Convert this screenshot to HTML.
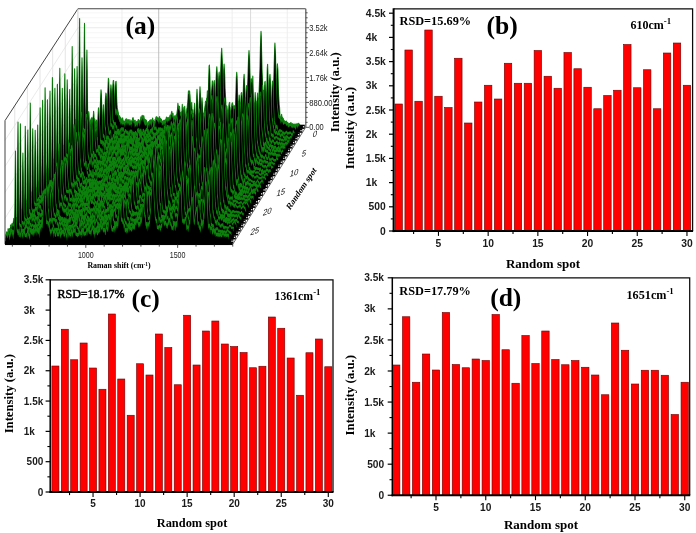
<!DOCTYPE html>
<html><head><meta charset="utf-8"><title>figure</title>
<style>html,body{margin:0;padding:0;background:#fff;}svg{display:block;filter:blur(0.5px);}</style>
</head><body>
<svg width="696" height="533" viewBox="0 0 696 533">
<rect width="696" height="533" fill="#fff"/>
<g id="panel-a">
<rect x="77.90" y="8.75" width="227.75" height="118.60" fill="#fff"/>
<path d="M77.90,122.37 H305.65" fill="none" stroke="#f4f4f4" stroke-width="0.8"/>
<path d="M77.90,117.39 H305.65" fill="none" stroke="#f4f4f4" stroke-width="0.8"/>
<path d="M77.90,112.41 H305.65" fill="none" stroke="#f4f4f4" stroke-width="0.8"/>
<path d="M77.90,107.43 H305.65" fill="none" stroke="#f4f4f4" stroke-width="0.8"/>
<path d="M5.00,218.29 L77.90,102.45 H305.65" fill="none" stroke="#e4e4e4" stroke-width="0.8"/>
<path d="M77.90,97.47 H305.65" fill="none" stroke="#f4f4f4" stroke-width="0.8"/>
<path d="M77.90,92.49 H305.65" fill="none" stroke="#f4f4f4" stroke-width="0.8"/>
<path d="M77.90,87.51 H305.65" fill="none" stroke="#f4f4f4" stroke-width="0.8"/>
<path d="M77.90,82.53 H305.65" fill="none" stroke="#f4f4f4" stroke-width="0.8"/>
<path d="M5.00,192.33 L77.90,77.55 H305.65" fill="none" stroke="#e4e4e4" stroke-width="0.8"/>
<path d="M77.90,72.57 H305.65" fill="none" stroke="#f4f4f4" stroke-width="0.8"/>
<path d="M77.90,67.59 H305.65" fill="none" stroke="#f4f4f4" stroke-width="0.8"/>
<path d="M77.90,62.61 H305.65" fill="none" stroke="#f4f4f4" stroke-width="0.8"/>
<path d="M77.90,57.63 H305.65" fill="none" stroke="#f4f4f4" stroke-width="0.8"/>
<path d="M5.00,166.38 L77.90,52.65 H305.65" fill="none" stroke="#e4e4e4" stroke-width="0.8"/>
<path d="M77.90,47.67 H305.65" fill="none" stroke="#f4f4f4" stroke-width="0.8"/>
<path d="M77.90,42.69 H305.65" fill="none" stroke="#f4f4f4" stroke-width="0.8"/>
<path d="M77.90,37.71 H305.65" fill="none" stroke="#f4f4f4" stroke-width="0.8"/>
<path d="M77.90,32.73 H305.65" fill="none" stroke="#f4f4f4" stroke-width="0.8"/>
<path d="M5.00,140.42 L77.90,27.75 H305.65" fill="none" stroke="#e4e4e4" stroke-width="0.8"/>
<path d="M77.90,22.77 H305.65" fill="none" stroke="#f4f4f4" stroke-width="0.8"/>
<path d="M77.90,17.79 H305.65" fill="none" stroke="#f4f4f4" stroke-width="0.8"/>
<path d="M77.90,12.81 H305.65" fill="none" stroke="#f4f4f4" stroke-width="0.8"/>
<line x1="121.98" y1="8.75" x2="121.98" y2="127.35" stroke="#ececec" stroke-width="0.9"/>
<line x1="158.71" y1="8.75" x2="158.71" y2="127.35" stroke="#b8b8b8" stroke-width="0.9"/>
<line x1="232.18" y1="8.75" x2="232.18" y2="127.35" stroke="#ececec" stroke-width="0.9"/>
<line x1="250.55" y1="8.75" x2="250.55" y2="127.35" stroke="#d8d8d8" stroke-width="0.9"/>
<line x1="287.28" y1="8.75" x2="287.28" y2="127.35" stroke="#ececec" stroke-width="0.9"/>
<line x1="65.27" y1="147.60" x2="65.27" y2="28.12" stroke="#dedede" stroke-width="0.8"/>
<line x1="52.65" y1="167.84" x2="52.65" y2="47.50" stroke="#dedede" stroke-width="0.8"/>
<line x1="40.02" y1="188.09" x2="40.02" y2="66.87" stroke="#dedede" stroke-width="0.8"/>
<line x1="27.39" y1="208.34" x2="27.39" y2="86.25" stroke="#dedede" stroke-width="0.8"/>
<line x1="14.77" y1="228.59" x2="14.77" y2="105.62" stroke="#dedede" stroke-width="0.8"/>
<path d="M5.0,244.25 V120.61 L77.90,8.75 H305.65" fill="none" stroke="#444" stroke-width="1"/>
<line x1="77.90" y1="8.75" x2="77.90" y2="127.35" stroke="#c8c8c8" stroke-width="0.8"/>
<clipPath id="tailclip"><path d="M287.7,107.3 L211.8,252.25 H315.6 V107.3Z"/></clipPath>
<g stroke-linejoin="round">
<defs><path id="s0" d="M77.0 128.8L77.0 123.7L77.4 124.1L77.8 123.2L78.2 125.0L78.7 123.9L79.1 123.4L79.5 125.1L79.9 121.4L80.3 122.2L80.7 121.3L81.1 124.3L81.5 125.5L81.9 125.2L82.3 124.6L82.7 123.1L83.1 123.2L83.5 124.4L83.9 125.7L84.3 125.3L84.8 121.8L85.2 123.9L85.6 122.1L86.0 118.8L86.4 105.9L86.6 76.0L86.9 50.0L87.2 72.8L87.2 76.8L87.6 110.5L88.0 122.3L88.4 122.1L88.8 123.0L89.2 126.0L89.6 123.0L90.0 122.3L90.4 121.5L90.9 120.4L91.3 121.9L91.7 122.9L92.1 125.8L92.5 123.2L92.9 124.5L93.3 124.5L93.7 125.7L94.1 125.3L94.5 123.8L94.9 119.3L95.3 123.5L95.7 124.5L96.1 122.5L96.5 120.0L97.0 121.0L97.4 126.0L97.8 127.6L98.2 124.9L98.6 125.5L99.0 126.4L99.4 123.0L99.8 121.6L100.2 122.8L100.6 123.1L101.0 122.8L101.4 120.6L101.8 121.6L102.2 122.2L102.6 122.3L103.1 126.1L103.5 122.3L103.9 121.6L104.3 122.1L104.7 126.7L105.1 125.9L105.5 122.9L105.9 126.7L106.3 125.0L106.7 122.2L107.1 125.4L107.5 121.2L107.9 121.6L108.3 122.9L108.7 122.4L109.2 121.6L109.6 122.1L110.0 120.3L110.4 122.8L110.8 123.0L111.2 120.2L111.6 120.7L112.0 122.1L112.4 118.7L112.8 115.7L113.2 117.0L113.6 117.5L114.0 112.8L114.4 107.1L114.8 99.5L115.3 86.3L115.8 81.6L116.1 81.3L116.5 94.3L116.9 103.9L117.3 107.9L117.7 110.2L118.1 112.6L118.5 114.9L118.9 116.4L119.3 116.8L119.7 116.1L120.1 117.4L120.5 117.6L120.9 117.9L121.4 119.6L121.8 119.3L122.2 119.9L122.6 117.8L123.0 120.3L123.4 122.6L123.8 123.5L124.2 123.2L124.6 121.5L125.0 123.3L125.4 122.6L125.8 119.8L126.2 126.9L126.6 126.7L127.0 124.2L127.5 123.1L127.9 123.0L128.3 124.2L128.7 122.7L129.1 122.9L129.5 124.4L129.9 119.6L130.3 121.7L130.7 124.1L131.1 124.1L131.5 124.3L131.9 124.1L132.3 127.6L132.7 126.5L133.1 122.9L133.6 125.6L134.0 124.6L134.4 122.4L134.8 121.8L135.2 120.4L135.6 125.7L136.0 125.1L136.4 124.9L136.8 123.0L137.2 121.5L137.6 127.6L138.0 123.2L138.4 126.1L138.8 123.3L139.2 126.2L139.7 124.2L140.1 121.6L140.5 123.1L140.9 123.0L141.3 121.8L141.7 122.4L142.1 123.0L142.5 120.1L142.9 119.8L143.3 121.8L143.7 116.6L144.1 121.4L144.5 119.0L144.9 120.2L145.4 120.2L145.8 119.6L146.2 120.7L146.6 120.6L147.0 124.7L147.4 126.3L147.8 123.1L148.2 124.9L148.6 125.7L149.0 126.8L149.4 122.3L149.8 121.6L150.2 120.1L150.6 123.9L151.0 123.6L151.5 125.5L151.9 122.7L152.3 120.3L152.7 123.9L153.1 120.7L153.5 120.6L153.9 122.7L154.3 126.6L154.7 121.8L155.1 122.9L155.5 124.1L155.9 122.6L156.3 122.0L156.7 119.8L157.1 123.4L157.6 120.6L158.0 118.7L158.4 117.9L158.8 120.2L159.2 121.8L159.6 119.0L160.0 119.9L160.4 120.5L160.8 118.6L161.2 121.3L161.6 126.1L162.0 124.4L162.4 126.6L162.8 122.5L163.2 122.1L163.7 123.6L164.1 123.1L164.5 121.4L164.9 122.2L165.3 120.2L165.7 122.0L166.1 120.6L166.5 119.3L166.9 118.6L167.3 122.5L167.7 121.0L168.1 125.5L168.5 125.6L168.9 127.2L169.3 122.2L169.8 124.6L170.2 123.1L170.6 122.8L171.0 122.3L171.4 123.0L171.8 121.6L172.2 118.0L172.6 119.5L173.0 118.6L173.4 116.8L173.8 117.9L174.2 120.5L174.6 120.7L175.0 118.4L175.4 122.8L175.9 122.6L176.3 119.7L176.7 119.1L177.1 120.2L177.5 119.1L177.9 119.7L178.3 122.0L178.7 123.1L179.1 121.2L179.5 116.8L179.9 116.6L180.3 115.3L180.7 112.7L181.1 112.6L181.5 111.7L182.0 115.6L182.4 115.7L182.8 121.6L183.2 119.4L183.6 120.7L184.0 123.8L184.4 120.2L184.8 120.8L185.2 124.6L185.6 123.5L186.0 121.0L186.4 121.4L186.8 119.2L187.2 118.4L187.6 118.0L188.1 118.3L188.5 116.1L188.9 116.1L189.3 115.7L189.7 119.1L190.1 113.2L190.5 108.3L190.9 107.1L191.3 105.8L191.7 102.2L192.1 110.4L192.5 111.5L192.9 109.9L193.3 116.3L193.7 116.3L194.2 114.5L194.6 117.8L195.0 118.0L195.4 117.6L195.8 120.8L196.2 120.6L196.6 119.9L197.0 118.7L197.4 119.9L197.8 120.6L198.2 122.4L198.6 121.8L199.0 119.4L199.4 119.9L199.8 121.8L200.3 122.5L200.7 116.3L201.1 116.9L201.5 118.0L201.9 124.2L202.3 120.4L202.7 119.3L203.1 116.7L203.5 118.0L203.9 119.2L204.3 118.4L204.7 122.4L205.1 118.2L205.5 117.7L205.9 119.0L206.4 115.3L206.8 112.4L207.2 116.3L207.6 115.2L208.0 112.2L208.4 111.3L208.8 112.7L209.2 115.2L209.6 111.3L210.0 112.3L210.4 116.8L210.8 118.7L211.2 113.6L211.6 112.8L212.0 110.3L212.5 110.4L212.9 112.0L213.3 108.3L213.7 108.4L214.1 102.2L214.5 95.9L214.8 93.0L215.3 98.4L215.7 103.0L216.1 106.2L216.5 109.1L216.9 110.7L217.3 112.7L217.7 114.8L218.1 113.8L218.6 114.8L219.0 116.8L219.4 117.0L219.8 115.6L220.2 114.9L220.6 113.6L221.0 112.5L221.4 110.4L221.8 108.4L222.2 106.8L222.6 98.9L223.0 88.6L223.4 77.8L223.8 68.1L224.1 64.1L224.7 75.0L225.1 89.4L225.5 96.6L225.9 104.4L226.3 106.3L226.7 111.8L227.1 117.6L227.5 117.6L227.9 113.4L228.3 115.9L228.7 118.9L229.1 119.2L229.5 117.1L229.9 116.6L230.3 117.1L230.8 114.9L231.2 115.6L231.6 117.1L232.0 116.5L232.4 114.1L232.8 114.3L233.2 113.9L233.6 116.9L234.0 115.4L234.4 112.3L234.8 112.5L235.2 110.6L235.6 111.9L236.0 112.7L236.5 115.5L236.9 111.8L237.3 112.9L237.7 115.9L238.1 116.1L238.5 111.2L238.9 114.0L239.3 111.8L239.7 109.5L240.1 109.7L240.5 112.5L240.9 112.5L241.3 113.4L241.7 113.2L242.1 114.3L242.6 116.4L243.0 115.9L243.4 116.4L243.8 117.3L244.2 117.9L244.6 118.6L245.0 117.1L245.4 119.7L245.8 119.7L246.2 118.4L246.6 120.3L247.0 118.8L247.4 120.8L247.8 118.5L248.2 114.6L248.7 112.2L249.1 111.0L249.5 108.8L249.9 107.0L250.3 96.0L250.7 88.8L251.1 79.6L251.5 78.8L251.9 82.3L252.3 93.3L252.7 97.6L253.1 102.0L253.5 110.7L253.9 111.7L254.3 111.6L254.8 116.4L255.2 118.3L255.6 117.4L256.0 115.7L256.4 115.9L256.8 113.7L257.2 113.7L257.6 114.0L258.0 114.5L258.4 113.5L258.8 113.8L259.2 118.4L259.6 118.4L260.0 119.1L260.4 119.0L260.9 116.4L261.3 114.2L261.7 110.9L262.1 110.8L262.5 106.1L262.9 97.1L263.4 90.2L263.7 91.7L264.1 97.5L264.5 104.9L264.9 107.0L265.3 109.2L265.7 111.0L266.1 112.1L266.5 110.2L267.0 111.6L267.4 105.8L267.8 100.5L268.2 104.1L268.6 106.4L269.0 110.0L269.4 115.6L269.8 116.4L270.2 117.4L270.6 116.7L271.0 116.4L271.4 117.6L271.8 119.5L272.2 118.8L272.6 118.2L273.1 116.3L273.5 116.0L273.9 117.2L274.3 117.8L274.7 115.0L275.1 112.9L275.5 109.9L275.9 102.6L276.3 93.9L276.7 80.3L277.1 66.3L277.4 63.9L277.9 70.3L278.3 87.2L278.7 96.4L279.2 104.7L279.6 107.9L280.0 116.8L280.4 118.1L280.8 117.5L281.2 117.2L281.6 114.4L282.0 117.5L282.4 117.1L282.8 118.2L283.2 118.5L283.6 119.6L284.0 121.3L284.4 120.9L284.8 122.8L285.3 121.6L285.7 123.3L286.1 122.9L286.5 121.1L286.9 122.8L287.3 123.2L287.7 122.5L288.1 123.3L288.5 124.5L288.9 124.0L289.3 123.6L289.7 123.4L290.1 124.7L290.5 123.0L290.9 122.5L291.4 123.9L291.8 124.2L292.2 124.9L292.6 123.6L293.0 125.0L293.4 124.3L293.8 125.2L294.2 125.7L294.6 124.6L295.0 123.7L295.4 124.6L295.8 125.5L296.2 124.5L296.6 125.0L297.0 124.8L297.5 123.7L297.9 123.7L298.3 125.2L298.7 123.2L299.1 124.6L299.5 124.4L299.9 125.6L299.9 128.8"/></defs>
<use href="#s0" fill="#0c820c" stroke="#0c820c" stroke-width="1.1"/>
<use href="#s0" y="2.84" fill="#000"/>
<use href="#s0" y="2.09" fill="#000" clip-path="url(#tailclip)"/>
<rect x="299.2" y="124.7" width="5.6" height="4.2" fill="#000"/>
<defs><path id="s1" d="M74.6 132.7L74.6 125.2L75.0 123.2L75.4 119.3L75.8 119.8L76.2 122.1L76.6 122.0L77.0 121.8L77.4 121.3L77.8 121.6L78.2 121.4L78.6 121.8L79.0 122.7L79.4 120.5L79.8 119.8L80.3 123.8L80.7 124.7L81.1 122.4L81.5 124.2L81.9 123.2L82.3 122.7L82.7 121.1L83.1 121.1L83.5 112.3L83.9 91.0L84.2 51.7L84.5 23.4L84.7 50.0L84.8 55.1L85.1 101.7L85.5 117.7L85.9 118.6L86.4 125.1L86.8 121.7L87.2 120.0L87.6 124.6L88.0 122.8L88.4 122.6L88.8 123.6L89.2 126.6L89.6 126.3L90.0 123.3L90.4 120.7L90.8 121.4L91.2 118.3L91.6 121.3L92.0 117.2L92.5 121.7L92.9 119.1L93.3 118.0L93.7 118.2L94.1 118.4L94.5 122.4L94.9 126.1L95.3 124.1L95.7 125.6L96.1 123.5L96.5 124.9L96.9 124.0L97.3 123.3L97.7 122.7L98.1 124.0L98.6 120.9L99.0 123.4L99.4 123.3L99.8 122.1L100.2 122.6L100.6 120.1L101.0 122.1L101.4 123.4L101.8 120.9L102.2 121.1L102.6 123.7L103.0 123.9L103.4 122.6L103.8 120.1L104.3 120.1L104.7 121.5L105.1 126.5L105.5 122.6L105.9 124.6L106.3 125.8L106.7 124.5L107.1 122.4L107.5 121.7L107.9 116.7L108.3 119.8L108.7 121.7L109.1 118.4L109.5 118.6L109.9 119.3L110.4 119.5L110.8 116.8L111.2 111.3L111.6 108.3L112.0 104.9L112.4 95.4L112.8 85.8L113.3 80.6L113.6 80.6L114.0 89.5L114.4 96.5L114.8 105.4L115.2 112.2L115.6 112.1L116.0 109.1L116.5 113.9L116.9 110.9L117.3 112.4L117.7 111.9L118.1 113.7L118.5 117.0L118.9 115.6L119.3 118.5L119.7 118.9L120.1 118.7L120.5 122.4L120.9 120.3L121.3 120.1L121.7 121.4L122.1 122.6L122.6 121.4L123.0 120.8L123.4 121.8L123.8 121.5L124.2 121.8L124.6 125.2L125.0 120.9L125.4 119.7L125.8 123.4L126.2 118.6L126.6 121.2L127.0 122.6L127.4 121.5L127.8 119.4L128.2 122.6L128.7 119.9L129.1 121.1L129.5 123.3L129.9 121.6L130.3 122.8L130.7 121.7L131.1 120.8L131.5 121.9L131.9 125.0L132.3 119.8L132.7 118.2L133.1 117.7L133.5 120.4L133.9 120.1L134.3 120.2L134.8 124.7L135.2 123.7L135.6 122.6L136.0 124.2L136.4 122.7L136.8 121.4L137.2 122.5L137.6 124.8L138.0 120.1L138.4 119.5L138.8 120.7L139.2 120.2L139.6 123.9L140.0 121.7L140.4 121.1L140.9 116.9L141.3 117.2L141.7 118.5L142.1 115.3L142.5 115.8L142.9 118.6L143.3 119.8L143.7 115.5L144.1 119.9L144.5 121.6L144.9 121.7L145.3 123.1L145.7 122.1L146.1 121.6L146.5 121.5L147.0 125.7L147.4 126.0L147.8 126.5L148.2 122.1L148.6 121.6L149.0 126.2L149.4 122.6L149.8 120.3L150.2 121.7L150.6 121.6L151.0 119.6L151.4 125.0L151.8 122.5L152.2 120.4L152.6 118.0L153.1 120.3L153.5 124.1L153.9 121.6L154.3 123.4L154.7 122.2L155.1 119.4L155.5 121.5L155.9 117.4L156.3 116.9L156.7 116.8L157.1 117.2L157.5 119.0L157.9 118.2L158.3 118.6L158.7 120.7L159.2 120.7L159.6 116.6L160.0 119.5L160.4 118.7L160.8 120.0L161.2 119.6L161.6 119.8L162.0 123.2L162.4 121.4L162.8 122.1L163.2 120.7L163.6 122.7L164.0 120.0L164.4 121.7L164.8 123.5L165.3 119.9L165.7 122.3L166.1 118.4L166.5 117.1L166.9 119.6L167.3 117.5L167.7 121.0L168.1 117.9L168.5 118.3L168.9 117.4L169.3 118.0L169.7 116.8L170.1 115.1L170.5 117.1L170.9 116.1L171.4 112.8L171.8 111.4L172.2 114.0L172.6 115.2L173.0 113.2L173.4 119.2L173.8 122.8L174.2 117.8L174.6 116.4L175.0 115.6L175.4 119.7L175.8 117.2L176.2 116.5L176.6 115.5L177.0 112.9L177.5 109.4L177.9 103.2L178.3 106.8L178.7 105.9L179.1 108.0L179.5 106.4L179.9 111.6L180.3 112.8L180.7 113.5L181.1 119.3L181.5 115.3L181.9 114.5L182.3 116.8L182.7 117.5L183.1 117.6L183.6 116.1L184.0 115.8L184.4 114.6L184.8 117.4L185.2 117.4L185.6 115.4L186.0 113.8L186.4 114.0L186.8 109.1L187.2 107.4L187.6 103.4L188.0 99.1L188.4 91.5L188.8 90.7L189.2 92.0L189.7 95.1L190.1 100.3L190.5 108.1L190.9 110.6L191.3 110.8L191.7 111.9L192.1 114.0L192.5 116.2L192.9 115.8L193.3 114.0L193.7 113.5L194.1 115.4L194.5 117.3L194.9 117.1L195.4 119.5L195.8 115.4L196.2 114.1L196.6 115.4L197.0 114.8L197.4 112.8L197.8 114.8L198.2 115.3L198.6 114.1L199.0 116.2L199.4 115.0L199.8 117.0L200.2 114.4L200.6 116.2L201.0 115.2L201.5 114.6L201.9 116.9L202.3 115.8L202.7 113.6L203.1 113.5L203.5 113.7L203.9 112.9L204.3 111.4L204.7 108.4L205.1 106.2L205.5 101.5L205.9 101.1L206.3 103.2L206.7 108.4L207.1 107.9L207.6 107.4L208.0 109.0L208.4 106.3L208.8 105.1L209.2 105.3L209.6 107.0L210.0 102.1L210.4 101.1L210.8 102.5L211.2 93.5L211.6 90.8L212.0 86.0L212.3 80.8L212.8 83.2L213.2 91.3L213.7 96.0L214.1 99.6L214.5 106.9L214.9 107.0L215.3 106.9L215.7 110.1L216.1 108.3L216.5 109.6L216.9 108.6L217.3 108.5L217.7 105.1L218.1 105.6L218.5 105.4L218.9 106.2L219.3 102.4L219.8 93.0L220.2 87.0L220.6 76.0L221.0 62.0L221.4 52.5L221.7 48.3L222.2 58.6L222.6 70.8L223.0 85.6L223.4 94.3L223.8 100.2L224.2 104.8L224.6 106.4L225.0 107.4L225.4 110.2L225.9 111.6L226.3 110.8L226.7 108.0L227.1 110.0L227.5 113.2L227.9 111.6L228.3 110.1L228.7 110.8L229.1 111.1L229.5 112.4L229.9 111.6L230.3 113.4L230.7 110.7L231.1 107.2L231.5 106.8L232.0 103.5L232.4 102.8L232.8 104.2L233.2 108.6L233.6 107.1L234.0 108.5L234.4 113.3L234.8 108.8L235.2 107.9L235.6 106.9L236.0 105.8L236.4 107.5L236.8 106.3L237.2 105.9L237.6 101.7L238.1 103.2L238.5 101.3L238.9 107.2L239.3 107.6L239.7 107.2L240.1 109.6L240.5 111.6L240.9 114.0L241.3 110.6L241.7 109.8L242.1 108.3L242.5 111.5L242.9 108.6L243.3 109.4L243.7 109.0L244.2 109.1L244.6 110.3L245.0 109.7L245.4 106.3L245.8 106.3L246.2 104.0L246.6 100.9L247.0 96.0L247.4 87.9L247.8 81.8L248.2 68.8L248.6 57.3L249.0 50.5L249.4 57.0L249.8 71.4L250.3 82.3L250.7 92.8L251.1 94.4L251.5 102.1L251.9 104.6L252.3 104.8L252.7 106.4L253.1 103.5L253.5 104.5L253.9 106.6L254.3 103.2L254.7 105.9L255.1 102.0L255.5 108.2L255.9 109.8L256.4 109.2L256.8 110.8L257.2 107.5L257.6 104.1L258.0 100.9L258.4 99.9L258.8 97.5L259.2 89.2L259.6 78.9L260.0 66.6L260.4 48.3L261.0 31.4L261.2 34.0L261.6 52.1L262.0 69.1L262.5 81.2L262.9 93.0L263.3 96.1L263.7 98.0L264.1 99.3L264.5 96.9L264.9 91.0L265.3 90.3L265.7 93.3L266.1 99.3L266.5 103.3L266.9 107.9L267.3 108.7L267.7 112.8L268.1 113.8L268.6 112.5L269.0 110.5L269.4 113.3L269.8 113.0L270.2 111.6L270.6 112.6L271.0 111.4L271.4 110.0L271.8 111.4L272.2 110.7L272.6 104.7L273.0 101.0L273.4 92.1L273.8 79.5L274.2 64.2L274.7 47.9L274.9 43.0L275.5 54.0L275.9 77.1L276.3 87.5L276.7 97.2L277.1 104.7L277.5 107.5L277.9 110.7L278.3 114.4L278.7 115.0L279.1 115.5L279.5 115.6L279.9 116.7L280.3 117.8L280.8 122.3L281.2 121.5L281.6 119.3L282.0 118.7L282.4 120.5L282.8 121.2L283.2 122.1L283.6 122.8L284.0 121.7L284.4 121.1L284.8 121.9L285.2 122.0L285.6 121.3L286.0 123.4L286.5 123.3L286.9 123.5L287.3 122.8L287.7 124.7L288.1 125.7L288.5 124.4L288.9 124.9L289.3 124.4L289.7 123.9L290.1 124.0L290.5 123.6L290.9 124.2L291.3 124.6L291.7 126.2L292.1 124.6L292.6 126.1L293.0 125.6L293.4 124.2L293.8 126.3L294.2 125.0L294.6 125.9L295.0 125.7L295.4 127.0L295.8 127.8L296.2 125.9L296.6 123.8L297.0 124.3L297.4 125.1L297.4 132.7"/></defs>
<use href="#s1" fill="#0c820c" stroke="#0c820c" stroke-width="1.1"/>
<use href="#s1" y="3.04" fill="#000"/>
<use href="#s1" y="2.29" fill="#000" clip-path="url(#tailclip)"/>
<rect x="296.7" y="128.6" width="5.6" height="4.2" fill="#000"/>
<defs><path id="s2" d="M72.1 136.7L72.1 133.4L72.5 135.2L72.9 134.4L73.3 135.5L73.7 131.5L74.1 131.1L74.5 134.2L74.9 130.5L75.4 130.1L75.8 135.1L76.2 130.0L76.6 130.1L77.0 127.8L77.4 133.0L77.8 131.5L78.2 131.2L78.6 131.4L79.0 131.5L79.4 129.8L79.8 133.6L80.2 134.2L80.6 134.0L81.0 130.0L81.5 113.1L81.7 82.1L82.0 57.9L82.3 76.4L82.3 83.2L82.7 118.7L83.1 127.4L83.5 128.7L83.9 130.4L84.3 131.9L84.7 129.0L85.1 132.0L85.5 130.8L85.9 129.5L86.3 131.6L86.7 130.3L87.1 133.3L87.6 130.4L88.0 130.7L88.4 133.9L88.8 130.6L89.2 131.9L89.6 127.7L90.0 128.9L90.4 128.1L90.8 127.7L91.2 129.6L91.6 129.8L92.0 131.7L92.4 130.3L92.8 131.2L93.2 131.2L93.7 135.5L94.1 131.5L94.5 131.8L94.9 135.2L95.3 133.0L95.7 131.6L96.1 130.0L96.5 133.3L96.9 129.7L97.3 131.6L97.7 127.5L98.1 130.8L98.5 130.4L98.9 132.1L99.3 134.1L99.8 130.7L100.2 129.9L100.6 128.4L101.0 129.1L101.4 131.9L101.8 134.8L102.2 134.0L102.6 133.6L103.0 133.7L103.4 131.1L103.8 130.6L104.2 131.4L104.6 130.8L105.0 131.0L105.4 130.2L105.9 128.8L106.3 127.6L106.7 129.8L107.1 131.6L107.5 126.3L107.9 125.9L108.3 122.7L108.7 124.8L109.1 120.3L109.5 113.8L109.9 107.8L110.3 96.0L110.9 84.8L111.1 86.2L111.5 94.8L112.0 108.6L112.4 117.8L112.8 119.5L113.2 120.4L113.6 122.6L114.0 126.3L114.4 123.6L114.8 122.4L115.2 122.6L115.6 125.3L116.0 125.7L116.4 125.8L116.8 128.9L117.2 132.7L117.6 130.4L118.1 129.6L118.5 130.3L118.9 129.1L119.3 131.5L119.7 131.5L120.1 132.0L120.5 130.6L120.9 128.4L121.3 131.0L121.7 127.7L122.1 127.6L122.5 128.9L122.9 129.8L123.3 127.9L123.7 130.9L124.2 131.8L124.6 133.8L125.0 131.8L125.4 129.5L125.8 130.2L126.2 130.6L126.6 131.9L127.0 131.7L127.4 134.5L127.8 131.0L128.2 132.5L128.6 134.2L129.0 134.2L129.4 134.3L129.8 131.3L130.3 129.9L130.7 133.8L131.1 131.0L131.5 130.1L131.9 132.4L132.3 134.9L132.7 134.4L133.1 134.0L133.5 132.1L133.9 132.6L134.3 135.5L134.7 132.9L135.1 135.0L135.5 131.3L135.9 133.7L136.4 133.6L136.8 133.8L137.2 133.2L137.6 129.4L138.0 128.8L138.4 128.7L138.8 128.8L139.2 131.8L139.6 130.5L140.0 130.1L140.4 131.0L140.8 129.1L141.2 131.2L141.6 132.1L142.0 133.3L142.5 135.5L142.9 131.8L143.3 129.2L143.7 130.4L144.1 132.9L144.5 135.5L144.9 133.2L145.3 130.0L145.7 130.6L146.1 129.6L146.5 128.3L146.9 128.5L147.3 131.4L147.7 129.6L148.1 129.5L148.6 133.7L149.0 133.1L149.4 134.7L149.8 132.8L150.2 130.8L150.6 133.1L151.0 135.5L151.4 130.3L151.8 130.0L152.2 127.8L152.6 131.9L153.0 128.7L153.4 125.4L153.8 124.0L154.2 127.3L154.7 127.4L155.1 128.4L155.5 127.1L155.9 126.9L156.3 128.8L156.7 132.3L157.1 129.9L157.5 131.4L157.9 129.9L158.3 130.2L158.7 127.8L159.1 127.9L159.5 130.8L159.9 130.4L160.4 127.7L160.8 130.9L161.2 130.3L161.6 128.7L162.0 128.0L162.4 129.1L162.8 132.7L163.2 133.9L163.6 131.5L164.0 130.4L164.4 126.0L164.8 130.6L165.2 128.5L165.6 128.4L166.0 132.6L166.5 132.4L166.9 130.3L167.3 130.4L167.7 129.3L168.1 127.1L168.5 128.0L168.9 125.5L169.3 126.9L169.7 128.0L170.1 127.1L170.5 129.2L170.9 128.6L171.3 126.1L171.7 128.1L172.1 129.1L172.6 127.7L173.0 129.1L173.4 126.7L173.8 129.7L174.2 126.8L174.6 126.9L175.0 126.1L175.4 119.3L175.8 119.8L176.2 114.7L176.6 116.6L177.0 118.0L177.4 124.5L177.8 123.8L178.2 123.6L178.7 126.7L179.1 128.1L179.5 124.0L179.9 126.8L180.3 129.0L180.7 130.1L181.1 128.5L181.5 128.1L181.9 128.1L182.3 125.1L182.7 127.6L183.1 126.7L183.5 124.2L183.9 127.2L184.3 123.7L184.8 119.8L185.2 122.5L185.6 120.5L186.0 117.1L186.4 116.0L186.8 112.9L187.2 119.0L187.6 119.5L188.0 119.5L188.4 126.2L188.8 126.9L189.2 130.5L189.6 127.2L190.0 129.1L190.4 129.1L190.9 128.6L191.3 127.7L191.7 129.0L192.1 128.9L192.5 129.9L192.9 129.1L193.3 131.2L193.7 129.7L194.1 132.8L194.5 131.3L194.9 126.3L195.3 127.9L195.7 130.9L196.1 129.2L196.5 130.7L197.0 132.5L197.4 131.4L197.8 128.2L198.2 127.7L198.6 128.3L199.0 129.9L199.4 130.6L199.8 126.2L200.2 126.5L200.6 128.4L201.0 130.7L201.4 129.6L201.8 121.5L202.2 124.2L202.6 122.0L203.1 119.7L203.5 119.5L203.9 120.4L204.3 123.8L204.7 125.3L205.1 121.3L205.5 124.6L205.9 122.8L206.3 126.6L206.7 124.9L207.1 122.7L207.5 119.5L207.9 120.7L208.3 115.7L208.7 111.1L209.2 107.6L209.6 101.0L209.8 101.6L210.4 106.1L210.8 110.4L211.2 119.7L211.6 119.9L212.0 122.8L212.4 125.3L212.8 124.8L213.2 122.7L213.6 124.2L214.0 121.7L214.4 125.1L214.8 126.3L215.3 121.0L215.7 120.6L216.1 118.5L216.5 119.6L216.9 115.0L217.3 111.3L217.7 104.7L218.1 96.7L218.5 83.0L218.9 74.0L219.2 72.1L219.7 82.6L220.1 91.0L220.5 103.5L220.9 112.1L221.4 117.3L221.8 119.9L222.2 123.4L222.6 123.7L223.0 125.0L223.4 125.8L223.8 127.2L224.2 126.2L224.6 126.9L225.0 126.3L225.4 126.0L225.8 125.7L226.2 130.3L226.6 128.9L227.0 128.8L227.5 125.7L227.9 128.7L228.3 127.8L228.7 126.1L229.1 124.8L229.5 120.9L229.9 121.7L230.3 119.9L230.7 124.7L231.1 127.9L231.5 124.0L231.9 124.4L232.3 124.5L232.7 125.2L233.1 124.6L233.6 127.1L234.0 123.5L234.4 124.0L234.8 120.4L235.2 120.2L235.6 124.3L236.0 125.6L236.4 122.8L236.8 124.8L237.2 126.4L237.6 126.1L238.0 127.4L238.4 128.1L238.8 127.3L239.2 126.9L239.7 124.2L240.1 125.9L240.5 123.1L240.9 122.1L241.3 121.7L241.7 122.5L242.1 124.1L242.5 124.2L242.9 124.2L243.3 124.4L243.7 122.2L244.1 120.8L244.5 113.9L244.9 110.2L245.3 105.9L245.8 100.9L246.2 89.9L246.6 85.5L247.0 90.4L247.4 99.5L247.8 110.1L248.2 112.1L248.6 116.0L249.0 114.0L249.4 118.8L249.8 121.2L250.2 119.1L250.6 120.4L251.0 119.9L251.5 120.0L251.9 120.9L252.3 118.8L252.7 120.2L253.1 120.1L253.5 124.2L253.9 125.1L254.3 127.1L254.7 124.3L255.1 127.4L255.5 124.5L255.9 121.8L256.3 119.3L256.7 121.0L257.1 115.3L257.6 112.7L258.0 106.9L258.5 102.0L258.8 99.3L259.2 103.1L259.6 112.6L260.0 118.3L260.4 120.6L260.8 116.4L261.2 117.3L261.6 119.4L262.0 120.4L262.4 116.1L262.8 110.1L263.2 109.0L263.7 115.9L264.1 121.4L264.5 124.2L264.9 128.5L265.3 125.4L265.7 128.2L266.1 125.5L266.5 129.7L266.9 130.3L267.3 127.7L267.7 128.5L268.1 125.8L268.5 125.9L268.9 127.5L269.3 124.1L269.8 121.4L270.2 123.8L270.6 115.4L271.0 111.0L271.4 103.0L271.8 96.8L272.2 85.2L272.5 81.1L273.0 87.7L273.4 103.2L273.8 112.6L274.2 120.9L274.6 122.4L275.0 123.1L275.4 128.0L275.9 128.4L276.3 127.0L276.7 125.0L277.1 126.3L277.5 128.8L277.9 131.5L278.3 132.2L278.7 132.1L279.1 130.7L279.5 130.8L279.9 129.3L280.3 130.2L280.7 131.8L281.1 130.2L281.5 130.2L282.0 131.1L282.4 132.3L282.8 133.8L283.2 133.6L283.6 131.9L284.0 132.9L284.4 133.8L284.8 132.8L285.2 132.5L285.6 132.1L286.0 131.9L286.4 131.2L286.8 133.1L287.2 132.1L287.6 133.6L288.1 132.6L288.5 132.7L288.9 132.8L289.3 132.1L289.7 132.8L290.1 132.1L290.5 132.0L290.9 132.7L291.3 133.6L291.7 134.1L292.1 134.1L292.5 133.8L292.9 133.5L293.3 130.7L293.7 131.9L294.2 132.2L294.6 133.8L295.0 134.2L295.0 136.7"/></defs>
<use href="#s2" fill="#0c820c" stroke="#0c820c" stroke-width="1.1"/>
<use href="#s2" y="2.66" fill="#000"/>
<use href="#s2" y="1.91" fill="#000" clip-path="url(#tailclip)"/>
<rect x="294.2" y="132.6" width="5.6" height="4.2" fill="#000"/>
<defs><path id="s3" d="M69.6 140.6L69.6 135.6L70.0 134.4L70.4 135.0L70.9 137.9L71.3 133.4L71.7 132.1L72.1 136.4L72.5 132.9L72.9 133.8L73.3 135.7L73.7 138.2L74.1 135.9L74.5 135.8L74.9 133.8L75.3 132.5L75.7 131.8L76.1 135.1L76.5 135.8L77.0 132.8L77.4 133.7L77.8 134.5L78.2 133.4L78.6 127.5L79.0 100.8L79.3 55.1L79.6 18.6L79.8 47.0L79.8 54.9L80.2 109.6L80.6 126.1L81.0 131.3L81.4 133.2L81.8 133.8L82.2 133.4L82.6 135.1L83.1 131.8L83.5 135.5L83.9 134.5L84.3 135.6L84.7 136.0L85.1 135.1L85.5 131.7L85.9 135.0L86.3 135.8L86.7 135.6L87.1 135.2L87.5 129.6L87.9 132.7L88.3 131.6L88.7 131.7L89.2 132.1L89.6 130.9L90.0 132.4L90.4 135.0L90.8 135.4L91.2 134.3L91.6 136.0L92.0 136.5L92.4 135.2L92.8 135.8L93.2 132.1L93.6 134.8L94.0 134.2L94.4 136.6L94.8 135.7L95.3 134.8L95.7 135.7L96.1 134.8L96.5 135.2L96.9 133.1L97.3 136.2L97.7 135.0L98.1 133.1L98.5 134.7L98.9 133.5L99.3 133.9L99.7 132.9L100.1 127.7L100.5 132.6L100.9 133.1L101.4 134.3L101.8 135.2L102.2 130.6L102.6 129.9L103.0 131.1L103.4 133.7L103.8 128.0L104.2 127.1L104.6 129.2L105.0 130.1L105.4 127.9L105.8 123.1L106.2 122.5L106.6 120.2L107.0 113.2L107.5 106.4L107.9 89.2L108.4 78.4L108.7 79.9L109.1 93.1L109.5 105.2L109.9 114.1L110.3 122.8L110.7 124.1L111.1 124.8L111.5 123.8L111.9 124.1L112.3 126.8L112.7 126.4L113.1 126.4L113.6 125.8L114.0 129.8L114.4 134.3L114.8 134.2L115.2 134.0L115.6 131.0L116.0 131.6L116.4 135.6L116.8 133.2L117.2 130.9L117.6 132.2L118.0 135.6L118.4 132.1L118.8 132.5L119.3 135.7L119.7 131.3L120.1 133.4L120.5 138.2L120.9 135.7L121.3 135.5L121.7 134.2L122.1 134.0L122.5 136.4L122.9 134.8L123.3 133.6L123.7 134.9L124.1 135.3L124.5 137.3L124.9 136.3L125.4 136.6L125.8 135.9L126.2 136.3L126.6 139.0L127.0 135.6L127.4 136.7L127.8 136.3L128.2 137.4L128.6 136.1L129.0 136.3L129.4 132.5L129.8 137.6L130.2 138.3L130.6 136.3L131.0 137.9L131.5 136.6L131.9 131.0L132.3 133.1L132.7 134.3L133.1 133.7L133.5 133.4L133.9 133.6L134.3 134.2L134.7 134.9L135.1 132.2L135.5 131.8L135.9 132.9L136.3 132.7L136.7 134.4L137.1 134.1L137.6 135.3L138.0 133.6L138.4 130.2L138.8 130.1L139.2 132.7L139.6 134.3L140.0 132.9L140.4 132.6L140.8 135.5L141.2 135.1L141.6 133.6L142.0 133.2L142.4 132.8L142.8 132.4L143.2 133.4L143.7 135.2L144.1 137.8L144.5 137.3L144.9 134.0L145.3 131.7L145.7 132.1L146.1 134.6L146.5 137.8L146.9 134.2L147.3 136.4L147.7 135.5L148.1 132.0L148.5 134.7L148.9 135.2L149.3 133.3L149.8 134.7L150.2 132.3L150.6 129.5L151.0 131.9L151.4 129.1L151.8 132.3L152.2 131.3L152.6 131.9L153.0 136.6L153.4 134.6L153.8 132.5L154.2 133.7L154.6 136.1L155.0 133.5L155.4 135.4L155.9 132.9L156.3 132.1L156.7 132.7L157.1 134.2L157.5 134.3L157.9 131.3L158.3 129.6L158.7 132.0L159.1 137.7L159.5 137.7L159.9 138.0L160.3 132.7L160.7 136.2L161.1 132.3L161.5 132.9L162.0 133.9L162.4 131.2L162.8 133.2L163.2 131.2L163.6 130.4L164.0 133.3L164.4 132.9L164.8 130.2L165.2 135.0L165.6 130.1L166.0 129.7L166.4 127.2L166.8 128.7L167.2 130.2L167.6 134.5L168.1 135.2L168.5 134.6L168.9 133.2L169.3 134.8L169.7 132.7L170.1 131.7L170.5 131.0L170.9 130.2L171.3 129.4L171.7 130.9L172.1 128.4L172.5 126.8L172.9 123.6L173.3 124.6L173.7 122.0L174.2 123.7L174.6 126.3L175.0 128.1L175.4 130.0L175.8 130.7L176.2 132.8L176.6 134.2L177.0 133.2L177.4 133.7L177.8 132.1L178.2 131.7L178.6 130.3L179.0 132.8L179.4 131.8L179.8 131.4L180.3 130.8L180.7 132.2L181.1 127.1L181.5 127.1L181.9 123.8L182.3 124.8L182.7 121.0L183.1 114.9L183.5 110.7L183.9 107.0L184.3 109.0L184.7 109.5L185.1 115.2L185.5 121.6L185.9 124.5L186.4 128.2L186.8 127.4L187.2 129.0L187.6 130.7L188.0 130.0L188.4 126.1L188.8 129.5L189.2 131.8L189.6 132.5L190.0 130.5L190.4 132.5L190.8 134.3L191.2 130.7L191.6 134.2L192.0 135.7L192.5 133.5L192.9 132.6L193.3 135.2L193.7 136.1L194.1 132.8L194.5 133.1L194.9 136.0L195.3 130.5L195.7 128.4L196.1 127.1L196.5 129.5L196.9 132.1L197.3 132.1L197.7 128.5L198.1 129.7L198.6 131.9L199.0 127.7L199.4 125.3L199.8 126.9L200.2 125.9L200.6 121.7L201.0 124.3L201.4 122.4L201.8 124.1L202.2 123.2L202.6 126.8L203.0 127.1L203.4 127.9L203.8 123.5L204.2 123.0L204.7 124.9L205.1 123.5L205.5 119.4L205.9 115.6L206.3 108.6L206.7 103.9L207.1 97.1L207.4 90.7L207.9 95.7L208.3 106.7L208.7 109.8L209.1 113.9L209.5 123.2L209.9 123.0L210.4 122.3L210.8 124.1L211.2 125.3L211.6 123.3L212.0 124.1L212.4 128.8L212.8 125.8L213.2 123.8L213.6 124.6L214.0 118.9L214.4 116.8L214.8 115.4L215.2 107.2L215.6 97.7L216.0 82.0L216.5 70.6L216.8 66.8L217.3 73.6L217.7 90.2L218.1 102.8L218.5 110.7L218.9 117.3L219.3 118.8L219.7 124.1L220.1 125.6L220.5 122.5L220.9 128.6L221.3 129.9L221.7 128.5L222.1 132.8L222.6 134.4L223.0 132.0L223.4 128.2L223.8 128.2L224.2 129.7L224.6 131.1L225.0 124.7L225.4 125.7L225.8 128.4L226.2 123.5L226.6 121.1L227.0 122.7L227.4 124.4L227.8 118.7L228.2 122.2L228.7 125.4L229.1 125.9L229.5 127.5L229.9 125.5L230.3 128.1L230.7 127.6L231.1 125.8L231.5 123.1L231.9 124.6L232.3 123.4L232.7 118.5L233.1 120.1L233.5 120.5L233.9 123.4L234.3 125.5L234.8 128.7L235.2 128.7L235.6 129.1L236.0 130.4L236.4 126.4L236.8 130.7L237.2 131.2L237.6 129.3L238.0 127.1L238.4 129.6L238.8 129.3L239.2 129.8L239.6 130.0L240.0 125.3L240.4 125.3L240.9 125.1L241.3 122.3L241.7 118.2L242.1 113.1L242.5 109.0L242.9 101.8L243.3 91.1L243.7 79.1L244.1 74.2L244.5 82.5L244.9 92.0L245.3 102.8L245.7 107.1L246.1 114.2L246.5 119.9L247.0 119.1L247.4 122.8L247.8 122.7L248.2 123.3L248.6 121.9L249.0 119.6L249.4 122.6L249.8 124.9L250.2 124.2L250.6 126.7L251.0 127.1L251.4 126.0L251.8 129.0L252.2 126.5L252.6 127.8L253.1 128.3L253.5 127.7L253.9 121.3L254.3 120.3L254.7 117.3L255.1 114.4L255.5 104.1L256.1 101.0L256.3 102.5L256.7 105.7L257.1 111.4L257.5 118.0L257.9 119.4L258.3 121.6L258.7 123.4L259.2 118.2L259.6 115.0L260.0 108.8L260.4 104.9L260.8 109.7L261.2 114.4L261.6 121.0L262.0 123.0L262.4 124.1L262.8 124.8L263.2 122.9L263.6 127.5L264.0 126.5L264.4 126.7L264.8 127.0L265.3 129.8L265.7 127.9L266.1 127.2L266.5 126.8L266.9 125.4L267.3 126.0L267.7 122.7L268.1 117.5L268.5 112.7L268.9 102.5L269.3 88.0L269.7 76.4L270.0 74.3L270.5 84.5L270.9 99.1L271.4 110.7L271.8 117.8L272.2 118.6L272.6 122.4L273.0 124.7L273.4 126.1L273.8 131.6L274.2 130.3L274.6 129.7L275.0 131.6L275.4 133.9L275.8 132.0L276.2 133.1L276.6 131.3L277.0 133.5L277.5 133.7L277.9 133.0L278.3 132.9L278.7 133.0L279.1 134.3L279.5 132.8L279.9 135.0L280.3 135.6L280.7 135.5L281.1 134.3L281.5 134.8L281.9 133.6L282.3 134.3L282.7 134.6L283.1 136.3L283.6 136.4L284.0 136.2L284.4 137.1L284.8 137.3L285.2 137.7L285.6 137.2L286.0 135.9L286.4 135.8L286.8 136.0L287.2 135.9L287.6 137.0L288.0 137.0L288.4 137.2L288.8 137.7L289.2 137.4L289.7 137.8L290.1 137.2L290.5 136.2L290.9 136.3L291.3 136.6L291.7 136.3L292.1 136.9L292.5 137.6L292.5 140.6"/></defs>
<use href="#s3" fill="#0c820c" stroke="#0c820c" stroke-width="1.1"/>
<use href="#s3" y="2.76" fill="#000"/>
<use href="#s3" y="2.01" fill="#000" clip-path="url(#tailclip)"/>
<rect x="291.8" y="136.5" width="5.6" height="4.2" fill="#000"/>
<defs><path id="s4" d="M67.2 144.6L67.2 138.5L67.6 141.3L68.0 140.6L68.4 141.4L68.8 142.8L69.2 139.7L69.6 139.7L70.0 139.6L70.4 138.1L70.8 141.8L71.2 140.5L71.6 139.4L72.0 138.0L72.5 141.0L72.9 138.7L73.3 138.8L73.7 136.7L74.1 136.2L74.5 137.0L74.9 134.2L75.3 136.8L75.7 137.8L76.1 135.5L76.5 119.6L76.8 88.2L77.1 66.5L77.3 83.2L77.4 87.2L77.7 122.3L78.1 135.8L78.6 135.2L79.0 138.8L79.4 139.2L79.8 142.6L80.2 141.8L80.6 141.6L81.0 137.4L81.4 137.7L81.8 140.6L82.2 138.7L82.6 138.1L83.0 139.0L83.4 138.8L83.8 139.0L84.3 139.2L84.7 140.9L85.1 137.8L85.5 134.1L85.9 133.0L86.3 136.4L86.7 138.9L87.1 139.1L87.5 137.4L87.9 137.8L88.3 139.7L88.7 138.8L89.1 139.5L89.5 138.5L89.9 139.8L90.4 142.1L90.8 140.2L91.2 138.3L91.6 141.0L92.0 140.1L92.4 138.1L92.8 139.6L93.2 140.6L93.6 136.2L94.0 136.7L94.4 136.6L94.8 140.0L95.2 136.6L95.6 141.2L96.0 140.8L96.5 138.4L96.9 136.4L97.3 139.7L97.7 140.3L98.1 139.0L98.5 142.2L98.9 138.7L99.3 137.5L99.7 138.8L100.1 137.3L100.5 136.2L100.9 136.4L101.3 135.9L101.7 133.6L102.1 135.8L102.6 134.9L103.0 134.9L103.4 130.9L103.8 130.3L104.2 125.8L104.6 120.7L105.0 112.8L105.4 99.4L105.9 93.1L106.2 94.1L106.6 104.3L107.0 113.2L107.4 122.3L107.8 125.4L108.2 127.9L108.7 131.8L109.1 131.9L109.5 132.5L109.9 132.5L110.3 130.3L110.7 133.7L111.1 137.4L111.5 139.5L111.9 138.4L112.3 138.7L112.7 138.0L113.1 136.9L113.5 134.6L113.9 136.5L114.3 137.0L114.8 139.3L115.2 137.9L115.6 136.1L116.0 135.6L116.4 141.2L116.8 138.2L117.2 136.0L117.6 136.6L118.0 140.9L118.4 140.3L118.8 138.6L119.2 138.3L119.6 140.3L120.0 141.2L120.4 138.3L120.9 141.3L121.3 137.5L121.7 138.6L122.1 138.5L122.5 141.4L122.9 141.1L123.3 138.7L123.7 141.7L124.1 136.5L124.5 140.8L124.9 142.0L125.3 140.2L125.7 138.8L126.1 137.8L126.5 139.4L127.0 139.7L127.4 139.8L127.8 140.5L128.2 143.4L128.6 139.3L129.0 138.8L129.4 138.7L129.8 140.1L130.2 139.0L130.6 139.0L131.0 139.1L131.4 137.0L131.8 141.1L132.2 139.0L132.6 140.4L133.1 139.4L133.5 135.6L133.9 138.4L134.3 137.2L134.7 137.2L135.1 134.5L135.5 137.2L135.9 139.8L136.3 137.4L136.7 138.3L137.1 138.8L137.5 136.7L137.9 139.5L138.3 139.6L138.7 138.8L139.2 138.1L139.6 139.5L140.0 137.3L140.4 134.4L140.8 138.1L141.2 135.3L141.6 141.4L142.0 137.3L142.4 139.0L142.8 138.7L143.2 139.4L143.6 140.2L144.0 141.5L144.4 140.4L144.8 137.1L145.3 136.1L145.7 138.3L146.1 139.4L146.5 140.0L146.9 141.0L147.3 135.9L147.7 136.0L148.1 136.8L148.5 137.9L148.9 138.9L149.3 134.9L149.7 134.3L150.1 137.3L150.5 135.2L150.9 138.5L151.4 136.8L151.8 139.1L152.2 139.1L152.6 137.6L153.0 137.3L153.4 136.2L153.8 139.0L154.2 135.8L154.6 135.1L155.0 137.2L155.4 137.2L155.8 139.3L156.2 138.9L156.6 140.9L157.0 139.0L157.5 138.2L157.9 135.9L158.3 135.7L158.7 135.9L159.1 137.9L159.5 138.4L159.9 138.7L160.3 137.7L160.7 141.1L161.1 137.4L161.5 140.1L161.9 138.9L162.3 137.3L162.7 137.3L163.1 132.9L163.6 133.8L164.0 130.9L164.4 130.7L164.8 134.2L165.2 134.4L165.6 133.2L166.0 135.8L166.4 136.0L166.8 137.2L167.2 136.5L167.6 136.9L168.0 136.0L168.4 133.8L168.8 131.9L169.2 132.7L169.7 131.9L170.1 129.0L170.5 127.9L170.9 126.7L171.3 121.9L171.7 125.6L172.1 126.2L172.5 131.5L172.9 129.5L173.3 134.4L173.7 133.2L174.1 132.0L174.5 136.0L174.9 133.2L175.4 136.3L175.8 139.1L176.2 135.6L176.6 134.4L177.0 135.4L177.4 139.7L177.8 136.6L178.2 135.7L178.6 135.0L179.0 134.0L179.4 135.3L179.8 132.3L180.2 125.1L180.6 120.4L181.0 119.2L181.5 117.9L181.9 117.0L182.3 118.9L182.7 123.0L183.1 129.6L183.5 130.7L183.9 131.9L184.3 130.6L184.7 131.0L185.1 132.6L185.5 132.1L185.9 134.9L186.3 132.7L186.7 135.4L187.1 135.0L187.6 134.0L188.0 136.8L188.4 137.5L188.8 139.6L189.2 137.0L189.6 136.5L190.0 136.7L190.4 135.4L190.8 139.5L191.2 137.2L191.6 136.2L192.0 136.4L192.4 134.6L192.8 132.2L193.2 135.1L193.7 136.9L194.1 136.8L194.5 135.4L194.9 133.9L195.3 135.7L195.7 132.7L196.1 134.8L196.5 131.8L196.9 130.6L197.3 129.2L197.7 124.5L198.1 126.2L198.5 126.5L198.9 126.3L199.3 126.6L199.8 131.4L200.2 130.7L200.6 132.5L201.0 130.8L201.4 128.7L201.8 129.9L202.2 130.0L202.6 128.6L203.0 132.2L203.4 124.9L203.8 119.8L204.2 115.1L204.6 111.6L204.9 111.4L205.4 114.3L205.9 116.6L206.3 122.3L206.7 123.4L207.1 131.6L207.5 131.5L207.9 130.5L208.3 130.9L208.7 134.1L209.1 133.4L209.5 129.7L209.9 132.5L210.3 132.6L210.7 132.2L211.1 130.2L211.5 126.1L212.0 122.8L212.4 123.4L212.8 113.3L213.2 107.0L213.6 96.6L214.0 82.1L214.3 80.6L214.8 91.7L215.2 103.3L215.6 113.2L216.0 120.6L216.4 124.2L216.8 124.8L217.2 127.0L217.6 131.6L218.1 126.5L218.5 131.8L218.9 132.0L219.3 132.5L219.7 131.6L220.1 133.3L220.5 132.7L220.9 129.6L221.3 132.1L221.7 135.0L222.1 133.5L222.5 134.8L222.9 134.2L223.3 132.7L223.7 131.3L224.2 131.2L224.6 128.2L225.0 128.6L225.4 131.1L225.8 129.1L226.2 131.4L226.6 130.0L227.0 133.0L227.4 132.0L227.8 132.0L228.2 137.1L228.6 136.4L229.0 134.9L229.4 129.1L229.8 131.8L230.3 127.2L230.7 125.8L231.1 127.5L231.5 128.9L231.9 132.1L232.3 132.8L232.7 132.9L233.1 132.7L233.5 132.3L233.9 133.8L234.3 135.2L234.7 135.4L235.1 133.7L235.5 136.7L235.9 136.8L236.4 135.2L236.8 134.6L237.2 133.6L237.6 137.0L238.0 133.5L238.4 131.4L238.8 127.7L239.2 129.7L239.6 125.2L240.0 118.9L240.4 112.0L240.8 102.2L241.2 93.2L241.7 92.5L242.0 94.6L242.5 104.2L242.9 113.8L243.3 116.4L243.7 123.2L244.1 127.4L244.5 128.9L244.9 130.8L245.3 128.3L245.7 128.3L246.1 125.9L246.5 126.2L246.9 128.5L247.3 127.6L247.7 131.3L248.1 132.9L248.6 133.2L249.0 133.1L249.4 131.1L249.8 133.4L250.2 132.4L250.6 132.3L251.0 133.9L251.4 133.3L251.8 130.2L252.2 125.9L252.6 121.3L253.0 115.3L253.6 110.8L253.8 113.0L254.2 116.8L254.7 123.9L255.1 128.7L255.5 129.3L255.9 131.6L256.3 130.3L256.7 129.0L257.1 126.2L257.5 121.7L257.9 120.3L258.3 121.3L258.7 127.3L259.1 128.3L259.5 131.7L259.9 131.4L260.3 137.3L260.8 136.1L261.2 134.0L261.6 138.0L262.0 135.7L262.4 133.9L262.8 133.0L263.2 135.1L263.6 132.3L264.0 130.7L264.4 131.0L264.8 126.5L265.2 124.0L265.6 119.5L266.0 113.3L266.5 100.9L266.9 85.7L267.3 68.2L267.6 64.2L268.1 79.7L268.5 96.5L268.9 107.4L269.3 117.6L269.7 122.5L270.1 125.7L270.5 129.4L270.9 135.4L271.3 133.9L271.7 133.8L272.1 134.3L272.6 136.4L273.0 134.0L273.4 135.8L273.8 137.5L274.2 138.5L274.6 137.1L275.0 138.4L275.4 139.0L275.8 136.6L276.2 136.6L276.6 136.9L277.0 136.9L277.4 137.7L277.8 140.1L278.2 138.5L278.7 137.9L279.1 138.5L279.5 140.9L279.9 139.0L280.3 138.3L280.7 139.8L281.1 139.8L281.5 139.3L281.9 139.9L282.3 139.1L282.7 139.8L283.1 139.5L283.5 140.0L283.9 141.5L284.3 141.7L284.8 138.1L285.2 139.4L285.6 139.0L286.0 139.0L286.4 138.5L286.8 139.4L287.2 140.7L287.6 140.7L288.0 142.4L288.4 141.5L288.8 140.2L289.2 142.5L289.6 141.2L290.0 140.2L290.0 144.6"/></defs>
<use href="#s4" fill="#0c820c" stroke="#0c820c" stroke-width="1.1"/>
<use href="#s4" y="2.43" fill="#000"/>
<use href="#s4" y="1.68" fill="#000" clip-path="url(#tailclip)"/>
<rect x="289.3" y="140.5" width="5.6" height="4.2" fill="#000"/>
<defs><path id="s5" d="M64.7 148.5L64.7 146.9L65.1 141.9L65.5 141.8L65.9 142.0L66.3 140.4L66.7 141.4L67.1 141.8L67.6 140.6L68.0 141.9L68.4 141.5L68.8 142.7L69.2 143.5L69.6 142.6L70.0 143.4L70.4 142.2L70.8 142.6L71.2 143.2L71.6 142.6L72.0 144.2L72.4 141.2L72.8 140.0L73.2 144.1L73.7 139.2L74.1 123.6L74.3 94.4L74.6 68.7L74.9 89.3L74.9 95.0L75.3 129.8L75.7 138.8L76.1 139.3L76.5 140.3L76.9 141.1L77.3 143.5L77.7 142.6L78.1 143.9L78.5 143.3L78.9 139.7L79.3 141.0L79.8 143.0L80.2 144.1L80.6 145.3L81.0 143.7L81.4 138.5L81.8 140.5L82.2 140.7L82.6 141.7L83.0 140.8L83.4 138.4L83.8 138.1L84.2 140.5L84.6 142.6L85.0 140.8L85.4 137.5L85.9 135.3L86.3 137.2L86.7 140.3L87.1 140.2L87.5 142.1L87.9 143.5L88.3 143.8L88.7 142.7L89.1 141.1L89.5 139.2L89.9 138.8L90.3 140.1L90.7 145.3L91.1 140.6L91.5 140.7L92.0 142.8L92.4 139.9L92.8 142.8L93.2 142.8L93.6 142.1L94.0 142.0L94.4 142.0L94.8 145.4L95.2 145.5L95.6 143.1L96.0 140.8L96.4 141.3L96.8 143.4L97.2 144.1L97.6 144.2L98.1 140.0L98.5 142.1L98.9 139.4L99.3 141.7L99.7 141.8L100.1 140.7L100.5 136.1L100.9 137.1L101.3 135.0L101.7 132.8L102.1 128.3L102.5 118.9L102.9 112.0L103.5 104.9L103.7 109.0L104.2 117.0L104.6 123.5L105.0 126.2L105.4 128.1L105.8 135.1L106.2 136.3L106.6 139.9L107.0 138.4L107.4 137.2L107.8 135.9L108.2 136.2L108.6 139.6L109.0 141.6L109.4 143.2L109.8 138.5L110.3 142.2L110.7 139.7L111.1 140.2L111.5 139.2L111.9 143.6L112.3 141.5L112.7 140.8L113.1 141.4L113.5 140.8L113.9 143.5L114.3 139.8L114.7 143.1L115.1 142.6L115.5 140.6L115.9 140.5L116.4 138.6L116.8 140.9L117.2 143.6L117.6 141.9L118.0 141.1L118.4 144.6L118.8 141.3L119.2 139.6L119.6 142.6L120.0 140.6L120.4 141.4L120.8 140.1L121.2 142.3L121.6 140.6L122.0 140.3L122.5 141.3L122.9 142.3L123.3 142.4L123.7 140.9L124.1 139.0L124.5 141.2L124.9 140.1L125.3 141.1L125.7 138.2L126.1 138.4L126.5 139.3L126.9 140.2L127.3 142.2L127.7 144.8L128.1 141.3L128.6 142.8L129.0 143.2L129.4 140.1L129.8 140.3L130.2 142.7L130.6 139.3L131.0 140.5L131.4 138.3L131.8 140.9L132.2 142.1L132.6 140.9L133.0 138.2L133.4 142.8L133.8 143.1L134.3 139.8L134.7 136.0L135.1 139.7L135.5 142.4L135.9 142.6L136.3 143.2L136.7 139.3L137.1 139.4L137.5 142.4L137.9 140.3L138.3 145.0L138.7 142.7L139.1 141.9L139.5 142.1L139.9 143.4L140.4 143.3L140.8 145.5L141.2 142.1L141.6 143.4L142.0 141.1L142.4 139.7L142.8 142.0L143.2 143.7L143.6 141.9L144.0 140.2L144.4 143.1L144.8 141.7L145.2 142.8L145.6 138.5L146.0 138.8L146.5 142.3L146.9 141.4L147.3 139.8L147.7 140.4L148.1 139.8L148.5 139.3L148.9 139.6L149.3 141.0L149.7 138.2L150.1 138.2L150.5 140.5L150.9 141.0L151.3 142.1L151.7 143.9L152.1 142.6L152.6 141.4L153.0 141.8L153.4 143.0L153.8 147.2L154.2 146.3L154.6 141.2L155.0 144.3L155.4 141.0L155.8 139.5L156.2 140.4L156.6 140.5L157.0 139.1L157.4 140.0L157.8 140.3L158.2 138.7L158.7 139.6L159.1 136.1L159.5 140.3L159.9 140.2L160.3 139.6L160.7 138.0L161.1 138.3L161.5 133.4L161.9 134.1L162.3 139.6L162.7 138.7L163.1 137.5L163.5 136.3L163.9 137.4L164.3 139.9L164.8 137.9L165.2 141.0L165.6 139.4L166.0 141.0L166.4 136.6L166.8 135.8L167.2 132.3L167.6 134.5L168.0 133.6L168.4 132.5L168.8 128.8L169.2 132.8L169.6 132.5L170.0 135.5L170.4 135.2L170.9 136.4L171.3 139.0L171.7 139.4L172.1 142.0L172.5 141.5L172.9 140.7L173.3 137.5L173.7 139.0L174.1 138.2L174.5 138.7L174.9 140.7L175.3 137.8L175.7 134.1L176.1 134.9L176.5 133.6L177.0 133.6L177.4 132.0L177.8 128.0L178.2 131.6L178.6 129.0L179.0 128.5L179.4 126.7L179.8 129.1L180.2 132.6L180.6 132.8L181.0 131.2L181.4 132.1L181.8 132.0L182.2 135.2L182.6 136.0L183.1 134.5L183.5 135.0L183.9 135.2L184.3 137.7L184.7 138.8L185.1 139.6L185.5 136.5L185.9 139.2L186.3 138.3L186.7 137.8L187.1 138.3L187.5 138.8L187.9 137.6L188.3 139.3L188.7 138.3L189.2 135.8L189.6 138.2L190.0 135.9L190.4 134.9L190.8 133.4L191.2 137.7L191.6 134.4L192.0 134.4L192.4 133.4L192.8 133.8L193.2 135.7L193.6 134.0L194.0 134.3L194.4 135.0L194.8 134.6L195.3 133.3L195.7 131.5L196.1 133.4L196.5 131.2L196.9 134.5L197.3 132.6L197.7 131.0L198.1 130.9L198.5 130.2L198.9 130.0L199.3 128.1L199.7 131.5L200.1 133.3L200.5 131.6L200.9 130.9L201.4 124.1L201.8 125.7L202.2 119.7L202.5 116.3L203.0 118.7L203.4 122.1L203.8 128.7L204.2 131.2L204.6 132.2L205.0 132.0L205.4 132.0L205.8 130.6L206.2 135.1L206.6 133.9L207.0 129.8L207.5 129.8L207.9 131.4L208.3 130.3L208.7 131.2L209.1 127.6L209.5 128.3L209.9 123.8L210.3 119.8L210.7 115.3L211.1 105.4L211.5 96.9L211.8 95.4L212.3 101.0L212.7 111.9L213.1 116.6L213.6 122.0L214.0 124.8L214.4 127.5L214.8 130.1L215.2 134.6L215.6 134.7L216.0 134.5L216.4 135.6L216.8 135.4L217.2 136.0L217.6 136.5L218.0 137.5L218.4 137.2L218.8 138.2L219.2 134.7L219.7 134.7L220.1 134.2L220.5 133.1L220.9 134.5L221.3 131.8L221.7 135.1L222.1 133.3L222.5 131.0L222.9 127.6L223.3 128.5L223.7 130.2L224.1 131.5L224.5 134.5L224.9 135.0L225.4 136.0L225.8 134.9L226.2 136.5L226.6 134.8L227.0 133.7L227.4 130.6L227.8 130.8L228.2 129.6L228.6 130.1L229.0 131.3L229.4 131.9L229.8 135.6L230.2 135.3L230.6 135.8L231.0 134.0L231.5 136.1L231.9 135.5L232.3 138.1L232.7 137.2L233.1 137.5L233.5 136.3L233.9 136.7L234.3 135.6L234.7 134.4L235.1 135.8L235.5 132.6L235.9 133.1L236.3 127.5L236.7 125.6L237.1 123.7L237.6 120.8L238.0 113.1L238.4 106.4L238.8 101.9L239.2 95.0L239.6 98.4L240.0 111.3L240.4 119.8L240.8 120.5L241.2 124.6L241.6 129.2L242.0 133.6L242.4 134.3L242.8 130.0L243.2 135.1L243.7 131.3L244.1 126.1L244.5 128.7L244.9 132.7L245.3 132.6L245.7 132.9L246.1 133.8L246.5 135.3L246.9 138.4L247.3 135.7L247.7 134.3L248.1 134.1L248.5 133.5L248.9 133.3L249.3 130.9L249.8 123.8L250.2 126.1L250.6 122.2L251.1 121.0L251.4 124.0L251.8 125.3L252.2 125.8L252.6 131.4L253.0 133.1L253.4 133.8L253.8 135.3L254.2 134.8L254.6 130.3L255.0 127.6L255.4 125.2L255.9 127.5L256.3 126.8L256.7 126.9L257.1 133.3L257.5 137.4L257.9 134.3L258.3 133.1L258.7 131.7L259.1 136.5L259.5 136.7L259.9 140.0L260.3 136.7L260.7 138.3L261.1 139.3L261.5 134.6L262.0 132.6L262.4 135.1L262.8 131.9L263.2 122.2L263.6 123.2L264.0 113.4L264.4 96.3L264.8 82.5L265.1 81.3L265.6 94.4L266.0 106.6L266.4 118.3L266.8 123.9L267.2 126.6L267.6 130.7L268.1 131.3L268.5 132.0L268.9 136.7L269.3 137.7L269.7 139.8L270.1 138.4L270.5 142.0L270.9 142.1L271.3 144.5L271.7 140.7L272.1 142.1L272.5 140.0L272.9 139.8L273.3 140.2L273.7 141.6L274.2 142.9L274.6 143.1L275.0 142.2L275.4 142.2L275.8 142.3L276.2 142.3L276.6 141.1L277.0 141.0L277.4 143.2L277.8 142.3L278.2 143.5L278.6 142.9L279.0 142.8L279.4 142.2L279.8 142.1L280.3 143.9L280.7 143.6L281.1 143.1L281.5 143.5L281.9 142.1L282.3 144.2L282.7 143.3L283.1 143.3L283.5 143.9L283.9 143.9L284.3 144.0L284.7 143.5L285.1 144.2L285.5 144.2L285.9 141.7L286.4 143.5L286.8 143.2L287.2 142.7L287.6 144.3L287.6 148.5"/></defs>
<use href="#s5" fill="#0c820c" stroke="#0c820c" stroke-width="1.1"/>
<use href="#s5" y="3.01" fill="#000"/>
<use href="#s5" y="2.26" fill="#000" clip-path="url(#tailclip)"/>
<rect x="286.9" y="144.4" width="5.6" height="4.2" fill="#000"/>
<defs><path id="s6" d="M62.2 152.5L62.2 149.5L62.6 148.1L63.1 145.5L63.5 147.5L63.9 150.3L64.3 144.2L64.7 142.6L65.1 144.1L65.5 146.7L65.9 148.8L66.3 150.3L66.7 146.9L67.1 144.4L67.5 147.7L67.9 146.9L68.3 147.1L68.7 147.0L69.2 145.5L69.6 142.1L70.0 145.4L70.4 143.5L70.8 141.5L71.2 140.1L71.6 118.4L71.9 81.8L72.2 46.5L72.4 72.6L72.5 80.7L72.8 127.2L73.2 143.4L73.6 146.6L74.0 146.5L74.4 143.4L74.8 145.5L75.3 144.9L75.7 148.3L76.1 150.3L76.5 144.4L76.9 146.1L77.3 148.7L77.7 147.0L78.1 144.9L78.5 148.1L78.9 147.3L79.3 144.4L79.7 144.5L80.1 140.5L80.5 138.3L80.9 139.3L81.4 142.5L81.8 143.8L82.2 145.7L82.6 145.8L83.0 145.2L83.4 146.2L83.8 144.4L84.2 140.9L84.6 145.3L85.0 145.3L85.4 144.5L85.8 144.5L86.2 146.1L86.6 147.1L87.0 144.8L87.5 144.7L87.9 144.9L88.3 147.2L88.7 145.5L89.1 144.6L89.5 146.0L89.9 145.0L90.3 141.9L90.7 148.0L91.1 145.6L91.5 147.9L91.9 149.0L92.3 147.4L92.7 145.3L93.2 145.4L93.6 147.5L94.0 148.7L94.4 147.4L94.8 145.8L95.2 146.5L95.6 147.8L96.0 142.2L96.4 144.5L96.8 143.7L97.2 143.5L97.6 142.8L98.0 140.4L98.4 138.7L98.8 134.3L99.3 132.7L99.7 127.6L100.1 112.2L100.5 101.1L101.0 89.9L101.3 92.3L101.7 105.0L102.1 117.7L102.5 129.0L102.9 135.3L103.3 134.2L103.7 135.0L104.1 135.7L104.5 139.6L104.9 141.6L105.4 140.6L105.8 141.3L106.2 140.2L106.6 142.9L107.0 139.9L107.4 143.3L107.8 144.7L108.2 143.0L108.6 143.6L109.0 146.1L109.4 144.1L109.8 141.5L110.2 146.3L110.6 146.3L111.0 147.9L111.5 150.0L111.9 146.2L112.3 144.8L112.7 143.9L113.1 144.5L113.5 149.1L113.9 147.2L114.3 147.7L114.7 148.8L115.1 149.1L115.5 145.9L115.9 146.7L116.3 142.9L116.7 144.3L117.1 149.0L117.6 145.6L118.0 143.9L118.4 145.4L118.8 148.1L119.2 143.8L119.6 147.8L120.0 147.0L120.4 149.9L120.8 149.8L121.2 150.5L121.6 145.8L122.0 144.0L122.4 146.2L122.8 148.6L123.2 147.2L123.7 145.8L124.1 148.8L124.5 149.1L124.9 147.3L125.3 145.2L125.7 145.5L126.1 144.9L126.5 147.7L126.9 150.7L127.3 146.7L127.7 147.3L128.1 145.8L128.5 145.4L128.9 143.3L129.3 144.2L129.8 140.1L130.2 141.1L130.6 140.9L131.0 141.3L131.4 141.2L131.8 142.6L132.2 147.3L132.6 147.0L133.0 142.6L133.4 143.7L133.8 143.9L134.2 144.2L134.6 146.4L135.0 147.2L135.4 147.4L135.9 144.3L136.3 144.6L136.7 142.2L137.1 143.6L137.5 141.6L137.9 143.5L138.3 147.1L138.7 143.1L139.1 144.1L139.5 142.9L139.9 144.2L140.3 145.6L140.7 145.1L141.1 147.2L141.5 147.9L142.0 147.5L142.4 146.5L142.8 147.3L143.2 145.1L143.6 143.1L144.0 138.9L144.4 137.3L144.8 140.0L145.2 139.5L145.6 141.8L146.0 142.0L146.4 143.2L146.8 144.8L147.2 144.4L147.6 147.2L148.1 144.8L148.5 145.4L148.9 147.1L149.3 146.4L149.7 144.5L150.1 146.1L150.5 144.6L150.9 143.9L151.3 141.8L151.7 145.9L152.1 145.5L152.5 144.2L152.9 142.0L153.3 143.4L153.7 142.9L154.2 146.7L154.6 146.3L155.0 142.1L155.4 144.0L155.8 140.1L156.2 143.8L156.6 144.0L157.0 146.1L157.4 142.3L157.8 140.9L158.2 136.3L158.6 136.9L159.0 137.2L159.4 139.8L159.8 139.5L160.3 138.5L160.7 139.1L161.1 138.8L161.5 139.5L161.9 141.4L162.3 140.9L162.7 141.4L163.1 144.0L163.5 139.0L163.9 139.2L164.3 140.9L164.7 137.6L165.1 134.8L165.5 129.8L165.9 124.5L166.4 130.0L166.8 127.8L167.2 128.6L167.6 135.6L168.0 141.0L168.4 139.8L168.8 139.8L169.2 140.1L169.6 143.1L170.0 143.1L170.4 142.0L170.8 140.6L171.2 137.5L171.6 139.7L172.0 142.0L172.5 145.7L172.9 140.5L173.3 140.4L173.7 139.8L174.1 140.3L174.5 136.2L174.9 137.6L175.3 132.1L175.7 126.7L176.1 120.7L176.5 114.8L176.9 117.4L177.3 122.3L177.7 126.3L178.1 134.4L178.6 136.5L179.0 137.5L179.4 137.0L179.8 140.5L180.2 139.2L180.6 139.7L181.0 143.5L181.4 145.0L181.8 145.6L182.2 143.0L182.6 142.0L183.0 140.8L183.4 140.2L183.8 142.5L184.3 140.4L184.7 140.1L185.1 140.6L185.5 140.7L185.9 143.9L186.3 142.0L186.7 143.8L187.1 144.7L187.5 143.4L187.9 141.9L188.3 141.7L188.7 141.9L189.1 143.0L189.5 141.1L189.9 141.8L190.4 142.9L190.8 140.0L191.2 135.9L191.6 137.0L192.0 137.4L192.4 131.5L192.8 127.1L193.2 127.8L193.6 127.7L194.0 128.0L194.4 124.7L194.8 129.9L195.2 130.8L195.6 132.4L196.0 137.0L196.5 136.8L196.9 136.3L197.3 131.8L197.7 129.0L198.1 122.1L198.5 119.4L198.9 111.5L199.3 102.1L199.7 93.2L200.0 86.9L200.5 96.2L200.9 104.8L201.3 113.3L201.7 122.9L202.1 126.0L202.6 130.4L203.0 131.9L203.4 132.9L203.8 133.8L204.2 135.1L204.6 131.7L205.0 133.6L205.4 131.9L205.8 128.7L206.2 128.2L206.6 125.4L207.0 121.1L207.4 116.0L207.8 106.8L208.2 100.2L208.7 79.7L209.1 65.9L209.4 65.1L209.9 76.9L210.3 95.2L210.7 107.4L211.1 119.4L211.5 125.9L211.9 128.0L212.3 130.5L212.7 134.3L213.1 135.5L213.5 136.3L213.9 136.7L214.3 137.4L214.8 138.3L215.2 136.9L215.6 141.0L216.0 140.6L216.4 139.3L216.8 139.8L217.2 140.2L217.6 139.9L218.0 138.3L218.4 135.3L218.8 136.1L219.2 135.4L219.6 132.8L220.0 132.3L220.4 135.8L220.9 134.4L221.3 136.2L221.7 137.9L222.1 136.6L222.5 137.3L222.9 138.5L223.3 141.6L223.7 141.2L224.1 136.9L224.5 134.1L224.9 130.5L225.3 128.6L225.7 129.9L226.1 133.7L226.5 136.5L227.0 136.9L227.4 139.6L227.8 137.5L228.2 140.8L228.6 143.0L229.0 140.9L229.4 143.1L229.8 137.6L230.2 140.4L230.6 139.5L231.0 139.3L231.4 140.0L231.8 141.6L232.2 141.8L232.6 136.2L233.1 133.0L233.5 128.6L233.9 132.0L234.3 127.0L234.7 122.9L235.1 114.8L235.5 107.2L235.9 92.9L236.3 78.7L236.7 72.3L237.1 76.6L237.5 92.2L237.9 102.7L238.3 115.6L238.7 119.0L239.2 130.4L239.6 130.6L240.0 132.9L240.4 132.4L240.8 129.8L241.2 128.4L241.6 128.1L242.0 125.6L242.4 132.6L242.8 135.6L243.2 133.3L243.6 135.2L244.0 140.5L244.4 138.0L244.8 139.7L245.3 135.1L245.7 133.6L246.1 135.2L246.5 130.9L246.9 131.1L247.3 124.4L247.7 117.3L248.1 109.3L248.7 103.6L248.9 104.3L249.3 115.9L249.7 122.3L250.1 129.7L250.5 127.9L250.9 131.5L251.4 134.7L251.8 128.5L252.2 123.4L252.6 119.2L253.0 111.0L253.4 114.1L253.8 121.9L254.2 129.6L254.6 138.5L255.0 136.6L255.4 135.8L255.8 138.9L256.2 141.8L256.6 140.5L257.0 143.1L257.5 141.0L257.9 138.7L258.3 136.3L258.7 137.4L259.1 137.3L259.5 135.4L259.9 132.3L260.3 132.5L260.7 131.4L261.1 125.7L261.5 117.8L261.9 104.8L262.3 90.4L262.6 85.3L263.1 96.1L263.6 110.0L264.0 121.4L264.4 127.3L264.8 130.7L265.2 133.6L265.6 134.3L266.0 138.6L266.4 140.7L266.8 138.3L267.2 140.6L267.6 141.3L268.0 143.2L268.4 141.7L268.8 143.9L269.2 146.0L269.7 145.2L270.1 145.3L270.5 144.4L270.9 145.3L271.3 145.3L271.7 145.7L272.1 145.5L272.5 146.4L272.9 145.3L273.3 147.3L273.7 147.1L274.1 147.5L274.5 146.4L274.9 146.7L275.4 146.4L275.8 147.2L276.2 147.8L276.6 148.5L277.0 148.0L277.4 148.1L277.8 147.4L278.2 147.1L278.6 146.5L279.0 147.3L279.4 148.2L279.8 148.8L280.2 148.0L280.6 147.5L281.0 145.9L281.5 147.0L281.9 145.9L282.3 145.5L282.7 148.0L283.1 146.9L283.5 146.5L283.9 146.2L284.3 147.4L284.7 146.9L285.1 148.1L285.1 152.5"/></defs>
<use href="#s6" fill="#0c820c" stroke="#0c820c" stroke-width="1.1"/>
<use href="#s6" y="2.94" fill="#000"/>
<use href="#s6" y="2.19" fill="#000" clip-path="url(#tailclip)"/>
<rect x="284.4" y="148.4" width="5.6" height="4.2" fill="#000"/>
<defs><path id="s7" d="M59.8 156.4L59.8 151.1L60.2 150.7L60.6 150.1L61.0 149.2L61.4 146.4L61.8 151.8L62.2 151.7L62.6 146.7L63.0 149.3L63.4 146.0L63.8 145.4L64.3 149.3L64.7 149.5L65.1 147.6L65.5 145.5L65.9 147.7L66.3 147.9L66.7 149.0L67.1 144.8L67.5 150.2L67.9 148.2L68.3 145.9L68.7 144.0L69.1 132.1L69.4 107.3L69.7 89.5L69.9 105.6L70.0 105.1L70.4 132.5L70.8 145.9L71.2 147.6L71.6 145.7L72.0 147.6L72.4 148.9L72.8 149.0L73.2 152.0L73.6 149.5L74.0 150.5L74.4 149.8L74.8 151.7L75.2 149.8L75.6 149.6L76.0 149.7L76.5 147.1L76.9 151.5L77.3 148.5L77.7 150.2L78.1 149.6L78.5 144.3L78.9 145.6L79.3 145.9L79.7 150.7L80.1 151.6L80.5 148.6L80.9 148.2L81.3 146.8L81.7 147.8L82.1 147.9L82.6 147.7L83.0 148.6L83.4 151.4L83.8 148.2L84.2 149.5L84.6 149.4L85.0 149.5L85.4 148.0L85.8 149.1L86.2 151.3L86.6 149.5L87.0 147.2L87.4 149.0L87.8 146.5L88.2 148.2L88.7 147.9L89.1 145.1L89.5 145.4L89.9 140.7L90.3 147.1L90.7 147.7L91.1 146.7L91.5 148.2L91.9 149.6L92.3 147.7L92.7 148.0L93.1 148.1L93.5 148.4L93.9 146.7L94.3 146.6L94.8 146.2L95.2 146.5L95.6 145.7L96.0 145.7L96.4 141.2L96.8 138.2L97.2 134.1L97.6 126.2L98.0 115.7L98.5 107.8L98.8 111.4L99.2 118.8L99.6 126.6L100.0 137.3L100.4 141.2L100.9 140.5L101.3 141.5L101.7 141.4L102.1 140.4L102.5 143.8L102.9 142.8L103.3 141.5L103.7 145.6L104.1 142.9L104.5 148.9L104.9 148.3L105.3 143.4L105.7 146.8L106.1 147.2L106.5 147.1L107.0 148.3L107.4 146.9L107.8 147.8L108.2 149.5L108.6 144.3L109.0 145.9L109.4 149.1L109.8 152.4L110.2 150.7L110.6 148.6L111.0 151.3L111.4 150.6L111.8 149.6L112.2 149.1L112.6 146.3L113.1 150.9L113.5 151.3L113.9 146.0L114.3 150.7L114.7 149.3L115.1 148.4L115.5 146.9L115.9 149.7L116.3 148.1L116.7 146.1L117.1 148.0L117.5 147.3L117.9 149.9L118.3 147.6L118.7 148.8L119.2 149.5L119.6 149.3L120.0 151.6L120.4 152.6L120.8 149.7L121.2 149.1L121.6 149.2L122.0 151.7L122.4 149.4L122.8 149.6L123.2 151.6L123.6 147.7L124.0 144.1L124.4 146.6L124.8 149.0L125.3 152.6L125.7 147.6L126.1 147.1L126.5 145.3L126.9 142.3L127.3 145.7L127.7 145.6L128.1 143.1L128.5 147.3L128.9 145.3L129.3 146.8L129.7 148.5L130.1 148.1L130.5 146.9L130.9 147.9L131.4 147.7L131.8 147.0L132.2 146.5L132.6 148.4L133.0 148.1L133.4 152.1L133.8 151.9L134.2 151.2L134.6 150.2L135.0 149.6L135.4 150.7L135.8 148.3L136.2 146.4L136.6 144.9L137.0 146.8L137.5 146.8L137.9 146.2L138.3 144.4L138.7 147.5L139.1 146.4L139.5 149.5L139.9 150.1L140.3 150.4L140.7 147.0L141.1 147.0L141.5 146.2L141.9 147.4L142.3 146.3L142.7 142.6L143.1 147.8L143.6 149.2L144.0 146.0L144.4 148.5L144.8 147.7L145.2 147.3L145.6 150.4L146.0 149.2L146.4 148.3L146.8 147.2L147.2 146.4L147.6 147.2L148.0 147.6L148.4 147.8L148.8 147.5L149.3 146.2L149.7 148.4L150.1 153.1L150.5 148.6L150.9 147.8L151.3 143.1L151.7 147.8L152.1 146.5L152.5 145.6L152.9 148.2L153.3 147.6L153.7 148.9L154.1 146.4L154.5 146.4L154.9 145.4L155.4 144.4L155.8 143.9L156.2 141.6L156.6 141.2L157.0 143.1L157.4 145.2L157.8 144.3L158.2 147.9L158.6 147.6L159.0 144.6L159.4 143.8L159.8 141.1L160.2 144.5L160.6 145.2L161.0 143.4L161.5 141.6L161.9 145.0L162.3 141.2L162.7 140.2L163.1 135.3L163.5 134.9L163.9 135.3L164.3 137.1L164.7 139.4L165.1 141.9L165.5 145.9L165.9 144.2L166.3 145.6L166.7 142.7L167.1 142.6L167.6 145.0L168.0 145.4L168.4 144.3L168.8 142.4L169.2 141.9L169.6 142.0L170.0 143.4L170.4 142.4L170.8 145.1L171.2 142.6L171.6 142.2L172.0 141.6L172.4 139.9L172.8 138.6L173.2 135.1L173.7 128.1L174.1 127.7L174.5 130.4L174.9 131.0L175.3 135.5L175.7 139.1L176.1 137.8L176.5 140.7L176.9 141.0L177.3 142.1L177.7 140.1L178.1 141.3L178.5 145.8L178.9 141.7L179.3 144.4L179.8 145.1L180.2 143.3L180.6 144.3L181.0 145.2L181.4 145.5L181.8 145.5L182.2 142.9L182.6 143.4L183.0 141.8L183.4 140.2L183.8 141.6L184.2 145.0L184.6 144.4L185.0 143.5L185.4 146.3L185.9 145.1L186.3 146.3L186.7 142.6L187.1 146.5L187.5 145.2L187.9 143.4L188.3 142.6L188.7 144.1L189.1 141.2L189.5 141.0L189.9 137.4L190.3 137.7L190.7 135.8L191.1 139.5L191.5 138.1L192.0 138.5L192.4 141.3L192.8 144.8L193.2 140.8L193.6 138.5L194.0 140.8L194.4 138.7L194.8 137.8L195.2 138.8L195.6 138.2L196.0 130.0L196.4 128.4L196.8 125.1L197.2 122.9L197.5 124.4L198.1 125.3L198.5 129.6L198.9 132.5L199.3 135.5L199.7 140.5L200.1 140.4L200.5 139.7L200.9 140.6L201.3 139.9L201.7 139.5L202.1 139.9L202.5 140.5L202.9 136.5L203.3 137.0L203.7 136.3L204.2 134.6L204.6 132.9L205.0 133.6L205.4 127.5L205.8 118.5L206.2 107.8L206.6 98.8L206.9 98.2L207.4 104.9L207.8 113.7L208.2 122.3L208.6 123.7L209.0 129.9L209.4 133.5L209.8 136.8L210.3 142.3L210.7 139.2L211.1 141.3L211.5 138.8L211.9 141.2L212.3 142.1L212.7 140.0L213.1 142.0L213.5 145.0L213.9 142.4L214.3 141.4L214.7 141.0L215.1 141.8L215.5 141.0L215.9 142.5L216.4 141.0L216.8 138.4L217.2 143.5L217.6 138.3L218.0 135.8L218.4 135.1L218.8 139.0L219.2 139.3L219.6 140.8L220.0 143.0L220.4 141.3L220.8 139.5L221.2 138.7L221.6 142.7L222.0 140.3L222.5 138.4L222.9 136.8L223.3 139.4L223.7 135.3L224.1 141.1L224.5 142.8L224.9 139.0L225.3 140.4L225.7 143.0L226.1 143.9L226.5 141.8L226.9 143.4L227.3 141.5L227.7 141.2L228.1 141.1L228.6 140.3L229.0 142.4L229.4 144.4L229.8 145.2L230.2 142.1L230.6 141.9L231.0 136.9L231.4 138.6L231.8 133.2L232.2 132.4L232.6 128.8L233.0 126.7L233.4 117.1L233.8 105.7L234.3 105.8L234.7 105.8L235.1 113.2L235.5 120.6L235.9 129.6L236.3 130.1L236.7 136.5L237.1 134.6L237.5 135.2L237.9 140.8L238.3 136.8L238.7 134.3L239.1 136.5L239.5 140.2L239.9 140.1L240.4 141.1L240.8 139.9L241.2 143.0L241.6 144.2L242.0 142.6L242.4 141.7L242.8 145.1L243.2 142.0L243.6 142.2L244.0 141.4L244.4 138.0L244.8 134.9L245.2 131.5L245.6 124.5L246.2 122.1L246.5 124.1L246.9 128.1L247.3 130.2L247.7 133.9L248.1 136.3L248.5 136.0L248.9 140.0L249.3 135.7L249.7 132.6L250.1 131.1L250.5 131.6L250.9 134.1L251.3 139.1L251.7 138.3L252.1 140.1L252.6 142.8L253.0 140.9L253.4 143.9L253.8 141.5L254.2 141.1L254.6 141.4L255.0 144.4L255.4 145.2L255.8 143.2L256.2 140.2L256.6 142.4L257.0 140.1L257.4 136.8L257.8 138.5L258.2 129.9L258.7 126.4L259.1 119.2L259.5 106.2L259.9 94.2L260.2 92.1L260.7 102.6L261.1 115.1L261.5 126.5L261.9 130.0L262.3 133.9L262.7 136.6L263.1 142.8L263.5 143.6L263.9 142.7L264.3 143.9L264.8 147.9L265.2 145.6L265.6 142.1L266.0 142.9L266.4 145.4L266.8 148.5L267.2 145.7L267.6 146.3L268.0 147.5L268.4 148.1L268.8 147.4L269.2 148.1L269.6 149.0L270.0 149.9L270.4 149.7L270.9 149.6L271.3 149.9L271.7 145.7L272.1 149.4L272.5 151.1L272.9 150.9L273.3 149.5L273.7 148.1L274.1 150.9L274.5 151.0L274.9 150.0L275.3 150.9L275.7 150.1L276.1 150.6L276.5 149.5L277.0 150.1L277.4 148.9L277.8 151.2L278.2 149.9L278.6 150.8L279.0 149.7L279.4 150.9L279.8 150.1L280.2 149.6L280.6 150.2L281.0 151.6L281.4 151.8L281.8 151.7L282.2 151.4L282.6 150.3L282.6 156.4"/></defs>
<use href="#s7" fill="#0c820c" stroke="#0c820c" stroke-width="1.1"/>
<use href="#s7" y="2.97" fill="#000"/>
<use href="#s7" y="2.22" fill="#000" clip-path="url(#tailclip)"/>
<rect x="281.9" y="152.3" width="5.6" height="4.2" fill="#000"/>
<defs><path id="s8" d="M57.3 160.4L57.3 154.7L57.7 151.0L58.1 152.3L58.5 151.6L58.9 151.6L59.3 151.0L59.8 153.5L60.2 154.3L60.6 152.8L61.0 151.9L61.4 151.6L61.8 151.9L62.2 153.5L62.6 151.1L63.0 151.4L63.4 150.4L63.8 156.5L64.2 152.2L64.6 156.7L65.0 153.4L65.4 153.5L65.9 151.4L66.3 149.5L66.7 133.1L66.9 103.6L67.2 79.7L67.5 99.6L67.5 108.7L67.9 141.6L68.3 149.6L68.7 152.8L69.1 151.7L69.5 152.9L69.9 154.4L70.3 151.2L70.7 149.2L71.1 151.7L71.5 152.5L72.0 150.9L72.4 154.5L72.8 154.8L73.2 151.3L73.6 150.4L74.0 152.4L74.4 153.4L74.8 151.3L75.2 153.3L75.6 152.2L76.0 151.7L76.4 156.1L76.8 152.4L77.2 151.0L77.6 150.1L78.1 154.3L78.5 155.6L78.9 155.2L79.3 156.0L79.7 150.2L80.1 153.7L80.5 153.7L80.9 152.8L81.3 152.0L81.7 150.0L82.1 153.8L82.5 151.6L82.9 152.2L83.3 154.8L83.7 153.2L84.2 155.5L84.6 150.8L85.0 153.4L85.4 151.2L85.8 149.9L86.2 152.9L86.6 154.4L87.0 153.0L87.4 154.7L87.8 151.7L88.2 151.9L88.6 153.7L89.0 154.1L89.4 151.6L89.8 154.7L90.3 149.9L90.7 152.7L91.1 152.4L91.5 153.5L91.9 149.1L92.3 148.7L92.7 147.4L93.1 147.6L93.5 148.1L93.9 144.3L94.3 143.4L94.7 141.2L95.1 136.7L95.5 130.5L96.1 126.6L96.4 129.2L96.8 137.6L97.2 137.3L97.6 145.1L98.0 150.5L98.4 150.3L98.8 145.7L99.2 145.4L99.6 148.5L100.0 147.9L100.4 148.3L100.8 152.4L101.2 151.4L101.6 150.3L102.0 148.7L102.5 152.7L102.9 156.2L103.3 156.3L103.7 152.9L104.1 152.3L104.5 152.0L104.9 152.0L105.3 152.9L105.7 155.1L106.1 152.6L106.5 151.9L106.9 151.3L107.3 149.9L107.7 153.9L108.2 157.4L108.6 157.6L109.0 150.5L109.4 153.6L109.8 152.3L110.2 152.6L110.6 151.3L111.0 146.4L111.4 151.4L111.8 152.6L112.2 153.8L112.6 152.6L113.0 151.7L113.4 154.1L113.8 150.8L114.3 149.9L114.7 150.9L115.1 152.3L115.5 153.0L115.9 155.8L116.3 152.6L116.7 154.4L117.1 154.2L117.5 151.3L117.9 153.9L118.3 154.0L118.7 151.5L119.1 148.8L119.5 152.5L119.9 150.5L120.4 153.0L120.8 151.9L121.2 151.3L121.6 154.0L122.0 151.0L122.4 148.4L122.8 150.6L123.2 150.8L123.6 153.4L124.0 148.6L124.4 149.8L124.8 152.4L125.2 149.5L125.6 152.8L126.0 152.8L126.5 155.7L126.9 150.5L127.3 147.3L127.7 151.5L128.1 153.0L128.5 153.5L128.9 153.6L129.3 151.6L129.7 149.3L130.1 153.0L130.5 151.7L130.9 155.3L131.3 150.5L131.7 151.7L132.1 153.3L132.6 149.7L133.0 151.5L133.4 149.4L133.8 149.1L134.2 148.0L134.6 152.1L135.0 151.9L135.4 151.2L135.8 152.0L136.2 149.0L136.6 152.1L137.0 149.9L137.4 148.4L137.8 153.8L138.2 153.7L138.7 153.4L139.1 152.4L139.5 150.1L139.9 150.3L140.3 150.0L140.7 151.1L141.1 151.0L141.5 150.1L141.9 149.4L142.3 152.0L142.7 151.8L143.1 152.9L143.5 152.3L143.9 154.3L144.3 150.7L144.8 149.9L145.2 151.1L145.6 152.6L146.0 152.6L146.4 153.0L146.8 154.8L147.2 149.5L147.6 144.6L148.0 151.2L148.4 153.3L148.8 150.9L149.2 149.9L149.6 153.5L150.0 155.4L150.4 151.5L150.9 154.7L151.3 149.5L151.7 151.1L152.1 150.4L152.5 150.1L152.9 150.8L153.3 149.9L153.7 149.4L154.1 146.2L154.5 147.6L154.9 148.4L155.3 149.9L155.7 150.9L156.1 151.5L156.5 150.4L157.0 146.6L157.4 146.6L157.8 148.1L158.2 145.8L158.6 146.1L159.0 147.3L159.4 148.0L159.8 149.4L160.2 146.4L160.6 145.1L161.0 145.7L161.4 145.0L161.8 139.9L162.2 142.9L162.6 144.4L163.1 146.1L163.5 148.3L163.9 147.6L164.3 146.4L164.7 148.6L165.1 147.9L165.5 146.7L165.9 149.1L166.3 148.7L166.7 150.1L167.1 148.1L167.5 149.0L167.9 146.4L168.3 148.8L168.7 144.8L169.2 146.6L169.6 147.6L170.0 147.2L170.4 142.9L170.8 142.4L171.2 135.4L171.6 132.9L172.0 134.5L172.4 140.8L172.8 142.3L173.2 145.3L173.6 149.1L174.0 146.8L174.4 143.1L174.8 147.0L175.3 146.1L175.7 145.1L176.1 148.9L176.5 149.2L176.9 148.2L177.3 147.5L177.7 150.3L178.1 148.7L178.5 148.8L178.9 146.9L179.3 150.9L179.7 150.4L180.1 150.1L180.5 149.6L180.9 147.5L181.4 149.3L181.8 143.7L182.2 148.0L182.6 146.6L183.0 145.8L183.4 145.5L183.8 147.5L184.2 149.3L184.6 148.8L185.0 146.8L185.4 147.0L185.8 146.0L186.2 145.5L186.6 147.6L187.0 148.1L187.5 143.4L187.9 144.6L188.3 146.6L188.7 140.9L189.1 144.2L189.5 146.1L189.9 143.6L190.3 146.8L190.7 147.5L191.1 144.2L191.5 146.2L191.9 140.6L192.3 142.6L192.7 137.8L193.1 139.9L193.6 139.2L194.0 138.2L194.4 134.5L194.8 131.7L195.1 130.1L195.6 130.9L196.0 137.6L196.4 141.1L196.8 145.7L197.2 141.4L197.6 143.3L198.0 144.1L198.4 144.7L198.8 143.0L199.3 143.7L199.7 142.9L200.1 144.4L200.5 144.6L200.9 144.2L201.3 146.9L201.7 141.7L202.1 143.7L202.5 141.8L202.9 135.7L203.3 131.2L203.7 123.6L204.1 115.5L204.4 112.7L204.9 117.9L205.4 127.6L205.8 129.9L206.2 138.0L206.6 140.6L207.0 140.4L207.4 143.1L207.8 144.3L208.2 145.5L208.6 143.0L209.0 149.4L209.4 144.9L209.8 143.8L210.2 145.6L210.6 145.1L211.0 147.8L211.5 144.9L211.9 140.3L212.3 146.0L212.7 143.6L213.1 145.3L213.5 146.2L213.9 146.4L214.3 145.5L214.7 146.6L215.1 146.9L215.5 141.7L215.9 143.6L216.3 143.7L216.7 144.5L217.1 144.6L217.6 148.4L218.0 148.6L218.4 145.7L218.8 143.8L219.2 146.7L219.6 146.2L220.0 146.3L220.4 142.8L220.8 142.4L221.2 143.6L221.6 145.8L222.0 145.2L222.4 145.9L222.8 147.7L223.2 146.4L223.7 147.9L224.1 145.5L224.5 145.2L224.9 147.5L225.3 146.0L225.7 146.3L226.1 147.8L226.5 148.5L226.9 150.0L227.3 149.3L227.7 146.1L228.1 143.0L228.5 144.8L228.9 143.3L229.3 141.4L229.8 138.4L230.2 135.9L230.6 130.5L231.0 125.4L231.4 122.7L231.8 118.8L232.2 125.9L232.6 129.2L233.0 133.5L233.4 136.1L233.8 140.1L234.2 140.3L234.6 140.1L235.0 144.3L235.4 145.3L235.9 144.0L236.3 142.7L236.7 142.6L237.1 141.5L237.5 145.7L237.9 144.3L238.3 143.5L238.7 143.5L239.1 144.9L239.5 146.7L239.9 146.1L240.3 146.7L240.7 149.5L241.1 148.5L241.5 146.6L242.0 146.1L242.4 145.7L242.8 142.5L243.2 139.6L243.7 136.1L244.0 136.5L244.4 138.7L244.8 139.6L245.2 142.4L245.6 143.1L246.0 146.4L246.4 150.3L246.8 146.2L247.2 141.4L247.6 139.9L248.1 139.0L248.5 141.3L248.9 140.3L249.3 144.0L249.7 144.7L250.1 143.8L250.5 144.8L250.9 142.2L251.3 145.7L251.7 144.9L252.1 145.0L252.5 147.4L252.9 146.7L253.3 147.3L253.7 147.8L254.2 144.9L254.6 145.0L255.0 139.2L255.4 139.6L255.8 136.5L256.2 129.6L256.6 121.2L257.0 107.5L257.4 95.1L257.7 93.1L258.2 106.8L258.6 119.7L259.0 125.1L259.4 132.4L259.8 137.6L260.3 142.1L260.7 144.2L261.1 144.9L261.5 148.9L261.9 149.7L262.3 150.5L262.7 147.2L263.1 150.6L263.5 147.9L263.9 150.2L264.3 145.4L264.7 149.0L265.1 150.3L265.5 149.7L265.9 150.1L266.4 150.4L266.8 152.4L267.2 151.3L267.6 150.5L268.0 152.0L268.4 153.0L268.8 154.0L269.2 152.5L269.6 152.8L270.0 153.2L270.4 154.6L270.8 152.5L271.2 152.5L271.6 153.4L272.0 152.4L272.5 154.3L272.9 153.4L273.3 154.8L273.7 153.1L274.1 154.1L274.5 153.1L274.9 154.3L275.3 154.0L275.7 153.2L276.1 154.9L276.5 154.6L276.9 155.3L277.3 154.1L277.7 155.0L278.1 155.1L278.6 155.0L279.0 153.7L279.4 155.3L279.8 155.0L280.2 155.2L280.2 160.4"/></defs>
<use href="#s8" fill="#0c820c" stroke="#0c820c" stroke-width="1.1"/>
<use href="#s8" y="2.80" fill="#000"/>
<use href="#s8" y="2.05" fill="#000" clip-path="url(#tailclip)"/>
<rect x="279.5" y="156.3" width="5.6" height="4.2" fill="#000"/>
<defs><path id="s9" d="M54.8 164.3L54.8 156.4L55.3 152.9L55.7 155.4L56.1 159.9L56.5 159.2L56.9 155.3L57.3 157.8L57.7 157.8L58.1 156.3L58.5 154.9L58.9 154.9L59.3 157.1L59.7 159.8L60.1 159.6L60.5 157.4L60.9 160.6L61.4 158.5L61.8 155.1L62.2 158.8L62.6 156.3L63.0 157.9L63.4 157.6L63.8 152.7L64.2 133.0L64.5 101.3L64.8 73.9L65.0 93.8L65.1 97.8L65.4 141.8L65.8 155.9L66.2 153.6L66.6 154.4L67.0 157.6L67.5 156.4L67.9 154.2L68.3 157.1L68.7 156.8L69.1 155.7L69.5 158.1L69.9 159.7L70.3 156.7L70.7 157.1L71.1 156.7L71.5 158.0L71.9 155.5L72.3 153.4L72.7 153.7L73.2 153.4L73.6 155.7L74.0 156.8L74.4 158.9L74.8 157.5L75.2 157.0L75.6 158.4L76.0 160.1L76.4 158.8L76.8 156.9L77.2 155.0L77.6 160.0L78.0 158.3L78.4 155.5L78.8 158.5L79.3 158.8L79.7 156.6L80.1 157.0L80.5 159.0L80.9 160.2L81.3 159.5L81.7 158.4L82.1 157.6L82.5 156.1L82.9 158.6L83.3 157.1L83.7 156.6L84.1 157.7L84.5 156.2L84.9 157.1L85.4 156.4L85.8 158.0L86.2 158.9L86.6 158.6L87.0 154.3L87.4 155.0L87.8 155.4L88.2 157.2L88.6 156.0L89.0 157.7L89.4 155.3L89.8 154.6L90.2 154.7L90.6 152.0L91.0 153.0L91.5 151.6L91.9 144.9L92.3 141.6L92.7 134.8L93.1 120.1L93.6 111.3L93.9 114.2L94.3 124.9L94.7 136.7L95.1 141.4L95.5 145.8L95.9 149.6L96.3 150.1L96.7 149.9L97.1 150.6L97.6 149.3L98.0 149.5L98.4 153.1L98.8 152.3L99.2 154.3L99.6 152.0L100.0 159.5L100.4 157.8L100.8 155.8L101.2 154.4L101.6 157.7L102.0 157.1L102.4 156.3L102.8 157.8L103.2 156.2L103.7 158.1L104.1 158.9L104.5 155.8L104.9 158.3L105.3 158.4L105.7 153.9L106.1 154.0L106.5 157.0L106.9 156.7L107.3 158.6L107.7 159.9L108.1 159.2L108.5 156.8L108.9 156.4L109.3 158.6L109.8 162.0L110.2 157.0L110.6 158.6L111.0 156.6L111.4 155.9L111.8 154.8L112.2 157.7L112.6 159.4L113.0 159.4L113.4 157.6L113.8 157.1L114.2 159.5L114.6 157.4L115.0 159.1L115.4 158.2L115.9 158.3L116.3 157.0L116.7 152.8L117.1 157.0L117.5 159.8L117.9 160.4L118.3 158.4L118.7 157.3L119.1 156.2L119.5 158.5L119.9 159.7L120.3 157.9L120.7 154.3L121.1 153.7L121.5 152.9L122.0 153.0L122.4 151.8L122.8 154.1L123.2 152.1L123.6 152.7L124.0 153.1L124.4 155.9L124.8 157.0L125.2 157.8L125.6 154.7L126.0 158.6L126.4 158.4L126.8 157.1L127.2 159.5L127.6 157.7L128.1 155.4L128.5 155.5L128.9 158.7L129.3 157.7L129.7 159.2L130.1 162.5L130.5 157.5L130.9 156.1L131.3 159.2L131.7 155.9L132.1 155.1L132.5 152.2L132.9 154.4L133.3 153.1L133.7 156.0L134.2 156.8L134.6 153.1L135.0 153.7L135.4 152.1L135.8 154.8L136.2 155.1L136.6 153.3L137.0 155.2L137.4 153.2L137.8 156.4L138.2 159.0L138.6 157.4L139.0 155.2L139.4 152.0L139.8 154.9L140.3 155.5L140.7 156.5L141.1 155.9L141.5 154.0L141.9 154.6L142.3 155.1L142.7 155.3L143.1 156.5L143.5 155.1L143.9 152.6L144.3 157.1L144.7 152.9L145.1 159.3L145.5 160.5L145.9 156.6L146.4 157.3L146.8 152.5L147.2 153.8L147.6 158.1L148.0 156.6L148.4 155.3L148.8 153.5L149.2 155.8L149.6 158.1L150.0 158.2L150.4 153.6L150.8 150.9L151.2 154.7L151.6 151.7L152.0 152.8L152.5 152.4L152.9 151.7L153.3 153.7L153.7 154.3L154.1 157.9L154.5 155.7L154.9 152.1L155.3 154.6L155.7 153.5L156.1 152.7L156.5 148.4L156.9 152.3L157.3 149.7L157.7 149.4L158.1 147.1L158.6 144.3L159.0 145.9L159.4 143.8L159.8 147.8L160.2 149.1L160.6 149.2L161.0 151.8L161.4 155.4L161.8 156.0L162.2 153.3L162.6 151.4L163.0 149.6L163.4 154.6L163.8 153.7L164.3 153.4L164.7 154.6L165.1 154.0L165.5 154.9L165.9 152.9L166.3 152.7L166.7 151.7L167.1 147.3L167.5 148.7L167.9 145.2L168.3 142.5L168.7 138.0L169.1 134.3L169.5 134.6L169.9 137.8L170.4 143.6L170.8 145.1L171.2 150.0L171.6 152.6L172.0 153.5L172.4 150.4L172.8 149.6L173.2 152.8L173.6 149.6L174.0 151.5L174.4 155.6L174.8 153.6L175.2 155.5L175.6 156.5L176.0 158.8L176.5 155.3L176.9 153.6L177.3 155.7L177.7 153.4L178.1 152.9L178.5 152.5L178.9 152.1L179.3 154.5L179.7 153.3L180.1 152.5L180.5 154.2L180.9 154.2L181.3 155.8L181.7 153.6L182.1 155.1L182.6 152.6L183.0 152.1L183.4 152.0L183.8 150.2L184.2 150.6L184.6 146.3L185.0 146.1L185.4 147.6L185.8 146.1L186.2 143.8L186.6 141.4L187.0 145.8L187.4 144.4L187.8 146.8L188.2 145.9L188.7 149.0L189.1 150.3L189.5 149.6L189.9 147.9L190.3 148.2L190.7 147.2L191.1 141.1L191.5 135.2L191.9 131.2L192.3 127.6L192.6 123.9L193.1 132.0L193.5 134.5L193.9 139.0L194.3 141.5L194.8 144.0L195.2 144.5L195.6 145.8L196.0 147.6L196.4 146.8L196.8 149.8L197.2 148.6L197.6 147.6L198.0 150.4L198.4 146.9L198.8 144.9L199.2 142.0L199.6 140.7L200.0 135.1L200.4 129.3L200.9 121.4L201.3 117.3L201.7 102.6L202.0 97.7L202.5 106.2L202.9 120.2L203.3 127.4L203.7 135.8L204.1 140.5L204.5 142.8L204.9 143.2L205.3 147.0L205.7 150.0L206.1 149.0L206.5 149.3L207.0 153.5L207.4 152.8L207.8 151.4L208.2 154.4L208.6 150.2L209.0 153.1L209.4 150.3L209.8 152.6L210.2 152.1L210.6 152.1L211.0 151.0L211.4 152.7L211.8 150.2L212.2 145.3L212.6 143.7L213.1 140.8L213.5 148.2L213.9 145.8L214.3 148.0L214.7 151.7L215.1 153.3L215.5 152.2L215.9 150.4L216.3 150.4L216.7 146.1L217.1 146.4L217.5 146.4L217.9 146.1L218.3 146.9L218.7 146.7L219.2 148.1L219.6 150.6L220.0 149.9L220.4 151.9L220.8 152.4L221.2 149.8L221.6 148.9L222.0 151.4L222.4 148.3L222.8 151.1L223.2 149.0L223.6 149.9L224.0 151.2L224.4 150.6L224.8 150.6L225.3 149.0L225.7 148.3L226.1 147.3L226.5 147.1L226.9 142.7L227.3 137.6L227.7 135.6L228.1 127.5L228.5 116.0L228.9 105.3L229.3 103.1L229.7 102.4L230.1 116.6L230.5 125.0L230.9 132.5L231.4 133.4L231.8 141.3L232.2 141.6L232.6 143.7L233.0 147.1L233.4 146.4L233.8 147.1L234.2 144.8L234.6 144.4L235.0 149.6L235.4 147.8L235.8 148.5L236.2 147.7L236.6 149.4L237.0 151.5L237.5 149.4L237.9 147.9L238.3 152.6L238.7 147.7L239.1 145.7L239.5 145.2L239.9 143.3L240.3 137.4L240.7 127.5L241.3 121.5L241.5 122.2L241.9 130.5L242.3 139.4L242.7 143.7L243.1 140.9L243.6 142.5L244.0 143.1L244.4 142.4L244.8 141.2L245.2 138.5L245.6 136.6L246.0 136.9L246.4 141.5L246.8 145.1L247.2 146.9L247.6 148.0L248.0 149.3L248.4 150.3L248.8 150.5L249.2 149.3L249.7 148.7L250.1 148.1L250.5 151.5L250.9 150.4L251.3 150.1L251.7 146.1L252.1 144.4L252.5 144.5L252.9 139.9L253.3 136.4L253.7 135.1L254.1 124.2L254.5 111.4L254.9 99.3L255.2 92.6L255.8 104.5L256.2 122.4L256.6 133.7L257.0 140.0L257.4 141.9L257.8 145.4L258.2 146.7L258.6 150.2L259.0 149.2L259.4 152.2L259.8 151.8L260.2 153.9L260.6 155.0L261.0 154.3L261.5 157.0L261.9 156.0L262.3 155.1L262.7 156.9L263.1 156.6L263.5 156.8L263.9 157.7L264.3 158.9L264.7 156.8L265.1 157.6L265.5 155.1L265.9 154.6L266.3 158.5L266.7 157.6L267.1 158.2L267.6 157.8L268.0 159.3L268.4 157.9L268.8 155.3L269.2 158.5L269.6 160.0L270.0 159.6L270.4 159.2L270.8 158.7L271.2 159.3L271.6 159.2L272.0 157.8L272.4 158.3L272.8 157.9L273.2 158.8L273.7 159.5L274.1 159.5L274.5 159.7L274.9 160.8L275.3 159.6L275.7 159.5L276.1 159.7L276.5 158.7L276.9 157.0L277.3 159.3L277.7 158.8L277.7 164.3"/></defs>
<use href="#s9" fill="#0c820c" stroke="#0c820c" stroke-width="1.1"/>
<use href="#s9" y="2.58" fill="#000"/>
<use href="#s9" y="1.83" fill="#000" clip-path="url(#tailclip)"/>
<rect x="277.0" y="160.2" width="5.6" height="4.2" fill="#000"/>
<defs><path id="s10" d="M52.4 168.3L52.4 162.7L52.8 161.7L53.2 160.4L53.6 159.2L54.0 160.6L54.4 158.1L54.8 162.5L55.2 159.2L55.6 161.6L56.0 160.6L56.5 161.8L56.9 161.8L57.3 163.7L57.7 161.9L58.1 158.3L58.5 160.4L58.9 161.4L59.3 161.6L59.7 160.3L60.1 161.2L60.5 160.9L60.9 159.7L61.3 155.0L61.7 138.0L62.0 112.0L62.3 88.3L62.6 105.9L62.6 109.7L63.0 144.9L63.4 158.0L63.8 156.3L64.2 159.9L64.6 158.4L65.0 158.0L65.4 157.6L65.8 159.9L66.2 160.1L66.6 163.8L67.0 165.7L67.4 164.1L67.8 161.2L68.2 159.5L68.7 160.8L69.1 159.0L69.5 158.9L69.9 156.6L70.3 160.8L70.7 160.6L71.1 161.3L71.5 162.3L71.9 158.4L72.3 161.8L72.7 163.1L73.1 162.8L73.5 160.5L73.9 162.1L74.3 160.6L74.8 160.4L75.2 162.5L75.6 166.2L76.0 165.1L76.4 165.2L76.8 160.1L77.2 162.5L77.6 164.0L78.0 162.0L78.4 161.8L78.8 163.5L79.2 160.4L79.6 159.7L80.0 160.6L80.4 162.6L80.9 163.6L81.3 165.9L81.7 162.4L82.1 161.2L82.5 163.1L82.9 161.9L83.3 155.7L83.7 161.2L84.1 164.3L84.5 161.1L84.9 161.7L85.3 161.9L85.7 159.8L86.1 160.2L86.5 158.1L87.0 157.9L87.4 156.3L87.8 157.0L88.2 160.6L88.6 154.5L89.0 156.2L89.4 149.4L89.8 144.6L90.2 140.1L90.6 129.0L91.1 119.4L91.4 124.7L91.8 132.6L92.2 142.4L92.6 149.2L93.1 152.7L93.5 151.5L93.9 152.6L94.3 154.4L94.7 155.0L95.1 154.7L95.5 154.4L95.9 155.1L96.3 159.6L96.7 157.2L97.1 160.0L97.5 164.3L97.9 160.3L98.3 162.5L98.7 161.6L99.2 161.3L99.6 162.2L100.0 160.6L100.4 161.5L100.8 161.9L101.2 163.3L101.6 162.6L102.0 163.8L102.4 162.3L102.8 159.5L103.2 159.1L103.6 160.0L104.0 163.5L104.4 160.5L104.8 159.7L105.3 157.3L105.7 164.1L106.1 162.6L106.5 162.6L106.9 160.1L107.3 163.1L107.7 163.0L108.1 158.1L108.5 158.7L108.9 164.2L109.3 162.6L109.7 159.7L110.1 162.2L110.5 160.9L110.9 161.3L111.4 164.2L111.8 163.7L112.2 160.5L112.6 159.2L113.0 161.9L113.4 159.7L113.8 162.2L114.2 161.4L114.6 161.6L115.0 163.8L115.4 161.8L115.8 162.3L116.2 166.5L116.6 164.6L117.0 163.8L117.5 163.5L117.9 163.4L118.3 162.7L118.7 165.2L119.1 159.8L119.5 158.9L119.9 157.8L120.3 158.3L120.7 158.2L121.1 159.2L121.5 161.6L121.9 163.4L122.3 161.4L122.7 159.3L123.2 160.0L123.6 157.9L124.0 162.5L124.4 162.1L124.8 162.7L125.2 159.6L125.6 157.7L126.0 161.0L126.4 159.9L126.8 161.3L127.2 163.1L127.6 162.1L128.0 163.5L128.4 159.3L128.8 159.5L129.3 158.5L129.7 159.6L130.1 164.8L130.5 160.9L130.9 160.8L131.3 165.2L131.7 162.1L132.1 159.3L132.5 157.0L132.9 160.9L133.3 158.7L133.7 158.5L134.1 158.9L134.5 159.0L134.9 157.5L135.4 157.0L135.8 157.1L136.2 159.3L136.6 161.9L137.0 158.4L137.4 157.3L137.8 160.4L138.2 160.5L138.6 159.1L139.0 163.2L139.4 160.7L139.8 156.4L140.2 158.7L140.6 161.3L141.0 157.2L141.5 159.5L141.9 159.9L142.3 161.1L142.7 160.5L143.1 163.7L143.5 164.0L143.9 164.3L144.3 160.1L144.7 160.4L145.1 158.2L145.5 163.0L145.9 162.1L146.3 158.0L146.7 160.4L147.1 162.8L147.6 161.4L148.0 159.7L148.4 157.9L148.8 154.2L149.2 152.3L149.6 151.6L150.0 153.8L150.4 157.2L150.8 158.8L151.2 161.2L151.6 157.3L152.0 156.1L152.4 157.7L152.8 159.9L153.2 157.7L153.7 157.1L154.1 157.1L154.5 158.9L154.9 156.2L155.3 155.5L155.7 151.3L156.1 148.4L156.5 147.2L156.9 149.8L157.3 149.2L157.7 151.7L158.1 152.5L158.5 154.1L158.9 155.2L159.3 156.3L159.8 159.4L160.2 161.9L160.6 161.2L161.0 158.2L161.4 156.6L161.8 157.2L162.2 157.5L162.6 154.3L163.0 156.9L163.4 159.9L163.8 160.2L164.2 157.4L164.6 153.7L165.0 151.1L165.4 150.0L165.9 145.2L166.3 142.2L166.7 140.9L167.1 141.4L167.5 142.8L167.9 145.6L168.3 152.0L168.7 155.2L169.1 155.1L169.5 151.9L169.9 157.1L170.3 159.4L170.7 157.4L171.1 156.6L171.5 158.5L172.0 158.2L172.4 157.2L172.8 161.0L173.2 159.2L173.6 157.5L174.0 156.3L174.4 155.5L174.8 157.4L175.2 160.5L175.6 156.7L176.0 156.2L176.4 158.6L176.8 156.4L177.2 155.6L177.6 157.4L178.1 161.8L178.5 160.0L178.9 159.8L179.3 159.8L179.7 158.3L180.1 159.4L180.5 156.9L180.9 153.0L181.3 156.8L181.7 153.7L182.1 154.7L182.5 152.2L182.9 151.6L183.3 147.9L183.7 150.1L184.2 149.0L184.6 152.2L185.0 152.3L185.4 153.2L185.8 151.6L186.2 155.8L186.6 156.8L187.0 151.8L187.4 151.2L187.8 147.7L188.2 149.9L188.6 146.4L189.0 141.4L189.4 134.0L189.8 131.8L190.1 132.1L190.7 134.1L191.1 140.1L191.5 146.0L191.9 147.0L192.3 153.2L192.7 154.4L193.1 151.0L193.5 153.4L193.9 154.0L194.3 153.0L194.7 151.2L195.1 151.4L195.5 153.7L195.9 153.2L196.4 149.3L196.8 148.9L197.2 147.9L197.6 142.2L198.0 135.7L198.4 125.8L198.8 120.4L199.2 111.4L199.5 108.7L200.0 114.9L200.4 126.7L200.8 133.3L201.2 145.6L201.6 145.4L202.0 149.6L202.5 151.4L202.9 151.2L203.3 152.4L203.7 155.4L204.1 152.3L204.5 153.0L204.9 155.4L205.3 155.1L205.7 157.4L206.1 158.5L206.5 157.2L206.9 155.5L207.3 155.3L207.7 156.6L208.1 157.9L208.6 158.4L209.0 152.1L209.4 151.2L209.8 151.9L210.2 148.0L210.6 148.3L211.0 151.3L211.4 153.6L211.8 151.9L212.2 153.0L212.6 151.2L213.0 152.7L213.4 154.8L213.8 155.0L214.3 154.7L214.7 151.8L215.1 149.6L215.5 147.5L215.9 147.5L216.3 151.6L216.7 152.8L217.1 155.3L217.5 154.1L217.9 157.2L218.3 157.2L218.7 157.8L219.1 157.7L219.5 157.0L219.9 153.5L220.4 155.4L220.8 158.1L221.2 156.8L221.6 154.3L222.0 153.5L222.4 153.4L222.8 149.8L223.2 149.4L223.6 150.2L224.0 147.2L224.4 149.0L224.8 145.1L225.2 141.3L225.6 132.9L226.0 120.6L226.5 113.6L226.9 106.1L227.3 113.9L227.7 120.4L228.1 134.1L228.5 141.1L228.9 142.6L229.3 146.7L229.7 148.6L230.1 150.2L230.5 150.6L230.9 151.1L231.3 152.2L231.7 150.8L232.1 149.9L232.6 152.7L233.0 152.4L233.4 150.6L233.8 156.3L234.2 156.6L234.6 156.2L235.0 155.5L235.4 155.0L235.8 155.9L236.2 154.5L236.6 153.1L237.0 151.5L237.4 146.0L237.8 143.5L238.2 141.5L238.8 137.9L239.1 135.6L239.5 140.9L239.9 146.4L240.3 151.3L240.7 151.8L241.1 151.8L241.5 152.4L241.9 151.0L242.3 146.5L242.7 142.7L243.1 140.7L243.5 143.3L243.9 149.3L244.3 149.6L244.8 149.6L245.2 150.6L245.6 151.5L246.0 153.6L246.4 154.2L246.8 155.1L247.2 153.1L247.6 154.9L248.0 150.9L248.4 151.4L248.8 152.9L249.2 152.0L249.6 153.2L250.0 150.3L250.4 145.8L250.9 135.3L251.3 131.1L251.7 116.8L252.1 99.9L252.5 82.6L252.8 76.1L253.3 95.7L253.7 111.3L254.1 123.1L254.5 134.9L254.9 142.7L255.3 147.0L255.7 149.1L256.1 153.0L256.5 154.1L257.0 154.5L257.4 156.6L257.8 156.5L258.2 156.9L258.6 156.7L259.0 159.9L259.4 160.4L259.8 160.6L260.2 159.1L260.6 159.5L261.0 161.6L261.4 162.1L261.8 159.6L262.2 160.3L262.6 162.1L263.1 162.5L263.5 161.8L263.9 160.5L264.3 160.0L264.7 161.7L265.1 162.3L265.5 160.6L265.9 162.6L266.3 161.2L266.7 161.8L267.1 162.3L267.5 161.4L267.9 161.9L268.3 163.3L268.7 164.4L269.2 163.4L269.6 162.7L270.0 161.7L270.4 164.9L270.8 162.6L271.2 162.4L271.6 161.6L272.0 161.9L272.4 162.6L272.8 162.7L273.2 162.7L273.6 163.7L274.0 163.6L274.4 163.3L274.8 163.8L275.3 164.9L275.3 168.3"/></defs>
<use href="#s10" fill="#0c820c" stroke="#0c820c" stroke-width="1.1"/>
<use href="#s10" y="2.65" fill="#000"/>
<use href="#s10" y="1.90" fill="#000" clip-path="url(#tailclip)"/>
<rect x="274.5" y="164.2" width="5.6" height="4.2" fill="#000"/>
<defs><path id="s11" d="M49.9 172.2L49.9 166.2L50.3 165.1L50.7 166.7L51.1 166.3L51.5 165.8L52.0 166.3L52.4 165.6L52.8 163.7L53.2 166.9L53.6 170.3L54.0 164.8L54.4 160.7L54.8 165.2L55.2 162.7L55.6 162.8L56.0 164.6L56.4 167.3L56.8 161.5L57.2 163.0L57.6 166.1L58.1 163.4L58.5 162.0L58.9 160.4L59.3 134.0L59.5 97.9L59.8 68.4L60.1 92.1L60.1 95.7L60.5 140.0L60.9 158.6L61.3 163.5L61.7 161.6L62.1 160.4L62.5 164.4L62.9 166.7L63.3 164.2L63.7 163.2L64.2 164.1L64.6 164.6L65.0 165.2L65.4 164.5L65.8 163.6L66.2 163.9L66.6 160.4L67.0 163.1L67.4 162.4L67.8 161.9L68.2 161.6L68.6 163.4L69.0 163.9L69.4 163.6L69.8 167.2L70.3 165.6L70.7 162.4L71.1 161.1L71.5 164.8L71.9 164.1L72.3 164.5L72.7 162.7L73.1 165.6L73.5 167.1L73.9 164.0L74.3 166.0L74.7 170.8L75.1 167.5L75.5 165.7L75.9 164.9L76.4 165.6L76.8 163.7L77.2 163.1L77.6 162.8L78.0 160.0L78.4 162.2L78.8 167.5L79.2 165.2L79.6 165.7L80.0 167.7L80.4 165.4L80.8 166.2L81.2 164.9L81.6 165.5L82.0 166.6L82.5 165.4L82.9 163.8L83.3 164.3L83.7 165.0L84.1 160.1L84.5 159.1L84.9 164.6L85.3 160.1L85.7 157.5L86.1 153.5L86.5 150.4L86.9 147.7L87.3 144.0L87.7 131.6L88.2 120.0L88.7 111.5L89.0 113.7L89.4 125.8L89.8 138.5L90.2 146.9L90.6 151.5L91.0 153.3L91.4 157.1L91.8 154.9L92.2 153.9L92.6 156.5L93.0 154.9L93.4 157.8L93.8 158.9L94.3 161.1L94.7 159.9L95.1 164.6L95.5 159.7L95.9 161.5L96.3 162.5L96.7 163.5L97.1 165.5L97.5 166.8L97.9 164.3L98.3 165.1L98.7 163.6L99.1 160.4L99.5 162.7L99.9 162.5L100.4 164.4L100.8 166.1L101.2 164.8L101.6 161.1L102.0 162.1L102.4 163.1L102.8 165.4L103.2 165.1L103.6 162.1L104.0 163.3L104.4 166.3L104.8 166.4L105.2 164.5L105.6 163.7L106.0 168.0L106.5 165.4L106.9 165.8L107.3 169.6L107.7 169.5L108.1 166.9L108.5 167.6L108.9 165.4L109.3 164.5L109.7 164.8L110.1 165.5L110.5 164.1L110.9 167.1L111.3 169.4L111.7 165.7L112.1 162.7L112.6 165.0L113.0 162.7L113.4 162.4L113.8 164.9L114.2 163.8L114.6 161.3L115.0 164.2L115.4 162.8L115.8 162.1L116.2 163.7L116.6 160.4L117.0 161.6L117.4 158.8L117.8 159.0L118.2 161.0L118.7 161.6L119.1 163.7L119.5 159.0L119.9 163.4L120.3 164.7L120.7 162.0L121.1 161.8L121.5 162.1L121.9 165.4L122.3 166.5L122.7 165.3L123.1 164.3L123.5 162.6L123.9 162.1L124.3 162.8L124.8 162.4L125.2 166.6L125.6 167.8L126.0 166.9L126.4 165.3L126.8 165.9L127.2 165.5L127.6 164.4L128.0 165.2L128.4 164.5L128.8 162.1L129.2 162.1L129.6 163.6L130.0 162.9L130.4 161.9L130.9 161.8L131.3 160.1L131.7 163.2L132.1 159.5L132.5 161.7L132.9 159.8L133.3 163.3L133.7 160.5L134.1 160.2L134.5 163.0L134.9 161.8L135.3 163.4L135.7 161.2L136.1 163.0L136.5 164.1L137.0 165.4L137.4 164.4L137.8 162.9L138.2 162.1L138.6 164.2L139.0 164.5L139.4 165.8L139.8 165.6L140.2 164.5L140.6 163.1L141.0 161.8L141.4 163.8L141.8 165.6L142.2 161.1L142.6 162.4L143.1 163.4L143.5 162.7L143.9 162.7L144.3 161.2L144.7 160.6L145.1 163.1L145.5 162.1L145.9 159.1L146.3 158.9L146.7 156.5L147.1 159.2L147.5 156.4L147.9 158.1L148.3 162.6L148.7 159.6L149.2 162.4L149.6 161.2L150.0 160.7L150.4 160.0L150.8 159.0L151.2 162.8L151.6 160.8L152.0 160.3L152.4 158.1L152.8 154.2L153.2 145.1L153.6 144.3L154.0 145.0L154.4 141.0L154.8 146.4L155.3 152.2L155.7 151.9L156.1 154.2L156.5 155.7L156.9 160.8L157.3 157.4L157.7 159.6L158.1 159.4L158.5 159.1L158.9 156.9L159.3 156.6L159.7 159.3L160.1 160.4L160.5 161.2L160.9 159.9L161.4 158.1L161.8 157.0L162.2 156.3L162.6 155.8L163.0 153.4L163.4 147.9L163.8 141.8L164.2 138.6L164.6 141.0L165.0 143.5L165.4 146.5L165.8 152.9L166.2 157.0L166.6 155.8L167.0 154.2L167.5 156.5L167.9 157.8L168.3 159.0L168.7 157.5L169.1 161.7L169.5 160.5L169.9 161.1L170.3 164.7L170.7 162.6L171.1 161.3L171.5 160.7L171.9 161.0L172.3 161.2L172.7 159.9L173.1 163.0L173.6 163.3L174.0 160.4L174.4 159.3L174.8 158.3L175.2 161.8L175.6 158.5L176.0 157.7L176.4 158.5L176.8 160.9L177.2 158.3L177.6 156.4L178.0 158.0L178.4 156.9L178.8 155.9L179.3 154.1L179.7 152.8L180.1 151.0L180.5 152.4L180.9 150.2L181.3 151.2L181.7 147.9L182.1 148.6L182.5 150.5L182.9 149.2L183.3 153.8L183.7 151.1L184.1 154.1L184.5 156.2L184.9 153.5L185.4 151.1L185.8 147.5L186.2 142.5L186.6 135.1L187.0 126.4L187.4 121.1L187.7 120.6L188.2 123.7L188.6 129.9L189.0 136.9L189.4 142.8L189.8 150.6L190.2 150.1L190.6 152.9L191.0 151.3L191.5 150.4L191.9 153.3L192.3 155.2L192.7 154.5L193.1 152.3L193.5 150.6L193.9 151.7L194.3 148.0L194.7 146.5L195.1 141.7L195.5 131.7L195.9 122.2L196.3 112.1L196.7 97.5L197.0 89.2L197.6 103.8L198.0 115.1L198.4 128.3L198.8 139.8L199.2 145.2L199.6 147.0L200.0 147.6L200.4 153.5L200.8 154.3L201.2 154.2L201.6 153.7L202.0 151.0L202.4 151.5L202.8 154.3L203.2 158.6L203.7 158.2L204.1 159.5L204.5 158.6L204.9 158.4L205.3 157.6L205.7 156.0L206.1 156.0L206.5 153.0L206.9 150.4L207.3 152.3L207.7 152.7L208.1 152.5L208.5 156.4L208.9 154.7L209.3 155.1L209.8 155.4L210.2 152.8L210.6 153.7L211.0 153.2L211.4 154.3L211.8 155.0L212.2 156.9L212.6 153.0L213.0 150.1L213.4 151.5L213.8 153.3L214.2 153.7L214.6 151.8L215.0 155.7L215.4 157.3L215.9 158.8L216.3 158.3L216.7 160.1L217.1 158.1L217.5 159.5L217.9 156.2L218.3 158.8L218.7 159.9L219.1 157.0L219.5 155.5L219.9 157.4L220.3 155.1L220.7 153.7L221.1 149.6L221.5 150.6L222.0 150.5L222.4 143.2L222.8 135.1L223.2 124.9L223.6 114.4L224.0 104.7L224.4 100.2L224.8 98.1L225.2 112.7L225.6 125.8L226.0 134.4L226.4 140.6L226.8 146.8L227.2 149.6L227.6 150.8L228.1 149.5L228.5 147.3L228.9 147.6L229.3 147.8L229.7 151.6L230.1 153.8L230.5 153.8L230.9 156.3L231.3 157.2L231.7 152.1L232.1 155.5L232.5 156.3L232.9 159.1L233.3 155.1L233.7 153.2L234.2 152.0L234.6 147.9L235.0 148.3L235.4 135.6L235.8 124.2L236.3 121.2L236.6 120.9L237.0 127.7L237.4 135.8L237.8 142.9L238.2 144.9L238.6 147.4L239.0 149.5L239.4 145.4L239.8 146.3L240.3 141.9L240.7 138.9L241.1 136.9L241.5 144.7L241.9 152.1L242.3 155.6L242.7 155.5L243.1 156.6L243.5 156.7L243.9 160.0L244.3 158.3L244.7 156.8L245.1 154.3L245.5 154.0L245.9 158.7L246.4 156.5L246.8 157.9L247.2 154.8L247.6 151.7L248.0 150.2L248.4 151.4L248.8 141.4L249.2 130.2L249.6 116.9L250.0 100.3L250.3 97.5L250.8 110.0L251.2 124.0L251.6 137.7L252.0 143.5L252.5 150.1L252.9 153.6L253.3 154.6L253.7 154.4L254.1 158.0L254.5 158.9L254.9 160.6L255.3 163.8L255.7 163.1L256.1 158.1L256.5 161.3L256.9 160.8L257.3 161.1L257.7 161.3L258.1 162.8L258.6 162.7L259.0 163.7L259.4 161.8L259.8 163.2L260.2 164.2L260.6 163.4L261.0 165.2L261.4 164.2L261.8 162.9L262.2 165.4L262.6 165.0L263.0 165.9L263.4 165.7L263.8 166.0L264.2 167.9L264.7 165.6L265.1 165.9L265.5 165.2L265.9 166.4L266.3 166.7L266.7 166.8L267.1 167.8L267.5 165.2L267.9 164.8L268.3 164.6L268.7 165.2L269.1 166.4L269.5 166.1L269.9 163.6L270.4 164.1L270.8 165.5L271.2 167.2L271.6 166.2L272.0 168.9L272.4 166.5L272.8 167.2L272.8 172.2"/></defs>
<use href="#s11" fill="#0c820c" stroke="#0c820c" stroke-width="1.1"/>
<use href="#s11" y="2.65" fill="#000"/>
<use href="#s11" y="1.90" fill="#000" clip-path="url(#tailclip)"/>
<rect x="272.1" y="168.1" width="5.6" height="4.2" fill="#000"/>
<defs><path id="s12" d="M47.5 176.2L47.5 169.2L47.9 168.8L48.3 170.1L48.7 168.8L49.1 173.3L49.5 173.1L49.9 170.2L50.3 168.6L50.7 169.1L51.1 169.7L51.5 168.8L51.9 166.8L52.3 166.5L52.7 168.1L53.2 169.3L53.6 166.9L54.0 167.0L54.4 166.3L54.8 168.0L55.2 169.4L55.6 167.7L56.0 167.7L56.4 161.9L56.8 142.6L57.1 114.8L57.4 84.4L57.6 102.9L57.7 108.8L58.0 151.8L58.4 166.2L58.8 165.5L59.3 165.3L59.7 167.0L60.1 169.9L60.5 171.6L60.9 169.0L61.3 170.1L61.7 170.2L62.1 168.2L62.5 166.4L62.9 171.3L63.3 170.3L63.7 166.3L64.1 167.0L64.5 167.4L64.9 165.2L65.4 166.9L65.8 167.3L66.2 165.8L66.6 163.4L67.0 164.0L67.4 166.4L67.8 165.6L68.2 168.0L68.6 170.3L69.0 172.1L69.4 169.2L69.8 167.1L70.2 167.3L70.6 168.2L71.0 169.1L71.5 166.8L71.9 168.0L72.3 170.9L72.7 166.9L73.1 169.1L73.5 168.0L73.9 168.3L74.3 166.5L74.7 167.3L75.1 165.7L75.5 167.0L75.9 168.7L76.3 169.3L76.7 167.4L77.1 169.3L77.6 166.8L78.0 167.9L78.4 169.5L78.8 169.9L79.2 168.6L79.6 164.6L80.0 164.8L80.4 166.1L80.8 168.0L81.2 163.4L81.6 165.4L82.0 165.1L82.4 165.3L82.8 161.4L83.2 161.2L83.7 160.8L84.1 157.4L84.5 155.1L84.9 149.4L85.3 138.4L85.7 130.4L86.2 114.6L86.5 114.4L86.9 130.5L87.3 141.7L87.7 152.2L88.1 154.9L88.5 157.1L88.9 157.7L89.3 161.9L89.8 161.9L90.2 161.9L90.6 161.4L91.0 157.3L91.4 161.4L91.8 163.3L92.2 165.4L92.6 164.3L93.0 161.0L93.4 162.6L93.8 162.7L94.2 167.6L94.6 165.6L95.0 166.8L95.4 165.1L95.9 165.0L96.3 165.7L96.7 170.2L97.1 168.6L97.5 169.2L97.9 167.7L98.3 168.0L98.7 166.2L99.1 170.5L99.5 170.4L99.9 169.2L100.3 168.1L100.7 169.0L101.1 168.6L101.5 168.4L102.0 166.5L102.4 167.9L102.8 167.8L103.2 171.5L103.6 174.2L104.0 173.1L104.4 169.4L104.8 172.9L105.2 169.3L105.6 168.9L106.0 168.6L106.4 169.8L106.8 169.6L107.2 167.3L107.6 167.3L108.1 168.0L108.5 169.1L108.9 168.2L109.3 166.1L109.7 167.5L110.1 168.6L110.5 170.4L110.9 168.7L111.3 169.9L111.7 171.2L112.1 167.4L112.5 168.6L112.9 171.5L113.3 169.9L113.7 164.4L114.2 165.6L114.6 167.8L115.0 167.7L115.4 164.3L115.8 164.0L116.2 164.7L116.6 166.2L117.0 165.8L117.4 163.9L117.8 165.3L118.2 167.1L118.6 170.0L119.0 167.7L119.4 164.9L119.8 165.7L120.3 169.4L120.7 168.1L121.1 165.6L121.5 168.2L121.9 167.1L122.3 165.4L122.7 164.0L123.1 169.4L123.5 171.5L123.9 168.4L124.3 166.7L124.7 168.0L125.1 167.8L125.5 168.4L125.9 165.6L126.4 170.8L126.8 168.0L127.2 169.7L127.6 169.0L128.0 170.2L128.4 169.1L128.8 166.9L129.2 165.6L129.6 161.6L130.0 163.8L130.4 163.7L130.8 164.0L131.2 164.6L131.6 163.0L132.0 165.0L132.5 165.8L132.9 166.7L133.3 166.8L133.7 167.1L134.1 165.3L134.5 166.4L134.9 166.8L135.3 167.1L135.7 165.7L136.1 167.5L136.5 165.5L136.9 167.6L137.3 166.0L137.7 163.1L138.2 165.2L138.6 166.5L139.0 168.8L139.4 166.1L139.8 166.5L140.2 164.9L140.6 167.1L141.0 165.6L141.4 162.6L141.8 163.9L142.2 165.4L142.6 167.3L143.0 165.0L143.4 162.3L143.8 160.6L144.3 162.6L144.7 163.4L145.1 164.5L145.5 165.7L145.9 165.2L146.3 164.3L146.7 161.1L147.1 163.1L147.5 161.5L147.9 166.5L148.3 162.2L148.7 161.8L149.1 161.8L149.5 160.4L149.9 159.3L150.4 155.0L150.8 153.4L151.2 155.2L151.6 155.3L152.0 151.1L152.4 155.3L152.8 156.0L153.2 160.4L153.6 163.1L154.0 163.9L154.4 163.2L154.8 163.4L155.2 165.1L155.6 163.6L156.0 162.9L156.5 165.5L156.9 166.6L157.3 168.5L157.7 165.9L158.1 164.3L158.5 164.6L158.9 164.2L159.3 162.5L159.7 160.8L160.1 157.9L160.5 154.6L160.9 151.7L161.3 146.7L161.7 147.3L162.1 146.2L162.6 149.3L163.0 155.6L163.4 158.9L163.8 159.1L164.2 160.5L164.6 163.9L165.0 164.2L165.4 160.8L165.8 161.0L166.2 162.6L166.6 161.0L167.0 164.6L167.4 164.6L167.8 162.5L168.2 164.2L168.7 166.2L169.1 163.9L169.5 161.2L169.9 167.8L170.3 165.1L170.7 166.8L171.1 165.6L171.5 167.1L171.9 160.3L172.3 163.9L172.7 163.7L173.1 165.0L173.5 165.8L173.9 165.1L174.3 163.5L174.8 159.9L175.2 161.2L175.6 159.0L176.0 162.8L176.4 161.6L176.8 161.5L177.2 162.8L177.6 152.6L178.0 155.1L178.4 154.1L178.8 155.5L179.2 156.3L179.6 158.4L180.0 156.2L180.4 158.3L180.9 158.7L181.3 158.2L181.7 160.2L182.1 157.6L182.5 156.5L182.9 153.6L183.3 152.1L183.7 147.7L184.1 141.0L184.5 132.6L184.9 128.7L185.2 124.8L185.7 132.7L186.1 139.6L186.5 145.1L187.0 149.4L187.4 157.2L187.8 158.1L188.2 157.7L188.6 155.9L189.0 158.4L189.4 155.3L189.8 160.1L190.2 158.1L190.6 156.1L191.0 155.7L191.4 154.0L191.8 150.8L192.2 150.6L192.6 144.7L193.1 136.9L193.5 129.2L193.9 120.8L194.3 107.8L194.6 103.3L195.1 113.2L195.5 124.1L195.9 136.8L196.3 139.2L196.7 146.0L197.1 153.6L197.5 155.6L197.9 153.9L198.3 155.5L198.7 159.7L199.2 157.8L199.6 160.2L200.0 156.4L200.4 160.2L200.8 159.6L201.2 159.5L201.6 161.3L202.0 161.4L202.4 159.0L202.8 159.1L203.2 159.9L203.6 158.8L204.0 155.4L204.4 154.7L204.8 154.2L205.3 153.7L205.7 157.5L206.1 156.9L206.5 158.8L206.9 157.9L207.3 160.3L207.7 159.3L208.1 161.5L208.5 158.5L208.9 159.8L209.3 158.2L209.7 155.2L210.1 154.4L210.5 152.6L210.9 150.7L211.4 150.4L211.8 158.3L212.2 160.4L212.6 158.9L213.0 158.2L213.4 160.8L213.8 160.8L214.2 161.4L214.6 157.2L215.0 160.2L215.4 162.9L215.8 164.4L216.2 164.2L216.6 159.2L217.0 160.2L217.5 155.8L217.9 156.0L218.3 155.8L218.7 154.1L219.1 151.7L219.5 148.5L219.9 147.6L220.3 142.1L220.7 133.6L221.1 120.9L221.5 109.1L221.9 105.0L222.3 109.9L222.7 117.1L223.1 126.5L223.6 139.8L224.0 145.2L224.4 149.7L224.8 154.0L225.2 153.4L225.6 154.8L226.0 151.8L226.4 152.2L226.8 153.0L227.2 158.0L227.6 156.8L228.0 156.1L228.4 159.5L228.8 158.2L229.3 158.4L229.7 163.0L230.1 161.7L230.5 160.1L230.9 158.3L231.3 158.2L231.7 157.4L232.1 156.2L232.5 153.1L232.9 147.6L233.3 142.7L233.9 134.2L234.1 136.4L234.5 141.2L234.9 148.7L235.4 151.8L235.8 154.3L236.2 154.0L236.6 154.3L237.0 152.3L237.4 151.5L237.8 148.4L238.2 146.4L238.6 149.8L239.0 152.6L239.4 153.8L239.8 156.2L240.2 160.7L240.6 160.8L241.0 160.3L241.5 164.2L241.9 162.6L242.3 162.1L242.7 161.1L243.1 161.5L243.5 165.1L243.9 166.5L244.3 159.2L244.7 160.3L245.1 156.6L245.5 153.7L245.9 152.5L246.3 150.6L246.7 139.6L247.1 130.3L247.6 118.9L247.8 115.7L248.4 124.0L248.8 135.1L249.2 148.3L249.6 155.7L250.0 157.3L250.4 159.4L250.8 159.6L251.2 162.0L251.6 163.4L252.0 160.3L252.4 160.8L252.8 161.6L253.2 162.3L253.7 166.1L254.1 166.4L254.5 166.6L254.9 168.7L255.3 168.4L255.7 167.6L256.1 168.6L256.5 167.6L256.9 167.4L257.3 168.1L257.7 168.6L258.1 168.0L258.5 168.0L258.9 168.2L259.3 169.8L259.8 170.8L260.2 167.9L260.6 169.5L261.0 169.8L261.4 171.3L261.8 170.9L262.2 170.8L262.6 169.4L263.0 172.1L263.4 171.9L263.8 171.0L264.2 170.8L264.6 171.0L265.0 170.8L265.4 171.8L265.9 170.5L266.3 169.2L266.7 169.7L267.1 170.6L267.5 169.2L267.9 169.5L268.3 171.0L268.7 171.1L269.1 171.2L269.5 170.7L269.9 169.5L270.3 170.8L270.3 176.2"/></defs>
<use href="#s12" fill="#0c820c" stroke="#0c820c" stroke-width="1.1"/>
<use href="#s12" y="2.77" fill="#000"/>
<use href="#s12" y="2.02" fill="#000" clip-path="url(#tailclip)"/>
<rect x="269.6" y="172.1" width="5.6" height="4.2" fill="#000"/>
<defs><path id="s13" d="M45.0 180.1L45.0 172.8L45.4 177.4L45.8 173.8L46.2 173.7L46.6 173.5L47.0 174.1L47.4 172.6L47.8 174.7L48.2 175.3L48.7 178.2L49.1 174.4L49.5 173.6L49.9 174.1L50.3 170.7L50.7 171.7L51.1 174.8L51.5 175.1L51.9 174.1L52.3 173.1L52.7 175.9L53.1 172.1L53.5 171.5L53.9 168.5L54.3 146.4L54.6 112.1L54.9 88.4L55.2 109.8L55.2 117.0L55.6 160.8L56.0 168.9L56.4 173.2L56.8 172.4L57.2 173.3L57.6 176.2L58.0 173.3L58.4 173.6L58.8 172.3L59.2 170.8L59.6 174.3L60.0 172.7L60.4 172.7L60.9 176.9L61.3 175.6L61.7 176.1L62.1 175.7L62.5 170.6L62.9 168.6L63.3 168.5L63.7 168.1L64.1 169.0L64.5 169.3L64.9 168.7L65.3 170.5L65.7 174.4L66.1 176.6L66.5 174.1L67.0 174.1L67.4 171.8L67.8 174.3L68.2 171.5L68.6 173.4L69.0 170.7L69.4 170.8L69.8 169.8L70.2 167.2L70.6 174.9L71.0 174.7L71.4 175.3L71.8 173.7L72.2 174.8L72.6 176.1L73.1 175.5L73.5 173.5L73.9 175.7L74.3 172.4L74.7 172.5L75.1 171.6L75.5 175.0L75.9 173.2L76.3 171.4L76.7 171.5L77.1 170.6L77.5 171.9L77.9 171.7L78.3 173.3L78.7 170.3L79.2 169.8L79.6 168.2L80.0 171.8L80.4 167.5L80.8 167.2L81.2 168.5L81.6 167.4L82.0 164.6L82.4 161.0L82.8 151.6L83.2 140.6L83.7 134.5L84.0 136.9L84.4 144.7L84.8 155.7L85.3 163.2L85.7 164.7L86.1 167.7L86.5 167.4L86.9 167.9L87.3 167.8L87.7 167.8L88.1 167.2L88.5 163.9L88.9 167.5L89.3 169.9L89.7 171.4L90.1 170.4L90.5 172.4L90.9 171.1L91.4 174.3L91.8 175.3L92.2 175.3L92.6 173.8L93.0 169.5L93.4 174.5L93.8 174.1L94.2 172.5L94.6 173.9L95.0 174.7L95.4 172.5L95.8 169.4L96.2 169.9L96.6 172.7L97.1 174.8L97.5 177.2L97.9 175.5L98.3 172.3L98.7 172.0L99.1 173.5L99.5 175.3L99.9 175.2L100.3 173.7L100.7 172.8L101.1 170.2L101.5 174.4L101.9 169.8L102.3 167.9L102.7 174.0L103.2 173.7L103.6 171.0L104.0 170.9L104.4 171.2L104.8 170.4L105.2 171.1L105.6 169.2L106.0 172.5L106.4 173.7L106.8 172.0L107.2 172.0L107.6 172.8L108.0 170.7L108.4 175.0L108.8 169.3L109.3 169.5L109.7 172.5L110.1 173.8L110.5 175.0L110.9 171.8L111.3 175.3L111.7 173.1L112.1 170.1L112.5 171.0L112.9 167.0L113.3 168.9L113.7 171.8L114.1 173.7L114.5 171.7L114.9 171.6L115.4 170.5L115.8 172.7L116.2 177.4L116.6 173.3L117.0 171.9L117.4 169.8L117.8 169.4L118.2 170.5L118.6 171.9L119.0 173.4L119.4 172.5L119.8 177.3L120.2 172.7L120.6 175.4L121.0 170.7L121.5 172.8L121.9 175.8L122.3 174.6L122.7 172.2L123.1 174.6L123.5 173.6L123.9 173.6L124.3 173.4L124.7 170.9L125.1 169.3L125.5 173.1L125.9 173.2L126.3 165.8L126.7 167.9L127.1 168.8L127.6 169.6L128.0 169.0L128.4 168.1L128.8 170.3L129.2 173.6L129.6 169.7L130.0 173.4L130.4 172.8L130.8 174.0L131.2 171.8L131.6 170.3L132.0 171.7L132.4 173.9L132.8 172.9L133.2 171.5L133.7 170.9L134.1 174.8L134.5 173.0L134.9 172.8L135.3 171.8L135.7 170.8L136.1 171.7L136.5 171.2L136.9 171.8L137.3 172.2L137.7 172.5L138.1 171.8L138.5 169.4L138.9 170.3L139.3 172.5L139.8 172.8L140.2 170.0L140.6 171.0L141.0 169.5L141.4 167.0L141.8 167.2L142.2 165.6L142.6 165.5L143.0 169.5L143.4 167.1L143.8 166.2L144.2 167.9L144.6 172.0L145.0 167.5L145.4 169.6L145.9 167.6L146.3 169.5L146.7 166.8L147.1 168.0L147.5 164.3L147.9 167.0L148.3 162.3L148.7 161.0L149.1 157.5L149.5 162.5L149.9 164.6L150.3 166.8L150.7 168.9L151.1 167.7L151.5 167.9L152.0 168.0L152.4 167.9L152.8 167.8L153.2 166.4L153.6 170.6L154.0 166.5L154.4 168.2L154.8 167.5L155.2 168.1L155.6 167.6L156.0 169.1L156.4 170.5L156.8 168.4L157.2 163.5L157.6 165.1L158.1 165.1L158.5 163.6L158.9 160.5L159.3 157.4L159.7 156.4L160.1 161.7L160.5 159.3L160.9 165.0L161.3 164.0L161.7 163.4L162.1 164.6L162.5 165.8L162.9 169.0L163.3 170.4L163.7 167.9L164.2 168.7L164.6 167.7L165.0 166.8L165.4 166.4L165.8 172.9L166.2 170.9L166.6 166.2L167.0 169.1L167.4 165.9L167.8 169.3L168.2 168.3L168.6 168.8L169.0 165.3L169.4 168.4L169.8 170.8L170.3 171.3L170.7 171.6L171.1 169.0L171.5 167.4L171.9 166.3L172.3 167.8L172.7 167.1L173.1 165.9L173.5 168.7L173.9 166.5L174.3 167.5L174.7 167.5L175.1 166.1L175.5 163.4L175.9 163.5L176.4 163.7L176.8 164.8L177.2 164.5L177.6 163.9L178.0 167.0L178.4 165.8L178.8 165.0L179.2 166.2L179.6 164.5L180.0 162.5L180.4 162.0L180.8 162.3L181.2 159.6L181.6 156.1L182.0 148.9L182.5 145.0L182.7 146.2L183.3 149.2L183.7 157.9L184.1 158.2L184.5 162.3L184.9 161.3L185.3 164.9L185.7 163.6L186.1 160.7L186.5 162.4L186.9 165.5L187.3 165.8L187.7 165.1L188.2 163.1L188.6 159.8L189.0 162.6L189.4 162.8L189.8 157.7L190.2 156.5L190.6 151.7L191.0 141.4L191.4 133.2L191.8 123.8L192.1 120.2L192.6 128.7L193.0 139.4L193.4 146.6L193.8 151.0L194.3 161.0L194.7 165.2L195.1 165.1L195.5 166.3L195.9 160.8L196.3 163.4L196.7 168.6L197.1 166.8L197.5 163.2L197.9 164.5L198.3 167.2L198.7 166.8L199.1 167.4L199.5 166.6L199.9 167.7L200.4 167.5L200.8 166.9L201.2 167.0L201.6 166.3L202.0 166.7L202.4 164.7L202.8 166.8L203.2 164.3L203.6 161.0L204.0 166.5L204.4 163.4L204.8 163.6L205.2 167.9L205.6 167.8L206.0 167.2L206.5 161.8L206.9 166.0L207.3 162.3L207.7 162.2L208.1 159.8L208.5 163.1L208.9 161.1L209.3 166.1L209.7 167.5L210.1 166.1L210.5 165.6L210.9 169.0L211.3 171.3L211.7 169.4L212.1 167.6L212.6 167.1L213.0 167.8L213.4 166.9L213.8 166.2L214.2 166.9L214.6 165.2L215.0 166.1L215.4 163.0L215.8 161.1L216.2 162.8L216.6 163.1L217.0 161.8L217.4 158.4L217.8 150.5L218.2 145.6L218.7 139.0L219.1 129.2L219.5 126.4L219.9 126.9L220.3 133.8L220.7 142.1L221.1 147.5L221.5 155.7L221.9 160.3L222.3 161.6L222.7 161.5L223.1 161.9L223.5 166.0L223.9 164.1L224.3 161.3L224.8 162.3L225.2 162.9L225.6 167.4L226.0 169.8L226.4 166.9L226.8 165.8L227.2 164.5L227.6 168.4L228.0 166.9L228.4 167.2L228.8 164.7L229.2 162.1L229.6 162.3L230.0 159.8L230.4 153.5L230.9 150.3L231.4 142.4L231.7 145.0L232.1 147.2L232.5 154.0L232.9 158.1L233.3 158.9L233.7 161.3L234.1 165.9L234.5 163.3L234.9 159.1L235.3 154.8L235.7 152.6L236.1 153.1L236.5 156.1L237.0 162.3L237.4 162.4L237.8 164.1L238.2 166.7L238.6 166.7L239.0 168.2L239.4 163.6L239.8 166.9L240.2 166.2L240.6 166.9L241.0 166.5L241.4 167.9L241.8 165.3L242.2 161.0L242.6 158.7L243.1 157.8L243.5 150.0L243.9 147.6L244.3 137.9L244.7 121.0L245.1 104.4L245.4 97.6L245.9 108.9L246.3 127.5L246.7 142.1L247.1 152.0L247.5 156.0L247.9 163.7L248.3 163.2L248.7 167.6L249.2 168.2L249.6 167.7L250.0 169.6L250.4 170.5L250.8 171.0L251.2 172.5L251.6 170.7L252.0 171.2L252.4 171.9L252.8 171.1L253.2 171.8L253.6 172.4L254.0 170.4L254.4 170.7L254.8 171.8L255.3 172.1L255.7 172.6L256.1 172.2L256.5 172.9L256.9 171.6L257.3 172.4L257.7 172.3L258.1 171.8L258.5 172.5L258.9 173.3L259.3 173.9L259.7 173.6L260.1 174.7L260.5 174.1L260.9 174.2L261.4 175.3L261.8 172.9L262.2 174.2L262.6 173.3L263.0 172.2L263.4 172.7L263.8 174.5L264.2 175.0L264.6 174.8L265.0 174.9L265.4 174.1L265.8 174.0L266.2 173.2L266.6 174.8L267.0 173.3L267.5 175.8L267.9 175.8L267.9 180.1"/></defs>
<use href="#s13" fill="#0c820c" stroke="#0c820c" stroke-width="1.1"/>
<use href="#s13" y="2.18" fill="#000"/>
<use href="#s13" y="1.43" fill="#000" clip-path="url(#tailclip)"/>
<rect x="267.1" y="176.0" width="5.6" height="4.2" fill="#000"/>
<defs><path id="s14" d="M42.5 184.1L42.5 172.2L42.9 174.8L43.3 176.5L43.7 177.2L44.2 178.9L44.6 177.6L45.0 177.6L45.4 178.2L45.8 174.9L46.2 177.2L46.6 173.6L47.0 173.9L47.4 174.3L47.8 176.6L48.2 177.2L48.6 180.0L49.0 176.9L49.4 176.6L49.8 175.2L50.3 176.3L50.7 174.2L51.1 176.1L51.5 174.6L51.9 147.4L52.2 104.1L52.4 77.5L52.7 97.6L52.7 106.2L53.1 155.9L53.5 174.1L53.9 176.6L54.3 174.4L54.7 176.4L55.1 176.0L55.5 176.1L55.9 172.3L56.4 173.0L56.8 177.2L57.2 177.1L57.6 178.2L58.0 178.9L58.4 177.7L58.8 173.9L59.2 174.1L59.6 172.4L60.0 172.4L60.4 171.9L60.8 170.5L61.2 171.0L61.6 168.9L62.1 169.1L62.5 172.1L62.9 173.0L63.3 178.2L63.7 176.7L64.1 171.8L64.5 175.8L64.9 174.4L65.3 173.2L65.7 175.7L66.1 176.3L66.5 176.9L66.9 174.9L67.3 175.6L67.7 173.1L68.2 172.9L68.6 174.9L69.0 170.9L69.4 174.7L69.8 176.5L70.2 176.5L70.6 177.6L71.0 177.1L71.4 176.3L71.8 174.2L72.2 177.9L72.6 178.7L73.0 177.9L73.4 176.6L73.8 174.8L74.3 176.2L74.7 172.5L75.1 174.6L75.5 174.7L75.9 173.9L76.3 171.4L76.7 171.7L77.1 171.8L77.5 172.2L77.9 170.2L78.3 167.9L78.7 166.8L79.1 163.4L79.5 161.7L79.9 152.9L80.4 138.2L80.8 121.9L81.3 112.3L81.6 120.7L82.0 128.8L82.4 143.7L82.8 148.7L83.2 158.3L83.6 160.7L84.0 165.3L84.4 163.6L84.8 163.3L85.2 167.0L85.6 164.3L86.0 161.4L86.5 167.1L86.9 171.8L87.3 171.5L87.7 173.1L88.1 176.0L88.5 176.5L88.9 174.6L89.3 177.3L89.7 173.7L90.1 173.7L90.5 174.9L90.9 172.6L91.3 176.0L91.7 174.4L92.1 177.5L92.6 176.8L93.0 174.9L93.4 176.4L93.8 176.1L94.2 174.7L94.6 172.7L95.0 172.4L95.4 173.8L95.8 175.6L96.2 178.3L96.6 173.7L97.0 171.8L97.4 178.3L97.8 175.2L98.2 175.7L98.7 174.6L99.1 174.9L99.5 175.9L99.9 175.9L100.3 176.0L100.7 173.9L101.1 175.6L101.5 176.8L101.9 175.0L102.3 174.4L102.7 174.6L103.1 174.9L103.5 172.8L103.9 172.8L104.3 174.3L104.8 175.6L105.2 174.4L105.6 178.5L106.0 177.5L106.4 177.4L106.8 175.7L107.2 176.0L107.6 170.8L108.0 171.9L108.4 172.6L108.8 169.1L109.2 171.4L109.6 172.2L110.0 169.1L110.4 168.6L110.9 168.7L111.3 168.9L111.7 172.4L112.1 174.6L112.5 175.7L112.9 174.8L113.3 173.1L113.7 176.2L114.1 176.5L114.5 178.1L114.9 172.7L115.3 173.0L115.7 174.1L116.1 177.1L116.5 177.8L117.0 177.4L117.4 176.0L117.8 177.8L118.2 176.6L118.6 173.5L119.0 174.6L119.4 174.8L119.8 178.7L120.2 176.8L120.6 175.9L121.0 176.5L121.4 177.8L121.8 175.8L122.2 176.7L122.6 175.9L123.1 177.3L123.5 174.8L123.9 171.7L124.3 173.3L124.7 171.3L125.1 173.8L125.5 171.1L125.9 170.7L126.3 172.7L126.7 171.5L127.1 174.5L127.5 174.1L127.9 171.1L128.3 173.2L128.7 176.0L129.2 172.9L129.6 173.0L130.0 174.5L130.4 177.8L130.8 179.1L131.2 178.8L131.6 173.4L132.0 173.6L132.4 175.7L132.8 172.8L133.2 171.2L133.6 174.7L134.0 173.5L134.4 176.8L134.8 174.3L135.3 170.8L135.7 175.2L136.1 174.0L136.5 174.6L136.9 173.6L137.3 172.6L137.7 171.4L138.1 169.2L138.5 168.1L138.9 165.7L139.3 164.3L139.7 164.0L140.1 168.2L140.5 168.7L140.9 170.9L141.4 172.8L141.8 168.7L142.2 170.3L142.6 171.2L143.0 175.3L143.4 173.1L143.8 170.3L144.2 170.5L144.6 170.5L145.0 165.7L145.4 165.6L145.8 163.2L146.2 159.6L146.6 157.8L147.0 157.0L147.5 160.5L147.9 164.8L148.3 167.9L148.7 169.5L149.1 167.1L149.5 170.1L149.9 169.6L150.3 173.5L150.7 171.5L151.1 170.1L151.5 168.5L151.9 169.6L152.3 169.3L152.7 169.4L153.2 167.8L153.6 165.0L154.0 166.7L154.4 168.3L154.8 165.0L155.2 163.3L155.6 158.7L156.0 153.2L156.4 148.5L156.8 145.9L157.2 145.8L157.6 153.1L158.0 156.7L158.4 162.6L158.8 163.8L159.3 165.8L159.7 167.9L160.1 170.9L160.5 170.1L160.9 171.4L161.3 171.1L161.7 169.6L162.1 168.8L162.5 172.6L162.9 170.0L163.3 168.4L163.7 168.3L164.1 169.8L164.5 171.0L164.9 168.1L165.4 170.7L165.8 173.9L166.2 172.0L166.6 171.0L167.0 172.9L167.4 173.9L167.8 168.4L168.2 169.8L168.6 168.9L169.0 171.0L169.4 173.1L169.8 171.3L170.2 167.8L170.6 169.8L171.0 172.1L171.5 169.5L171.9 168.0L172.3 166.0L172.7 165.9L173.1 163.1L173.5 161.3L173.9 157.9L174.3 159.0L174.7 159.4L175.1 162.1L175.5 167.4L175.9 169.0L176.3 165.0L176.7 162.6L177.1 161.1L177.6 161.1L178.0 162.6L178.4 158.2L178.8 151.4L179.2 142.2L179.6 135.7L180.0 128.9L180.3 127.6L180.8 130.8L181.2 138.9L181.6 151.0L182.0 152.7L182.4 158.9L182.8 163.3L183.2 165.7L183.7 165.6L184.1 160.3L184.5 158.0L184.9 163.9L185.3 164.6L185.7 162.8L186.1 160.8L186.5 160.4L186.9 160.5L187.3 155.6L187.7 150.3L188.1 144.3L188.5 129.7L188.9 115.6L189.3 101.2L189.6 91.1L190.2 102.4L190.6 118.2L191.0 134.3L191.4 145.7L191.8 152.4L192.2 159.1L192.6 159.2L193.0 161.3L193.4 163.9L193.8 168.1L194.2 167.0L194.6 163.9L195.0 163.4L195.4 164.5L195.9 167.2L196.3 167.4L196.7 166.7L197.1 167.1L197.5 165.6L197.9 167.9L198.3 171.4L198.7 172.1L199.1 169.0L199.5 167.5L199.9 162.0L200.3 158.7L200.7 160.1L201.1 161.0L201.5 163.4L202.0 164.8L202.4 166.8L202.8 167.5L203.2 164.8L203.6 166.2L204.0 165.8L204.4 162.5L204.8 160.5L205.2 160.7L205.6 158.7L206.0 160.9L206.4 161.4L206.8 162.8L207.2 164.8L207.6 165.9L208.1 166.3L208.5 171.7L208.9 170.8L209.3 168.9L209.7 169.3L210.1 170.1L210.5 169.0L210.9 165.2L211.3 166.8L211.7 167.8L212.1 167.4L212.5 167.9L212.9 164.3L213.3 164.6L213.7 160.0L214.2 156.4L214.6 153.0L215.0 147.1L215.4 141.3L215.8 134.0L216.2 117.9L216.6 100.8L217.0 96.6L217.4 103.7L217.8 114.6L218.2 128.9L218.6 138.2L219.0 146.3L219.4 152.7L219.8 155.9L220.3 157.1L220.7 159.5L221.1 160.5L221.5 159.1L221.9 159.0L222.3 154.7L222.7 160.7L223.1 165.5L223.5 167.7L223.9 164.7L224.3 166.4L224.7 166.0L225.1 166.3L225.5 165.1L225.9 167.1L226.4 163.9L226.8 162.4L227.2 156.3L227.6 150.9L228.0 146.1L228.4 136.1L229.0 123.8L229.2 123.9L229.6 133.5L230.0 145.0L230.4 150.0L230.8 159.6L231.2 160.0L231.6 160.3L232.0 158.7L232.5 152.0L232.9 146.0L233.3 142.0L233.7 145.0L234.1 150.3L234.5 155.6L234.9 162.0L235.3 162.8L235.7 167.3L236.1 164.5L236.5 169.4L236.9 169.5L237.3 171.1L237.7 169.6L238.1 166.7L238.6 169.1L239.0 165.1L239.4 163.8L239.8 164.3L240.2 165.0L240.6 160.7L241.0 163.1L241.4 155.8L241.8 143.2L242.2 131.2L242.6 113.9L242.9 114.4L243.4 128.0L243.8 140.7L244.3 149.5L244.7 153.9L245.1 163.8L245.5 165.4L245.9 165.0L246.3 169.2L246.7 170.8L247.1 173.3L247.5 170.9L247.9 170.3L248.3 170.8L248.7 171.9L249.1 171.1L249.5 173.1L249.9 172.4L250.4 172.9L250.8 172.9L251.2 173.7L251.6 174.5L252.0 174.4L252.4 176.5L252.8 177.6L253.2 175.1L253.6 175.6L254.0 177.0L254.4 177.2L254.8 176.9L255.2 176.7L255.6 177.5L256.0 176.2L256.5 178.3L256.9 175.0L257.3 177.4L257.7 175.8L258.1 176.2L258.5 178.5L258.9 178.9L259.3 177.9L259.7 177.4L260.1 177.9L260.5 177.7L260.9 177.6L261.3 178.7L261.7 178.0L262.1 175.8L262.6 177.7L263.0 178.7L263.4 177.6L263.8 176.6L264.2 176.5L264.6 178.0L265.0 178.1L265.4 177.9L265.4 184.1"/></defs>
<use href="#s14" fill="#0c820c" stroke="#0c820c" stroke-width="1.1"/>
<use href="#s14" y="2.26" fill="#000"/>
<use href="#s14" y="1.51" fill="#000" clip-path="url(#tailclip)"/>
<rect x="264.7" y="180.0" width="5.6" height="4.2" fill="#000"/>
<defs><path id="s15" d="M40.1 188.0L40.1 177.7L40.5 179.9L40.9 179.4L41.3 182.2L41.7 183.2L42.1 185.0L42.5 182.7L42.9 183.2L43.3 182.0L43.7 183.5L44.1 185.8L44.5 180.6L44.9 180.1L45.4 178.6L45.8 177.6L46.2 182.8L46.6 179.9L47.0 182.5L47.4 185.1L47.8 183.9L48.2 182.1L48.6 176.1L49.0 175.1L49.4 155.8L49.7 119.9L50.0 91.1L50.2 114.0L50.3 116.7L50.6 163.8L51.0 179.2L51.5 183.5L51.9 183.6L52.3 183.3L52.7 182.5L53.1 181.9L53.5 178.3L53.9 178.3L54.3 180.6L54.7 180.2L55.1 181.6L55.5 181.2L55.9 180.7L56.3 176.3L56.7 180.5L57.1 181.3L57.6 178.1L58.0 178.7L58.4 178.7L58.8 176.9L59.2 179.8L59.6 176.9L60.0 177.6L60.4 180.2L60.8 180.5L61.2 181.7L61.6 178.1L62.0 179.5L62.4 179.9L62.8 182.0L63.2 178.2L63.7 179.9L64.1 181.7L64.5 178.2L64.9 179.2L65.3 181.0L65.7 179.1L66.1 181.1L66.5 181.1L66.9 179.0L67.3 182.2L67.7 181.5L68.1 181.0L68.5 180.0L68.9 182.3L69.3 183.2L69.8 181.9L70.2 182.6L70.6 180.8L71.0 180.5L71.4 179.9L71.8 179.6L72.2 181.7L72.6 181.0L73.0 179.5L73.4 176.9L73.8 177.5L74.2 177.9L74.6 173.9L75.0 176.7L75.4 173.7L75.9 173.0L76.3 174.9L76.7 171.6L77.1 166.0L77.5 163.2L77.9 150.8L78.3 142.0L78.8 132.1L79.1 136.0L79.5 145.5L79.9 157.5L80.3 160.9L80.7 168.5L81.1 167.7L81.5 171.7L82.0 174.4L82.4 172.0L82.8 172.3L83.2 173.3L83.6 176.1L84.0 176.2L84.4 176.8L84.8 178.9L85.2 180.8L85.6 181.3L86.0 181.9L86.4 178.3L86.8 177.6L87.2 180.0L87.6 182.0L88.1 181.0L88.5 179.6L88.9 181.2L89.3 181.0L89.7 178.7L90.1 180.4L90.5 181.2L90.9 178.5L91.3 180.0L91.7 180.5L92.1 182.4L92.5 179.4L92.9 179.8L93.3 181.0L93.7 181.1L94.2 178.3L94.6 180.1L95.0 180.8L95.4 180.6L95.8 180.5L96.2 178.9L96.6 180.7L97.0 181.5L97.4 182.4L97.8 181.1L98.2 183.4L98.6 182.7L99.0 184.4L99.4 182.2L99.8 181.7L100.3 181.5L100.7 182.0L101.1 182.8L101.5 181.1L101.9 185.0L102.3 184.2L102.7 178.8L103.1 179.5L103.5 177.4L103.9 175.8L104.3 178.5L104.7 181.4L105.1 179.7L105.5 181.5L105.9 180.1L106.4 179.0L106.8 175.9L107.2 177.6L107.6 177.9L108.0 178.0L108.4 173.5L108.8 177.0L109.2 176.7L109.6 180.0L110.0 180.5L110.4 175.0L110.8 179.9L111.2 179.0L111.6 178.7L112.1 178.6L112.5 177.8L112.9 179.9L113.3 177.3L113.7 178.6L114.1 180.1L114.5 179.2L114.9 179.7L115.3 180.3L115.7 179.2L116.1 181.4L116.5 179.8L116.9 180.6L117.3 185.0L117.7 179.7L118.2 180.1L118.6 180.5L119.0 180.7L119.4 182.9L119.8 183.0L120.2 179.7L120.6 179.8L121.0 176.9L121.4 174.2L121.8 177.4L122.2 180.1L122.6 175.7L123.0 175.6L123.4 173.9L123.8 176.3L124.3 177.3L124.7 179.9L125.1 176.3L125.5 178.1L125.9 176.3L126.3 178.3L126.7 180.1L127.1 178.4L127.5 177.2L127.9 183.2L128.3 181.6L128.7 179.2L129.1 177.4L129.5 178.7L129.9 180.7L130.4 179.2L130.8 180.1L131.2 184.8L131.6 184.7L132.0 180.4L132.4 181.1L132.8 178.6L133.2 177.2L133.6 182.8L134.0 179.9L134.4 181.8L134.8 177.3L135.2 181.1L135.6 176.1L136.0 176.6L136.5 175.7L136.9 174.6L137.3 176.3L137.7 176.2L138.1 170.6L138.5 174.8L138.9 178.0L139.3 173.6L139.7 174.4L140.1 176.2L140.5 176.3L140.9 179.5L141.3 178.7L141.7 178.9L142.1 173.6L142.6 171.9L143.0 171.9L143.4 172.4L143.8 171.8L144.2 169.3L144.6 170.7L145.0 171.2L145.4 175.8L145.8 175.0L146.2 175.6L146.6 177.7L147.0 176.7L147.4 178.5L147.8 178.3L148.2 179.0L148.7 174.1L149.1 178.5L149.5 177.0L149.9 178.5L150.3 178.3L150.7 175.2L151.1 175.8L151.5 175.5L151.9 178.6L152.3 175.9L152.7 169.0L153.1 166.9L153.5 171.1L153.9 166.9L154.3 161.8L154.8 163.9L155.2 164.6L155.6 169.4L156.0 168.1L156.4 168.9L156.8 170.2L157.2 175.3L157.6 174.9L158.0 173.4L158.4 176.9L158.8 176.7L159.2 178.6L159.6 177.1L160.0 174.2L160.4 176.1L160.9 172.5L161.3 175.9L161.7 175.1L162.1 173.3L162.5 177.4L162.9 175.3L163.3 179.0L163.7 178.6L164.1 178.2L164.5 174.5L164.9 178.0L165.3 174.6L165.7 178.3L166.1 176.8L166.5 174.7L167.0 175.4L167.4 171.5L167.8 173.8L168.2 177.1L168.6 175.7L169.0 172.5L169.4 176.0L169.8 177.2L170.2 168.8L170.6 170.6L171.0 166.0L171.4 165.3L171.8 168.3L172.2 170.4L172.6 169.6L173.1 171.7L173.5 170.0L173.9 170.6L174.3 171.5L174.7 167.5L175.1 168.9L175.5 170.4L175.9 167.8L176.3 164.3L176.7 155.6L177.1 149.9L177.5 147.1L177.8 146.6L178.3 149.9L178.7 155.7L179.2 157.2L179.6 164.6L180.0 168.7L180.4 170.1L180.8 171.3L181.2 169.4L181.6 170.6L182.0 172.1L182.4 172.0L182.8 172.8L183.2 171.5L183.6 170.2L184.0 165.6L184.4 167.7L184.8 162.2L185.3 159.8L185.7 156.4L186.1 143.5L186.5 133.4L186.9 125.9L187.2 122.3L187.7 130.9L188.1 144.1L188.5 152.1L188.9 158.7L189.3 160.6L189.7 165.8L190.1 171.6L190.5 168.8L190.9 168.7L191.4 172.6L191.8 170.2L192.2 172.0L192.6 175.1L193.0 173.0L193.4 173.1L193.8 174.6L194.2 173.4L194.6 175.1L195.0 174.3L195.4 173.4L195.8 172.2L196.2 171.6L196.6 176.0L197.0 173.1L197.5 169.7L197.9 167.3L198.3 170.2L198.7 168.5L199.1 172.4L199.5 170.4L199.9 171.9L200.3 172.4L200.7 175.6L201.1 175.3L201.5 173.1L201.9 171.6L202.3 171.0L202.7 170.1L203.2 166.0L203.6 168.8L204.0 168.7L204.4 169.1L204.8 170.8L205.2 172.3L205.6 175.6L206.0 171.6L206.4 170.7L206.8 174.7L207.2 176.0L207.6 176.7L208.0 177.7L208.4 175.4L208.8 176.1L209.3 174.2L209.7 172.4L210.1 173.5L210.5 174.3L210.9 170.0L211.3 167.4L211.7 167.2L212.1 166.5L212.5 160.9L212.9 155.3L213.3 146.2L213.7 136.8L214.1 127.8L214.6 123.4L214.9 126.7L215.4 139.9L215.8 149.8L216.2 154.3L216.6 158.7L217.0 162.4L217.4 163.3L217.8 167.3L218.2 169.5L218.6 168.7L219.0 166.4L219.4 168.3L219.8 164.2L220.2 165.3L220.6 171.5L221.0 173.6L221.5 171.9L221.9 172.1L222.3 170.9L222.7 171.5L223.1 172.5L223.5 173.2L223.9 171.1L224.3 169.2L224.7 169.1L225.1 165.9L225.5 160.4L225.9 154.5L226.5 150.0L226.7 148.7L227.1 157.4L227.6 161.5L228.0 166.3L228.4 167.3L228.8 165.3L229.2 162.3L229.6 162.5L230.0 161.7L230.4 159.9L230.8 156.1L231.2 156.4L231.6 164.4L232.0 168.0L232.4 169.1L232.8 170.5L233.2 172.9L233.7 175.2L234.1 173.8L234.5 175.7L234.9 170.8L235.3 173.1L235.7 174.2L236.1 171.2L236.5 173.4L236.9 172.7L237.3 169.0L237.7 170.0L238.1 164.7L238.5 161.0L238.9 155.1L239.3 142.0L239.8 125.5L240.2 108.7L240.4 102.9L241.0 119.2L241.4 133.6L241.8 145.0L242.2 159.2L242.6 165.0L243.0 168.1L243.4 172.9L243.8 172.5L244.2 173.9L244.6 175.2L245.0 174.7L245.4 176.7L245.9 177.8L246.3 176.6L246.7 177.2L247.1 176.7L247.5 175.8L247.9 178.7L248.3 178.6L248.7 177.9L249.1 178.9L249.5 179.4L249.9 179.4L250.3 179.4L250.7 179.8L251.1 180.7L251.5 180.4L252.0 181.2L252.4 180.9L252.8 181.2L253.2 183.1L253.6 182.1L254.0 181.3L254.4 181.0L254.8 181.5L255.2 182.5L255.6 183.2L256.0 184.2L256.4 182.4L256.8 181.2L257.2 180.5L257.6 179.8L258.1 182.3L258.5 181.6L258.9 182.7L259.3 184.1L259.7 183.0L260.1 183.0L260.5 182.0L260.9 181.5L261.3 181.9L261.7 180.8L262.1 180.1L262.5 181.9L262.9 181.4L262.9 188.0"/></defs>
<use href="#s15" fill="#0c820c" stroke="#0c820c" stroke-width="1.1"/>
<use href="#s15" y="2.23" fill="#000"/>
<use href="#s15" y="1.48" fill="#000" clip-path="url(#tailclip)"/>
<rect x="262.2" y="183.9" width="5.6" height="4.2" fill="#000"/>
<defs><path id="s16" d="M37.6 192.0L37.6 181.3L38.0 180.9L38.4 188.2L38.8 182.4L39.2 183.7L39.6 185.9L40.0 183.9L40.4 182.2L40.9 186.2L41.3 187.1L41.7 183.8L42.1 184.9L42.5 181.5L42.9 182.6L43.3 184.4L43.7 186.4L44.1 183.5L44.5 186.7L44.9 186.9L45.3 186.8L45.7 180.8L46.1 177.9L46.5 177.9L47.0 161.0L47.2 127.5L47.5 99.8L47.8 123.2L47.8 124.7L48.2 166.6L48.6 177.5L49.0 185.5L49.4 184.0L49.8 184.8L50.2 180.2L50.6 182.7L51.0 185.6L51.4 180.6L51.8 183.7L52.2 183.5L52.6 185.7L53.1 182.8L53.5 182.5L53.9 183.1L54.3 183.2L54.7 183.0L55.1 182.4L55.5 182.5L55.9 177.3L56.3 176.8L56.7 182.0L57.1 184.1L57.5 182.3L57.9 178.5L58.3 181.9L58.7 183.4L59.2 183.9L59.6 183.1L60.0 183.7L60.4 181.6L60.8 181.1L61.2 181.7L61.6 180.0L62.0 182.8L62.4 184.4L62.8 178.3L63.2 185.4L63.6 187.1L64.0 189.2L64.4 184.9L64.8 186.0L65.3 182.4L65.7 187.0L66.1 184.9L66.5 184.6L66.9 185.8L67.3 182.1L67.7 183.5L68.1 182.4L68.5 183.8L68.9 182.9L69.3 183.6L69.7 182.8L70.1 182.7L70.5 183.6L70.9 181.6L71.4 181.9L71.8 183.1L72.2 183.3L72.6 180.1L73.0 176.6L73.4 179.4L73.8 177.4L74.2 173.1L74.6 167.6L75.0 161.7L75.4 156.3L75.8 143.8L76.4 132.5L76.6 136.2L77.1 147.9L77.5 160.5L77.9 166.0L78.3 170.3L78.7 172.8L79.1 171.4L79.5 171.6L79.9 175.0L80.3 174.0L80.7 174.8L81.1 175.1L81.5 173.5L81.9 175.2L82.3 178.2L82.7 181.0L83.2 181.5L83.6 180.9L84.0 182.6L84.4 180.3L84.8 181.7L85.2 184.5L85.6 179.6L86.0 187.1L86.4 185.0L86.8 184.0L87.2 181.6L87.6 180.6L88.0 179.6L88.4 179.1L88.8 181.3L89.3 182.4L89.7 181.2L90.1 182.7L90.5 185.5L90.9 185.0L91.3 182.8L91.7 182.1L92.1 185.1L92.5 181.8L92.9 182.4L93.3 185.9L93.7 183.5L94.1 181.6L94.5 181.9L94.9 183.5L95.4 185.0L95.8 182.0L96.2 182.5L96.6 183.2L97.0 184.1L97.4 185.6L97.8 187.7L98.2 185.6L98.6 182.1L99.0 181.5L99.4 184.0L99.8 180.7L100.2 182.8L100.6 184.9L101.0 181.9L101.5 180.0L101.9 182.6L102.3 185.0L102.7 183.5L103.1 187.2L103.5 183.6L103.9 179.3L104.3 179.6L104.7 181.0L105.1 178.3L105.5 179.5L105.9 177.0L106.3 179.8L106.7 176.8L107.1 180.6L107.6 181.2L108.0 183.7L108.4 185.3L108.8 182.9L109.2 182.2L109.6 184.4L110.0 182.3L110.4 183.5L110.8 184.1L111.2 183.5L111.6 182.4L112.0 181.4L112.4 180.1L112.8 181.2L113.2 183.6L113.7 184.4L114.1 182.6L114.5 184.9L114.9 183.8L115.3 183.7L115.7 183.1L116.1 182.3L116.5 180.3L116.9 178.4L117.3 179.0L117.7 178.7L118.1 182.3L118.5 179.2L118.9 177.2L119.3 181.0L119.8 174.7L120.2 178.0L120.6 182.9L121.0 177.3L121.4 179.0L121.8 181.6L122.2 182.4L122.6 179.8L123.0 180.5L123.4 182.0L123.8 179.8L124.2 183.0L124.6 183.9L125.0 183.8L125.4 184.0L125.9 181.5L126.3 182.3L126.7 184.1L127.1 183.6L127.5 186.2L127.9 183.1L128.3 182.1L128.7 180.8L129.1 181.9L129.5 181.0L129.9 183.1L130.3 182.0L130.7 181.3L131.1 183.4L131.5 180.7L132.0 180.3L132.4 180.0L132.8 180.5L133.2 175.4L133.6 176.5L134.0 177.4L134.4 177.3L134.8 174.9L135.2 176.5L135.6 178.9L136.0 180.2L136.4 177.8L136.8 178.6L137.2 177.1L137.6 178.5L138.1 181.0L138.5 177.8L138.9 177.3L139.3 178.3L139.7 177.1L140.1 176.6L140.5 171.1L140.9 168.7L141.3 163.4L141.7 161.1L142.1 163.7L142.5 166.9L142.9 171.5L143.3 176.2L143.7 177.2L144.2 179.5L144.6 177.1L145.0 176.7L145.4 178.9L145.8 177.5L146.2 177.8L146.6 176.4L147.0 179.4L147.4 178.5L147.8 179.8L148.2 179.4L148.6 175.0L149.0 179.0L149.4 177.5L149.8 173.1L150.3 169.1L150.7 167.9L151.1 166.1L151.5 160.8L151.9 153.0L152.3 151.1L152.7 155.5L153.1 164.0L153.5 165.7L153.9 170.7L154.3 172.1L154.7 174.8L155.1 173.0L155.5 176.7L155.9 181.3L156.4 179.7L156.8 178.4L157.2 177.9L157.6 179.7L158.0 179.4L158.4 181.1L158.8 180.0L159.2 179.1L159.6 178.5L160.0 175.7L160.4 181.4L160.8 178.8L161.2 178.0L161.6 180.6L162.0 179.2L162.5 178.8L162.9 180.4L163.3 177.7L163.7 174.5L164.1 175.5L164.5 175.5L164.9 174.8L165.3 176.6L165.7 174.8L166.1 177.2L166.5 175.6L166.9 173.4L167.3 170.6L167.7 171.4L168.2 170.2L168.6 167.3L169.0 167.1L169.4 167.5L169.8 167.7L170.2 171.6L170.6 170.4L171.0 171.1L171.4 172.4L171.8 174.3L172.2 173.2L172.6 170.7L173.0 166.4L173.4 168.0L173.8 160.2L174.3 153.6L174.7 147.9L175.1 137.7L175.4 135.6L175.9 141.3L176.3 152.0L176.7 160.2L177.1 162.0L177.5 163.4L177.9 166.9L178.3 169.9L178.7 171.8L179.1 175.0L179.5 171.2L179.9 171.8L180.4 169.2L180.8 171.4L181.2 168.1L181.6 169.1L182.0 165.3L182.4 160.1L182.8 158.4L183.2 149.3L183.6 139.6L184.0 127.3L184.4 111.8L184.7 106.3L185.2 119.4L185.6 134.6L186.0 147.9L186.5 157.3L186.9 162.5L187.3 164.3L187.7 168.8L188.1 168.2L188.5 171.7L188.9 174.1L189.3 172.1L189.7 171.1L190.1 174.8L190.5 174.0L190.9 177.1L191.3 176.8L191.7 176.7L192.1 174.6L192.6 177.4L193.0 176.8L193.4 176.5L193.8 174.4L194.2 175.2L194.6 174.5L195.0 165.2L195.4 166.0L195.8 170.2L196.2 168.8L196.6 173.6L197.0 177.1L197.4 172.2L197.8 171.5L198.2 175.1L198.7 176.6L199.1 173.8L199.5 169.2L199.9 169.2L200.3 167.8L200.7 169.9L201.1 172.3L201.5 170.7L201.9 170.3L202.3 172.6L202.7 174.2L203.1 172.5L203.5 176.2L203.9 174.1L204.3 173.9L204.8 176.5L205.2 176.0L205.6 175.7L206.0 174.6L206.4 176.8L206.8 176.0L207.2 174.7L207.6 173.8L208.0 172.9L208.4 171.3L208.8 170.3L209.2 168.9L209.6 163.3L210.0 161.1L210.4 154.8L210.9 146.7L211.3 135.3L211.7 119.8L212.1 113.5L212.5 119.2L212.9 130.8L213.3 143.9L213.7 151.9L214.1 155.8L214.5 161.9L214.9 166.4L215.3 165.2L215.7 166.7L216.1 171.3L216.5 166.5L217.0 166.1L217.4 165.3L217.8 170.5L218.2 173.3L218.6 174.8L219.0 173.6L219.4 176.5L219.8 176.8L220.2 173.8L220.6 175.4L221.0 174.1L221.4 174.8L221.8 175.3L222.2 170.7L222.6 166.3L223.1 162.8L223.5 151.6L224.0 143.6L224.3 144.7L224.7 153.9L225.1 162.8L225.5 166.3L225.9 168.2L226.3 169.7L226.7 170.5L227.1 170.1L227.5 167.0L227.9 161.6L228.3 159.0L228.7 156.9L229.2 163.9L229.6 167.8L230.0 172.4L230.4 174.4L230.8 177.1L231.2 177.6L231.6 179.8L232.0 181.8L232.4 176.3L232.8 178.6L233.2 176.6L233.6 176.6L234.0 177.0L234.4 174.2L234.8 174.6L235.3 171.7L235.7 170.2L236.1 164.2L236.5 157.6L236.9 149.8L237.3 135.4L237.7 122.6L238.0 117.1L238.5 130.9L238.9 148.5L239.3 157.5L239.7 164.1L240.1 169.7L240.5 172.9L240.9 175.2L241.4 178.7L241.8 175.1L242.2 178.9L242.6 181.1L243.0 183.2L243.4 182.8L243.8 181.5L244.2 178.5L244.6 179.3L245.0 182.1L245.4 183.1L245.8 183.5L246.2 182.9L246.6 182.0L247.0 183.0L247.5 181.6L247.9 181.0L248.3 182.5L248.7 185.3L249.1 183.4L249.5 183.9L249.9 183.5L250.3 183.1L250.7 184.9L251.1 184.6L251.5 184.5L251.9 185.3L252.3 184.4L252.7 184.8L253.1 185.3L253.6 183.4L254.0 184.3L254.4 183.4L254.8 184.7L255.2 184.1L255.6 185.5L256.0 185.2L256.4 184.3L256.8 187.0L257.2 185.5L257.6 185.7L258.0 184.6L258.4 185.0L258.8 185.4L259.3 186.7L259.7 183.3L260.1 185.5L260.5 185.9L260.5 192.0"/></defs>
<use href="#s16" fill="#0c820c" stroke="#0c820c" stroke-width="1.1"/>
<use href="#s16" y="2.89" fill="#000"/>
<use href="#s16" y="2.14" fill="#000" clip-path="url(#tailclip)"/>
<rect x="259.8" y="187.9" width="5.6" height="4.2" fill="#000"/>
<defs><path id="s17" d="M35.1 195.9L35.1 187.6L35.5 188.1L36.0 187.9L36.4 187.8L36.8 190.3L37.2 191.8L37.6 189.0L38.0 187.6L38.4 187.5L38.8 188.0L39.2 188.6L39.6 186.7L40.0 189.1L40.4 184.8L40.8 187.5L41.2 189.1L41.6 187.2L42.1 190.3L42.5 187.0L42.9 189.8L43.3 186.7L43.7 182.3L44.1 180.7L44.5 161.3L44.8 119.3L45.1 87.8L45.3 111.4L45.3 122.2L45.7 166.7L46.1 180.4L46.5 184.8L46.9 187.0L47.3 187.4L47.7 191.3L48.2 190.5L48.6 188.4L49.0 184.6L49.4 186.6L49.8 184.2L50.2 186.7L50.6 184.6L51.0 186.1L51.4 186.9L51.8 185.2L52.2 187.1L52.6 185.0L53.0 181.8L53.4 184.8L53.8 184.7L54.3 184.5L54.7 184.8L55.1 185.7L55.5 183.9L55.9 188.6L56.3 186.0L56.7 187.2L57.1 189.2L57.5 189.0L57.9 188.7L58.3 190.1L58.7 190.2L59.1 188.3L59.5 185.2L59.9 183.6L60.4 182.5L60.8 189.8L61.2 189.6L61.6 189.0L62.0 189.2L62.4 188.4L62.8 190.4L63.2 190.5L63.6 186.5L64.0 186.9L64.4 189.9L64.8 187.2L65.2 182.4L65.6 183.7L66.0 186.8L66.5 181.5L66.9 187.4L67.3 187.3L67.7 185.5L68.1 185.6L68.5 183.3L68.9 183.5L69.3 183.0L69.7 183.4L70.1 183.2L70.5 183.4L70.9 182.0L71.3 179.0L71.7 176.4L72.1 171.6L72.6 162.6L73.0 147.2L73.4 134.3L73.9 124.5L74.2 127.0L74.6 139.9L75.0 155.4L75.4 165.8L75.8 171.4L76.2 177.9L76.6 175.8L77.0 175.9L77.4 180.4L77.8 177.7L78.2 178.8L78.7 178.4L79.1 180.0L79.5 183.2L79.9 185.5L80.3 186.9L80.7 183.7L81.1 184.5L81.5 183.0L81.9 186.0L82.3 185.8L82.7 186.2L83.1 187.7L83.5 186.2L83.9 189.7L84.3 189.9L84.8 187.4L85.2 187.0L85.6 186.2L86.0 187.6L86.4 189.1L86.8 189.7L87.2 188.9L87.6 188.1L88.0 186.6L88.4 187.1L88.8 189.4L89.2 186.0L89.6 184.0L90.0 185.6L90.4 185.8L90.9 185.7L91.3 185.0L91.7 186.6L92.1 187.7L92.5 185.1L92.9 188.0L93.3 186.8L93.7 189.0L94.1 188.9L94.5 187.7L94.9 187.9L95.3 183.9L95.7 187.1L96.1 183.5L96.5 184.0L97.0 189.8L97.4 187.0L97.8 185.7L98.2 185.9L98.6 188.1L99.0 187.4L99.4 186.8L99.8 189.1L100.2 187.9L100.6 186.5L101.0 184.7L101.4 185.8L101.8 185.8L102.2 183.5L102.6 186.7L103.1 184.9L103.5 183.3L103.9 185.3L104.3 185.8L104.7 183.4L105.1 183.4L105.5 186.7L105.9 187.2L106.3 186.8L106.7 183.9L107.1 184.4L107.5 186.9L107.9 188.1L108.3 188.1L108.7 189.8L109.2 187.5L109.6 188.1L110.0 185.0L110.4 186.8L110.8 187.1L111.2 185.6L111.6 185.1L112.0 184.9L112.4 184.3L112.8 188.0L113.2 188.6L113.6 185.3L114.0 187.7L114.4 186.6L114.8 187.1L115.3 183.1L115.7 187.5L116.1 188.5L116.5 187.4L116.9 186.5L117.3 184.4L117.7 181.8L118.1 180.5L118.5 183.1L118.9 187.0L119.3 183.8L119.7 186.1L120.1 184.1L120.5 185.8L120.9 183.9L121.4 185.1L121.8 188.9L122.2 187.9L122.6 186.8L123.0 186.0L123.4 186.4L123.8 187.5L124.2 185.2L124.6 187.8L125.0 185.3L125.4 184.1L125.8 185.2L126.2 187.1L126.6 185.8L127.1 186.0L127.5 184.4L127.9 183.2L128.3 185.8L128.7 187.8L129.1 184.9L129.5 185.4L129.9 182.5L130.3 182.6L130.7 183.8L131.1 180.7L131.5 183.3L131.9 178.3L132.3 179.8L132.7 177.8L133.2 182.1L133.6 183.4L134.0 182.2L134.4 183.9L134.8 184.1L135.2 182.6L135.6 183.9L136.0 186.0L136.4 184.2L136.8 181.7L137.2 182.1L137.6 180.5L138.0 179.7L138.4 175.0L138.8 169.3L139.3 167.0L139.7 167.1L140.1 175.3L140.5 175.8L140.9 177.7L141.3 183.0L141.7 180.7L142.1 183.4L142.5 178.6L142.9 178.0L143.3 179.0L143.7 179.2L144.1 180.7L144.5 179.0L144.9 181.8L145.4 180.5L145.8 182.1L146.2 177.4L146.6 180.1L147.0 179.6L147.4 174.4L147.8 172.8L148.2 171.3L148.6 169.0L149.0 159.7L149.4 160.1L149.8 160.6L150.2 165.4L150.6 168.2L151.0 171.8L151.5 174.1L151.9 176.2L152.3 179.8L152.7 177.9L153.1 182.3L153.5 183.5L153.9 183.4L154.3 181.9L154.7 182.4L155.1 180.5L155.5 186.2L155.9 182.7L156.3 183.3L156.7 181.3L157.1 183.3L157.6 185.9L158.0 181.1L158.4 181.2L158.8 184.9L159.2 183.9L159.6 182.4L160.0 182.1L160.4 181.2L160.8 181.2L161.2 179.8L161.6 181.9L162.0 180.8L162.4 180.1L162.8 182.1L163.2 181.1L163.7 180.5L164.1 180.2L164.5 179.1L164.9 178.0L165.3 176.1L165.7 176.3L166.1 172.2L166.5 172.3L166.9 172.4L167.3 170.7L167.7 178.0L168.1 175.1L168.5 180.0L168.9 175.8L169.3 176.1L169.8 177.0L170.2 174.9L170.6 171.7L171.0 169.6L171.4 163.8L171.8 155.0L172.2 153.2L172.6 143.9L172.9 139.8L173.4 145.0L173.8 156.3L174.2 159.4L174.6 163.8L175.0 167.8L175.4 174.4L175.9 176.7L176.3 177.1L176.7 174.0L177.1 170.5L177.5 175.3L177.9 176.8L178.3 175.8L178.7 175.7L179.1 175.2L179.5 171.9L179.9 169.5L180.3 164.4L180.7 152.5L181.1 142.3L181.5 125.3L182.0 108.9L182.3 104.4L182.8 116.9L183.2 133.0L183.6 148.4L184.0 156.3L184.4 168.2L184.8 167.6L185.2 173.7L185.6 175.0L186.0 177.8L186.4 176.1L186.8 176.5L187.2 179.9L187.6 181.0L188.1 180.0L188.5 179.2L188.9 178.3L189.3 177.9L189.7 178.1L190.1 177.0L190.5 177.7L190.9 178.9L191.3 178.2L191.7 176.5L192.1 176.7L192.5 174.6L192.9 173.0L193.3 171.0L193.7 175.5L194.2 174.1L194.6 174.6L195.0 177.1L195.4 174.8L195.8 177.9L196.2 176.8L196.6 171.5L197.0 172.9L197.4 172.1L197.8 170.3L198.2 169.1L198.6 170.2L199.0 173.9L199.4 174.1L199.8 177.7L200.3 181.2L200.7 178.3L201.1 179.4L201.5 178.6L201.9 178.9L202.3 178.1L202.7 179.3L203.1 182.5L203.5 183.2L203.9 179.4L204.3 178.1L204.7 176.2L205.1 178.4L205.5 177.5L205.9 175.2L206.4 172.3L206.8 170.3L207.2 168.0L207.6 163.6L208.0 159.7L208.4 147.5L208.8 131.8L209.2 118.4L209.6 114.0L210.0 117.4L210.4 131.7L210.8 147.9L211.2 157.7L211.6 162.3L212.0 168.2L212.5 171.8L212.9 170.3L213.3 173.1L213.7 175.2L214.1 174.1L214.5 173.6L214.9 171.6L215.3 174.3L215.7 177.6L216.1 175.9L216.5 177.3L216.9 183.1L217.3 179.9L217.7 177.8L218.2 179.8L218.6 178.1L219.0 175.1L219.4 175.3L219.8 170.3L220.2 167.1L220.6 158.5L221.0 151.3L221.6 140.5L221.8 140.0L222.2 148.4L222.6 159.2L223.0 166.9L223.4 169.8L223.8 170.7L224.3 173.8L224.7 170.0L225.1 168.5L225.5 160.9L225.9 158.3L226.3 160.5L226.7 163.8L227.1 169.6L227.5 171.6L227.9 177.3L228.3 180.0L228.7 179.6L229.1 178.5L229.5 178.1L229.9 179.8L230.4 182.4L230.8 180.1L231.2 179.5L231.6 180.5L232.0 182.6L232.4 182.5L232.8 175.8L233.2 174.2L233.6 170.2L234.0 163.6L234.4 151.8L234.8 142.2L235.2 131.0L235.5 127.5L236.0 136.2L236.5 151.4L236.9 162.0L237.3 167.1L237.7 174.1L238.1 177.0L238.5 178.6L238.9 184.2L239.3 184.8L239.7 184.4L240.1 187.5L240.5 183.3L240.9 186.1L241.3 183.8L241.7 184.2L242.1 186.7L242.6 187.1L243.0 186.4L243.4 186.0L243.8 185.5L244.2 187.4L244.6 187.5L245.0 186.3L245.4 186.7L245.8 187.7L246.2 188.2L246.6 188.6L247.0 186.9L247.4 188.7L247.8 187.6L248.2 188.5L248.7 189.4L249.1 189.0L249.5 190.2L249.9 187.5L250.3 185.5L250.7 188.3L251.1 187.9L251.5 189.3L251.9 190.3L252.3 191.3L252.7 191.9L253.1 189.3L253.5 189.1L253.9 190.0L254.3 190.5L254.8 188.7L255.2 188.9L255.6 188.7L256.0 189.1L256.4 189.0L256.8 186.7L257.2 190.4L257.6 189.4L258.0 190.6L258.0 195.9"/></defs>
<use href="#s17" fill="#0c820c" stroke="#0c820c" stroke-width="1.1"/>
<use href="#s17" y="2.87" fill="#000"/>
<use href="#s17" y="2.12" fill="#000" clip-path="url(#tailclip)"/>
<rect x="257.3" y="191.8" width="5.6" height="4.2" fill="#000"/>
<defs><path id="s18" d="M32.7 199.9L32.7 194.0L33.1 190.9L33.5 189.7L33.9 193.1L34.3 190.1L34.7 195.2L35.1 188.2L35.5 189.0L35.9 193.4L36.3 190.9L36.7 191.0L37.1 191.8L37.6 191.9L38.0 191.6L38.4 191.3L38.8 192.6L39.2 192.4L39.6 190.1L40.0 189.2L40.4 192.1L40.8 191.2L41.2 186.1L41.6 183.0L42.0 160.5L42.3 129.0L42.6 100.4L42.8 125.9L42.9 133.1L43.2 174.9L43.7 189.3L44.1 191.7L44.5 191.9L44.9 191.1L45.3 189.1L45.7 188.9L46.1 193.2L46.5 188.7L46.9 190.5L47.3 192.3L47.7 191.1L48.1 191.2L48.5 193.0L48.9 187.9L49.3 189.8L49.8 190.0L50.2 187.1L50.6 183.1L51.0 183.6L51.4 187.0L51.8 186.8L52.2 186.2L52.6 187.7L53.0 188.0L53.4 190.3L53.8 190.5L54.2 193.6L54.6 192.9L55.0 193.5L55.4 191.6L55.9 188.2L56.3 194.0L56.7 194.3L57.1 193.7L57.5 191.9L57.9 189.0L58.3 191.5L58.7 192.4L59.1 189.0L59.5 189.4L59.9 189.2L60.3 188.6L60.7 191.2L61.1 190.4L61.5 191.7L62.0 192.2L62.4 190.8L62.8 189.7L63.2 192.4L63.6 192.4L64.0 189.7L64.4 189.5L64.8 188.5L65.2 189.8L65.6 191.0L66.0 188.3L66.4 187.5L66.8 193.4L67.2 188.2L67.6 189.0L68.1 186.0L68.5 182.4L68.9 183.5L69.3 183.4L69.7 178.5L70.1 173.1L70.5 164.3L70.9 157.5L71.4 147.5L71.7 148.3L72.1 157.5L72.5 166.7L72.9 172.0L73.3 179.4L73.7 179.1L74.2 181.4L74.6 184.5L75.0 184.1L75.4 182.6L75.8 182.1L76.2 180.8L76.6 183.4L77.0 186.4L77.4 183.1L77.8 187.0L78.2 189.6L78.6 187.5L79.0 189.5L79.4 191.0L79.8 192.1L80.3 188.4L80.7 191.4L81.1 190.4L81.5 191.1L81.9 190.9L82.3 192.0L82.7 190.6L83.1 189.3L83.5 188.1L83.9 190.3L84.3 192.6L84.7 194.0L85.1 191.7L85.5 195.6L86.0 189.8L86.4 190.2L86.8 190.2L87.2 193.0L87.6 192.6L88.0 192.7L88.4 190.0L88.8 191.2L89.2 189.6L89.6 189.3L90.0 193.7L90.4 192.1L90.8 188.7L91.2 190.9L91.6 190.4L92.1 190.7L92.5 192.8L92.9 187.2L93.3 189.6L93.7 188.9L94.1 190.7L94.5 187.9L94.9 187.3L95.3 187.0L95.7 187.3L96.1 187.8L96.5 186.6L96.9 188.0L97.3 188.8L97.7 187.7L98.2 190.3L98.6 194.0L99.0 188.7L99.4 187.6L99.8 188.2L100.2 187.1L100.6 187.9L101.0 188.3L101.4 187.2L101.8 187.5L102.2 186.7L102.6 188.4L103.0 187.8L103.4 187.6L103.8 190.2L104.3 193.0L104.7 192.2L105.1 191.1L105.5 191.3L105.9 186.3L106.3 189.9L106.7 189.0L107.1 191.0L107.5 189.0L107.9 191.9L108.3 188.8L108.7 189.1L109.1 190.3L109.5 192.1L109.9 187.4L110.4 189.9L110.8 187.0L111.2 193.0L111.6 192.8L112.0 187.0L112.4 184.9L112.8 187.3L113.2 186.1L113.6 186.1L114.0 187.5L114.4 186.6L114.8 188.3L115.2 189.1L115.6 186.9L116.0 185.4L116.5 186.4L116.9 189.6L117.3 187.2L117.7 187.9L118.1 187.0L118.5 188.7L118.9 189.4L119.3 187.1L119.7 185.8L120.1 190.1L120.5 191.5L120.9 188.1L121.3 188.0L121.7 188.6L122.1 190.7L122.6 187.7L123.0 188.1L123.4 188.2L123.8 187.9L124.2 189.4L124.6 188.2L125.0 188.2L125.4 187.0L125.8 187.2L126.2 190.2L126.6 190.0L127.0 189.0L127.4 185.7L127.8 187.6L128.2 184.4L128.7 182.7L129.1 181.6L129.5 178.2L129.9 181.5L130.3 182.9L130.7 182.3L131.1 184.1L131.5 183.8L131.9 185.9L132.3 183.7L132.7 184.9L133.1 189.4L133.5 185.1L133.9 185.7L134.3 186.7L134.8 185.2L135.2 183.6L135.6 178.7L136.0 176.3L136.4 173.9L136.8 172.3L137.2 175.3L137.6 178.7L138.0 181.4L138.4 183.0L138.8 186.0L139.2 186.0L139.6 183.7L140.0 184.1L140.4 185.2L140.9 184.9L141.3 185.9L141.7 188.0L142.1 184.8L142.5 181.0L142.9 182.6L143.3 182.6L143.7 178.9L144.1 183.9L144.5 181.7L144.9 181.4L145.3 179.6L145.7 179.3L146.1 173.1L146.5 166.6L147.0 166.3L147.4 165.5L147.8 169.6L148.2 175.3L148.6 176.4L149.0 176.3L149.4 179.4L149.8 180.0L150.2 181.1L150.6 183.4L151.0 183.2L151.4 181.9L151.8 184.9L152.2 185.5L152.6 188.1L153.1 189.9L153.5 188.7L153.9 185.1L154.3 184.8L154.7 184.9L155.1 183.0L155.5 188.1L155.9 183.9L156.3 184.9L156.7 183.9L157.1 182.4L157.5 185.9L157.9 187.2L158.3 185.2L158.7 185.2L159.2 186.1L159.6 185.5L160.0 186.2L160.4 184.7L160.8 184.9L161.2 180.7L161.6 184.0L162.0 181.5L162.4 180.8L162.8 176.8L163.2 179.0L163.6 177.9L164.0 173.3L164.4 176.9L164.8 178.6L165.3 180.0L165.7 182.0L166.1 178.8L166.5 177.0L166.9 179.2L167.3 180.6L167.7 181.5L168.1 176.8L168.5 175.7L168.9 170.7L169.3 170.8L169.7 162.7L170.1 154.5L170.4 152.4L170.9 162.7L171.4 165.0L171.8 169.4L172.2 173.1L172.6 176.3L173.0 178.4L173.4 178.6L173.8 178.2L174.2 185.1L174.6 181.6L175.0 178.5L175.4 179.2L175.8 176.3L176.2 178.5L176.6 172.9L177.1 171.2L177.5 170.9L177.9 161.7L178.3 155.8L178.7 146.0L179.1 138.1L179.5 125.1L179.8 120.1L180.3 128.6L180.7 143.8L181.1 158.3L181.5 162.7L181.9 169.4L182.3 172.4L182.7 176.1L183.2 178.0L183.6 181.6L184.0 179.6L184.4 181.7L184.8 184.9L185.2 182.2L185.6 182.2L186.0 180.5L186.4 180.2L186.8 183.9L187.2 183.2L187.6 182.5L188.0 181.9L188.4 183.5L188.8 181.4L189.3 178.2L189.7 175.4L190.1 172.8L190.5 172.5L190.9 179.1L191.3 178.6L191.7 180.2L192.1 185.8L192.5 179.9L192.9 179.2L193.3 180.5L193.7 180.1L194.1 179.3L194.5 179.5L194.9 175.5L195.4 171.9L195.8 171.7L196.2 174.7L196.6 175.9L197.0 176.4L197.4 177.9L197.8 181.6L198.2 180.3L198.6 180.4L199.0 180.9L199.4 183.0L199.8 183.0L200.2 186.5L200.6 184.1L201.0 184.0L201.5 183.4L201.9 183.0L202.3 182.6L202.7 181.2L203.1 180.2L203.5 180.4L203.9 178.5L204.3 176.4L204.7 172.5L205.1 168.4L205.5 164.2L205.9 157.5L206.3 148.8L206.7 137.6L207.2 128.9L207.6 135.2L208.0 142.0L208.4 154.6L208.8 163.7L209.2 169.2L209.6 173.6L210.0 176.5L210.4 176.8L210.8 180.0L211.2 177.8L211.6 176.8L212.0 177.2L212.4 174.2L212.8 176.0L213.2 176.6L213.7 180.8L214.1 183.8L214.5 184.8L214.9 186.0L215.3 186.9L215.7 180.5L216.1 181.7L216.5 180.1L216.9 179.8L217.3 177.3L217.7 170.5L218.1 170.2L218.5 163.3L219.1 154.8L219.3 157.5L219.8 161.4L220.2 166.0L220.6 170.5L221.0 173.4L221.4 176.4L221.8 174.8L222.2 176.3L222.6 175.3L223.0 170.4L223.4 167.3L223.8 166.0L224.2 173.4L224.6 174.7L225.0 180.1L225.4 183.8L225.9 186.4L226.3 184.6L226.7 186.7L227.1 184.6L227.5 184.1L227.9 184.7L228.3 187.5L228.7 185.7L229.1 182.8L229.5 185.4L229.9 180.8L230.3 179.1L230.7 177.7L231.1 172.9L231.5 165.8L232.0 157.6L232.4 146.5L232.8 131.0L233.1 129.1L233.6 139.1L234.0 151.5L234.4 161.1L234.8 167.4L235.2 172.9L235.6 177.9L236.0 181.4L236.4 182.7L236.8 183.1L237.2 179.3L237.6 182.6L238.1 186.8L238.5 184.3L238.9 189.4L239.3 186.6L239.7 190.1L240.1 191.2L240.5 190.2L240.9 189.8L241.3 190.8L241.7 189.5L242.1 189.9L242.5 188.8L242.9 190.8L243.3 192.4L243.7 190.7L244.2 191.1L244.6 190.2L245.0 193.1L245.4 193.2L245.8 192.1L246.2 190.0L246.6 192.3L247.0 193.8L247.4 193.0L247.8 191.1L248.2 190.3L248.6 192.8L249.0 193.0L249.4 194.2L249.8 193.8L250.3 193.8L250.7 192.5L251.1 191.5L251.5 189.9L251.9 192.0L252.3 191.6L252.7 192.1L253.1 192.4L253.5 190.8L253.9 191.4L254.3 190.9L254.7 191.8L255.1 191.7L255.5 192.0L255.5 199.9"/></defs>
<use href="#s18" fill="#0c820c" stroke="#0c820c" stroke-width="1.1"/>
<use href="#s18" y="2.98" fill="#000"/>
<use href="#s18" y="2.23" fill="#000" clip-path="url(#tailclip)"/>
<rect x="254.8" y="195.8" width="5.6" height="4.2" fill="#000"/>
<defs><path id="s19" d="M30.2 203.8L30.2 195.9L30.6 196.9L31.0 197.6L31.4 193.6L31.8 191.8L32.2 191.8L32.6 194.9L33.1 194.6L33.5 194.0L33.9 194.8L34.3 189.8L34.7 193.7L35.1 193.0L35.5 194.6L35.9 194.7L36.3 193.9L36.7 197.4L37.1 195.6L37.5 194.2L37.9 191.2L38.3 194.6L38.7 192.9L39.2 191.1L39.6 169.3L39.8 139.2L40.1 107.8L40.4 130.3L40.4 138.6L40.8 179.3L41.2 189.2L41.6 193.9L42.0 194.2L42.4 194.5L42.8 193.6L43.2 190.9L43.6 192.0L44.0 193.4L44.4 191.8L44.8 192.4L45.3 191.5L45.7 190.8L46.1 196.0L46.5 193.6L46.9 189.2L47.3 194.1L47.7 191.9L48.1 189.5L48.5 189.5L48.9 192.2L49.3 190.8L49.7 193.0L50.1 194.5L50.5 195.2L51.0 194.8L51.4 196.0L51.8 197.6L52.2 194.1L52.6 193.9L53.0 195.2L53.4 194.2L53.8 193.3L54.2 193.8L54.6 197.0L55.0 196.1L55.4 198.4L55.8 195.6L56.2 192.7L56.6 192.1L57.1 193.6L57.5 195.3L57.9 195.5L58.3 194.4L58.7 195.6L59.1 197.3L59.5 194.3L59.9 193.7L60.3 191.2L60.7 193.5L61.1 193.4L61.5 191.5L61.9 191.2L62.3 191.4L62.7 195.1L63.2 191.9L63.6 194.5L64.0 192.4L64.4 195.5L64.8 194.6L65.2 193.2L65.6 189.9L66.0 187.4L66.4 185.6L66.8 183.2L67.2 181.0L67.6 173.3L68.0 167.8L68.4 155.3L69.0 144.7L69.3 143.1L69.7 155.9L70.1 168.9L70.5 177.2L70.9 181.9L71.3 182.9L71.7 184.6L72.1 185.9L72.5 186.1L72.9 182.8L73.3 184.7L73.7 184.1L74.1 190.1L74.5 189.9L74.9 190.6L75.4 190.3L75.8 193.1L76.2 194.5L76.6 191.2L77.0 194.2L77.4 194.0L77.8 193.2L78.2 192.8L78.6 194.4L79.0 198.0L79.4 194.1L79.8 193.8L80.2 195.4L80.6 194.8L81.0 196.6L81.5 194.9L81.9 194.6L82.3 193.5L82.7 197.0L83.1 193.6L83.5 192.6L83.9 192.0L84.3 192.6L84.7 196.0L85.1 197.4L85.5 191.9L85.9 192.3L86.3 199.9L86.7 197.0L87.1 193.3L87.6 197.4L88.0 194.3L88.4 196.1L88.8 196.6L89.2 199.0L89.6 196.3L90.0 195.6L90.4 194.0L90.8 193.6L91.2 192.8L91.6 189.5L92.0 189.7L92.4 195.7L92.8 195.8L93.2 196.9L93.7 194.4L94.1 193.5L94.5 189.8L94.9 194.0L95.3 192.8L95.7 193.3L96.1 196.8L96.5 191.8L96.9 191.9L97.3 194.5L97.7 190.3L98.1 191.4L98.5 190.4L98.9 192.8L99.3 192.2L99.8 192.7L100.2 189.8L100.6 193.6L101.0 191.4L101.4 193.1L101.8 192.6L102.2 192.7L102.6 196.5L103.0 195.4L103.4 196.8L103.8 193.8L104.2 191.8L104.6 191.5L105.0 195.8L105.4 196.7L105.9 196.2L106.3 194.2L106.7 193.3L107.1 193.3L107.5 193.7L107.9 193.6L108.3 191.6L108.7 193.6L109.1 196.0L109.5 191.2L109.9 195.4L110.3 193.7L110.7 191.3L111.1 190.3L111.5 189.6L112.0 186.3L112.4 185.7L112.8 190.1L113.2 191.0L113.6 186.9L114.0 188.3L114.4 190.4L114.8 188.3L115.2 190.5L115.6 190.4L116.0 190.4L116.4 190.2L116.8 192.4L117.2 190.3L117.6 192.3L118.1 194.0L118.5 191.8L118.9 190.8L119.3 193.8L119.7 192.0L120.1 193.3L120.5 192.1L120.9 190.4L121.3 189.8L121.7 193.5L122.1 195.0L122.5 194.7L122.9 194.9L123.3 191.7L123.7 188.0L124.2 192.4L124.6 192.2L125.0 191.5L125.4 188.9L125.8 187.4L126.2 188.2L126.6 187.0L127.0 187.3L127.4 188.0L127.8 188.8L128.2 188.8L128.6 187.9L129.0 191.5L129.4 189.2L129.8 193.1L130.3 189.3L130.7 187.8L131.1 186.2L131.5 191.3L131.9 188.4L132.3 189.0L132.7 186.2L133.1 182.5L133.5 182.8L133.9 179.5L134.3 179.6L134.7 180.4L135.1 186.7L135.5 186.4L135.9 191.9L136.4 190.5L136.8 188.3L137.2 186.4L137.6 190.9L138.0 188.7L138.4 190.7L138.8 194.0L139.2 189.0L139.6 189.1L140.0 188.3L140.4 188.2L140.8 187.2L141.2 189.6L141.6 187.4L142.1 187.4L142.5 185.9L142.9 185.4L143.3 180.2L143.7 175.7L144.1 172.5L144.5 168.4L144.9 172.3L145.3 171.9L145.7 179.2L146.1 182.7L146.5 184.7L146.9 183.8L147.3 185.4L147.7 186.3L148.2 189.2L148.6 186.9L149.0 186.1L149.4 190.2L149.8 190.2L150.2 188.1L150.6 187.4L151.0 191.5L151.4 191.6L151.8 189.7L152.2 190.1L152.6 189.0L153.0 190.8L153.4 191.5L153.8 189.3L154.3 188.7L154.7 191.0L155.1 188.0L155.5 187.9L155.9 188.4L156.3 188.5L156.7 186.9L157.1 187.4L157.5 188.0L157.9 187.9L158.3 185.0L158.7 183.2L159.1 190.1L159.5 188.3L159.9 189.8L160.4 185.9L160.8 182.6L161.2 181.5L161.6 178.2L162.0 178.7L162.4 179.7L162.8 184.4L163.2 184.3L163.6 183.1L164.0 186.6L164.4 188.2L164.8 185.0L165.2 176.9L165.6 180.6L166.0 179.4L166.5 175.1L166.9 168.9L167.3 164.2L167.7 161.1L168.0 159.8L168.5 162.9L168.9 168.8L169.3 172.9L169.7 178.5L170.1 179.8L170.5 182.3L170.9 184.1L171.3 184.1L171.7 182.0L172.1 182.9L172.6 182.8L173.0 182.8L173.4 182.3L173.8 181.8L174.2 180.9L174.6 182.4L175.0 176.3L175.4 172.6L175.8 166.2L176.2 157.2L176.6 141.8L177.0 129.8L177.3 125.4L177.8 135.0L178.2 148.2L178.7 159.8L179.1 166.7L179.5 171.1L179.9 175.0L180.3 178.4L180.7 179.1L181.1 182.8L181.5 186.0L181.9 185.6L182.3 188.8L182.7 188.1L183.1 186.4L183.5 183.6L183.9 184.7L184.3 186.9L184.8 185.5L185.2 185.0L185.6 185.1L186.0 183.9L186.4 185.9L186.8 182.6L187.2 185.6L187.6 182.6L188.0 179.7L188.4 179.5L188.8 182.5L189.2 187.2L189.6 188.3L190.0 188.4L190.4 186.2L190.9 182.2L191.3 185.2L191.7 182.1L192.1 184.3L192.5 182.6L192.9 180.3L193.3 175.2L193.7 177.5L194.1 184.0L194.5 184.9L194.9 183.6L195.3 185.4L195.7 184.5L196.1 186.1L196.5 185.9L197.0 185.2L197.4 181.8L197.8 185.2L198.2 187.4L198.6 185.0L199.0 184.2L199.4 188.2L199.8 184.8L200.2 185.7L200.6 184.0L201.0 180.7L201.4 178.4L201.8 179.4L202.2 175.8L202.6 173.3L203.1 171.3L203.5 160.3L203.9 151.1L204.3 138.5L204.7 130.3L205.1 137.1L205.5 148.3L205.9 161.0L206.3 169.4L206.7 172.3L207.1 174.5L207.5 181.5L207.9 179.4L208.3 180.8L208.7 182.0L209.2 182.8L209.6 179.6L210.0 180.8L210.4 183.0L210.8 183.2L211.2 183.3L211.6 187.4L212.0 185.3L212.4 185.4L212.8 183.8L213.2 182.5L213.6 183.1L214.0 184.5L214.4 179.7L214.8 176.9L215.3 175.3L215.7 169.5L216.1 160.0L216.6 149.8L216.9 152.1L217.3 157.1L217.7 169.7L218.1 172.7L218.5 178.4L218.9 179.9L219.3 180.2L219.7 175.8L220.1 172.0L220.5 173.5L220.9 168.8L221.4 169.4L221.8 173.9L222.2 178.4L222.6 184.5L223.0 183.3L223.4 183.3L223.8 187.1L224.2 186.3L224.6 185.8L225.0 186.2L225.4 186.0L225.8 188.9L226.2 188.8L226.6 186.6L227.0 184.7L227.5 182.4L227.9 184.1L228.3 182.6L228.7 179.0L229.1 173.4L229.5 160.9L229.9 147.7L230.3 137.3L230.6 132.2L231.1 145.5L231.5 158.5L231.9 169.0L232.3 175.8L232.7 181.7L233.2 186.4L233.6 185.4L234.0 187.8L234.4 189.9L234.8 191.4L235.2 194.4L235.6 193.9L236.0 191.7L236.4 193.1L236.8 195.8L237.2 195.1L237.6 197.4L238.0 193.9L238.4 195.7L238.8 194.1L239.3 192.4L239.7 193.2L240.1 193.3L240.5 195.2L240.9 192.8L241.3 194.2L241.7 193.9L242.1 192.2L242.5 195.3L242.9 195.3L243.3 196.2L243.7 195.6L244.1 195.9L244.5 195.5L244.9 195.7L245.4 196.2L245.8 195.4L246.2 195.2L246.6 196.6L247.0 195.7L247.4 196.9L247.8 197.1L248.2 196.0L248.6 195.2L249.0 195.7L249.4 193.8L249.8 196.3L250.2 196.0L250.6 196.5L251.0 198.2L251.5 196.5L251.9 196.4L252.3 196.3L252.7 196.4L253.1 196.2L253.1 203.8"/></defs>
<use href="#s19" fill="#0c820c" stroke="#0c820c" stroke-width="1.1"/>
<use href="#s19" y="2.76" fill="#000"/>
<use href="#s19" y="2.01" fill="#000" clip-path="url(#tailclip)"/>
<rect x="252.4" y="199.7" width="5.6" height="4.2" fill="#000"/>
<defs><path id="s20" d="M27.7 207.8L27.7 195.2L28.2 195.3L28.6 197.9L29.0 197.1L29.4 199.8L29.8 201.8L30.2 198.8L30.6 197.3L31.0 199.1L31.4 198.5L31.8 203.9L32.2 200.4L32.6 196.9L33.0 197.3L33.4 197.4L33.8 196.7L34.3 201.3L34.7 201.4L35.1 201.2L35.5 198.2L35.9 198.5L36.3 200.3L36.7 193.6L37.1 178.7L37.4 149.7L37.7 125.0L37.9 147.9L38.0 154.3L38.3 183.3L38.7 191.8L39.1 194.7L39.5 195.7L39.9 195.6L40.4 195.7L40.8 199.3L41.2 196.9L41.6 195.6L42.0 197.7L42.4 199.4L42.8 199.1L43.2 199.1L43.6 196.9L44.0 195.5L44.4 196.1L44.8 196.5L45.2 198.7L45.6 196.2L46.0 196.1L46.5 195.8L46.9 195.0L47.3 195.6L47.7 190.0L48.1 196.3L48.5 198.0L48.9 199.8L49.3 198.9L49.7 198.7L50.1 196.2L50.5 200.9L50.9 197.2L51.3 196.4L51.7 198.3L52.1 199.3L52.6 198.0L53.0 196.9L53.4 197.8L53.8 198.1L54.2 197.9L54.6 199.8L55.0 198.0L55.4 196.8L55.8 197.3L56.2 199.7L56.6 198.3L57.0 198.1L57.4 197.1L57.8 198.1L58.2 196.1L58.7 194.9L59.1 194.9L59.5 195.9L59.9 194.4L60.3 196.0L60.7 196.7L61.1 199.2L61.5 197.1L61.9 194.0L62.3 196.6L62.7 193.9L63.1 196.2L63.5 193.3L63.9 188.5L64.3 188.5L64.8 188.3L65.2 182.0L65.6 175.0L66.0 164.1L66.5 158.6L66.8 163.9L67.2 171.2L67.6 177.2L68.0 181.4L68.4 185.9L68.8 188.8L69.2 189.1L69.6 191.0L70.0 192.0L70.4 190.9L70.9 189.0L71.3 191.9L71.7 191.9L72.1 194.6L72.5 196.3L72.9 195.6L73.3 198.4L73.7 198.6L74.1 199.5L74.5 198.9L74.9 199.3L75.3 193.6L75.7 194.8L76.1 196.3L76.5 199.4L77.0 202.5L77.4 198.4L77.8 198.9L78.2 196.1L78.6 197.8L79.0 200.1L79.4 199.6L79.8 201.2L80.2 201.4L80.6 197.7L81.0 198.6L81.4 196.7L81.8 198.4L82.2 198.4L82.6 198.9L83.1 199.1L83.5 199.4L83.9 195.5L84.3 197.0L84.7 201.1L85.1 195.8L85.5 194.7L85.9 194.6L86.3 196.8L86.7 197.6L87.1 198.5L87.5 197.7L87.9 196.8L88.3 197.3L88.7 199.0L89.2 199.8L89.6 195.2L90.0 193.6L90.4 198.3L90.8 198.8L91.2 197.9L91.6 196.3L92.0 197.0L92.4 196.5L92.8 196.0L93.2 194.2L93.6 197.9L94.0 194.4L94.4 194.0L94.8 193.1L95.3 196.2L95.7 194.7L96.1 194.7L96.5 193.5L96.9 193.5L97.3 193.8L97.7 197.8L98.1 194.7L98.5 195.9L98.9 194.8L99.3 196.2L99.7 197.9L100.1 192.4L100.5 194.2L101.0 194.6L101.4 197.0L101.8 197.4L102.2 195.1L102.6 195.5L103.0 193.3L103.4 193.4L103.8 197.6L104.2 200.0L104.6 195.8L105.0 195.3L105.4 196.7L105.8 197.2L106.2 197.8L106.6 193.6L107.1 195.6L107.5 198.5L107.9 195.1L108.3 195.5L108.7 194.6L109.1 195.3L109.5 194.5L109.9 197.3L110.3 193.7L110.7 194.9L111.1 195.1L111.5 194.3L111.9 192.5L112.3 198.4L112.7 196.9L113.2 195.2L113.6 193.8L114.0 196.9L114.4 195.8L114.8 195.2L115.2 194.1L115.6 196.6L116.0 196.6L116.4 197.2L116.8 194.4L117.2 193.4L117.6 195.9L118.0 196.2L118.4 195.6L118.8 197.4L119.3 196.5L119.7 194.4L120.1 193.7L120.5 196.1L120.9 196.7L121.3 195.9L121.7 197.8L122.1 195.1L122.5 194.2L122.9 196.2L123.3 194.2L123.7 193.6L124.1 191.7L124.5 191.7L124.9 187.9L125.4 191.7L125.8 190.7L126.2 191.8L126.6 190.2L127.0 192.5L127.4 193.3L127.8 193.4L128.2 196.8L128.6 190.0L129.0 192.2L129.4 192.8L129.8 193.8L130.2 191.6L130.6 186.3L131.0 187.0L131.5 183.1L131.9 180.1L132.3 180.9L132.7 185.8L133.1 191.4L133.5 190.4L133.9 190.3L134.3 192.2L134.7 193.2L135.1 189.8L135.5 194.6L135.9 194.5L136.3 194.6L136.7 196.4L137.1 195.2L137.6 195.0L138.0 190.9L138.4 194.8L138.8 194.9L139.2 191.6L139.6 193.0L140.0 193.5L140.4 189.6L140.8 187.4L141.2 183.3L141.6 177.5L142.0 172.8L142.4 174.8L142.8 178.2L143.2 180.5L143.7 184.7L144.1 185.8L144.5 189.3L144.9 189.2L145.3 188.1L145.7 192.9L146.1 186.9L146.5 190.9L146.9 192.3L147.3 192.7L147.7 191.7L148.1 194.5L148.5 193.1L148.9 193.9L149.3 190.5L149.8 195.1L150.2 192.3L150.6 193.1L151.0 194.0L151.4 192.8L151.8 192.9L152.2 192.5L152.6 191.9L153.0 189.9L153.4 192.0L153.8 188.9L154.2 195.5L154.6 189.6L155.0 188.5L155.4 187.3L155.9 189.1L156.3 189.3L156.7 191.2L157.1 187.2L157.5 189.5L157.9 188.8L158.3 185.9L158.7 183.6L159.1 182.4L159.5 185.6L159.9 186.0L160.3 185.4L160.7 184.4L161.1 184.8L161.5 185.6L162.0 186.8L162.4 187.1L162.8 186.5L163.2 184.2L163.6 180.5L164.0 178.4L164.4 169.2L164.8 167.0L165.2 159.4L165.5 159.0L166.0 163.9L166.4 170.8L166.8 173.0L167.2 179.1L167.6 181.1L168.1 183.3L168.5 183.6L168.9 184.3L169.3 182.7L169.7 186.4L170.1 187.9L170.5 183.6L170.9 182.3L171.3 183.4L171.7 183.5L172.1 181.1L172.5 176.2L172.9 175.2L173.3 166.1L173.7 158.8L174.2 147.9L174.6 136.4L174.9 136.2L175.4 142.2L175.8 157.0L176.2 166.8L176.6 174.8L177.0 177.8L177.4 179.7L177.8 182.7L178.2 184.4L178.6 185.2L179.0 183.7L179.4 185.5L179.8 184.5L180.3 187.4L180.7 187.8L181.1 189.8L181.5 188.4L181.9 190.5L182.3 188.9L182.7 190.1L183.1 190.0L183.5 186.8L183.9 187.1L184.3 185.4L184.7 185.7L185.1 187.5L185.5 181.6L185.9 183.0L186.4 185.7L186.8 184.6L187.2 188.7L187.6 189.6L188.0 186.5L188.4 188.7L188.8 185.9L189.2 186.9L189.6 186.3L190.0 184.2L190.4 183.1L190.8 179.0L191.2 178.1L191.6 181.3L192.1 183.1L192.5 184.8L192.9 183.9L193.3 189.9L193.7 187.6L194.1 187.2L194.5 189.4L194.9 189.5L195.3 190.3L195.7 187.6L196.1 190.9L196.5 188.7L196.9 186.4L197.3 186.6L197.7 188.2L198.2 188.1L198.6 190.6L199.0 188.2L199.4 182.3L199.8 181.9L200.2 180.5L200.6 173.3L201.0 167.4L201.4 154.2L201.8 144.9L202.2 136.8L202.6 142.4L203.0 155.4L203.4 165.6L203.8 172.9L204.3 178.5L204.7 178.4L205.1 183.5L205.5 183.4L205.9 185.3L206.3 183.5L206.7 185.8L207.1 186.0L207.5 182.9L207.9 181.7L208.3 187.7L208.7 188.5L209.1 189.6L209.5 190.8L209.9 187.9L210.4 188.4L210.8 191.0L211.2 189.3L211.6 185.2L212.0 186.3L212.4 184.7L212.8 181.8L213.2 175.0L213.6 168.4L214.2 159.5L214.4 163.2L214.8 171.8L215.2 175.6L215.6 185.9L216.0 186.3L216.5 184.6L216.9 183.6L217.3 183.6L217.7 181.0L218.1 175.6L218.5 166.8L218.9 174.3L219.3 179.5L219.7 184.4L220.1 185.7L220.5 188.0L220.9 188.3L221.3 186.8L221.7 189.9L222.1 191.3L222.6 190.5L223.0 187.0L223.4 190.2L223.8 187.3L224.2 187.0L224.6 193.5L225.0 191.7L225.4 190.1L225.8 185.2L226.2 179.3L226.6 175.6L227.0 168.0L227.4 153.3L227.8 143.8L228.1 138.0L228.7 152.5L229.1 161.7L229.5 174.1L229.9 184.7L230.3 187.7L230.7 189.3L231.1 190.1L231.5 189.6L231.9 190.1L232.3 191.1L232.7 194.1L233.1 190.9L233.5 191.0L233.9 193.4L234.3 195.7L234.8 195.6L235.2 196.2L235.6 196.7L236.0 196.5L236.4 197.2L236.8 196.4L237.2 197.4L237.6 197.0L238.0 197.1L238.4 197.4L238.8 197.3L239.2 198.9L239.6 196.3L240.0 198.4L240.4 197.9L240.9 198.5L241.3 199.1L241.7 197.5L242.1 197.6L242.5 198.9L242.9 198.7L243.3 198.5L243.7 197.7L244.1 198.0L244.5 199.1L244.9 199.7L245.3 200.7L245.7 199.8L246.1 199.0L246.5 199.9L247.0 199.3L247.4 199.6L247.8 200.2L248.2 201.2L248.6 199.4L249.0 197.5L249.4 198.7L249.8 200.6L250.2 201.2L250.6 200.3L250.6 207.8"/></defs>
<use href="#s20" fill="#0c820c" stroke="#0c820c" stroke-width="1.1"/>
<use href="#s20" y="2.63" fill="#000"/>
<use href="#s20" y="1.88" fill="#000" clip-path="url(#tailclip)"/>
<rect x="249.9" y="203.7" width="5.6" height="4.2" fill="#000"/>
<defs><path id="s21" d="M25.3 211.7L25.3 201.2L25.7 198.8L26.1 201.2L26.5 200.9L26.9 203.0L27.3 201.3L27.7 201.3L28.1 205.0L28.5 203.2L28.9 202.9L29.3 206.5L29.8 203.4L30.2 204.1L30.6 200.7L31.0 200.8L31.4 203.3L31.8 199.0L32.2 198.8L32.6 201.9L33.0 201.0L33.4 203.8L33.8 203.1L34.2 198.6L34.6 177.4L34.9 149.9L35.2 130.2L35.4 148.4L35.5 149.4L35.9 184.0L36.3 199.0L36.7 201.0L37.1 199.5L37.5 199.0L37.9 199.9L38.3 201.9L38.7 197.4L39.1 203.5L39.5 201.5L39.9 199.4L40.3 202.6L40.7 201.8L41.1 200.5L41.5 199.9L42.0 197.2L42.4 200.5L42.8 197.8L43.2 199.0L43.6 199.2L44.0 199.0L44.4 201.9L44.8 200.1L45.2 200.1L45.6 201.0L46.0 201.7L46.4 202.2L46.8 200.7L47.2 201.6L47.6 202.7L48.1 204.6L48.5 202.3L48.9 200.0L49.3 202.3L49.7 201.5L50.1 202.3L50.5 201.6L50.9 203.1L51.3 207.1L51.7 205.5L52.1 203.6L52.5 203.4L52.9 202.4L53.3 202.2L53.7 204.7L54.2 201.3L54.6 200.4L55.0 199.0L55.4 198.6L55.8 196.7L56.2 199.3L56.6 197.3L57.0 198.4L57.4 199.2L57.8 198.1L58.2 200.8L58.6 204.8L59.0 200.9L59.4 200.8L59.8 200.1L60.3 201.0L60.7 197.7L61.1 195.0L61.5 194.4L61.9 193.0L62.3 190.6L62.7 187.3L63.1 176.6L63.5 168.6L64.0 159.9L64.3 158.7L64.7 168.0L65.1 177.4L65.5 185.7L66.0 189.7L66.4 190.9L66.8 190.5L67.2 191.4L67.6 190.5L68.0 191.0L68.4 190.5L68.8 191.7L69.2 194.6L69.6 199.6L70.0 199.9L70.4 198.6L70.8 200.2L71.2 197.9L71.6 199.8L72.1 200.0L72.5 202.0L72.9 198.4L73.3 200.3L73.7 202.2L74.1 201.4L74.5 199.7L74.9 202.5L75.3 198.0L75.7 200.6L76.1 201.2L76.5 204.5L76.9 200.9L77.3 198.3L77.7 200.7L78.2 202.1L78.6 201.1L79.0 201.1L79.4 200.9L79.8 198.3L80.2 200.2L80.6 204.0L81.0 205.5L81.4 199.8L81.8 200.3L82.2 200.1L82.6 202.5L83.0 201.4L83.4 201.9L83.8 205.3L84.3 203.0L84.7 203.8L85.1 203.8L85.5 203.2L85.9 204.3L86.3 203.2L86.7 200.1L87.1 198.1L87.5 199.0L87.9 203.6L88.3 201.0L88.7 200.5L89.1 201.0L89.5 204.5L89.9 205.4L90.4 205.4L90.8 203.5L91.2 200.8L91.6 201.8L92.0 199.9L92.4 201.5L92.8 197.1L93.2 198.9L93.6 195.9L94.0 198.3L94.4 199.5L94.8 203.7L95.2 201.8L95.6 203.3L96.0 204.6L96.5 206.1L96.9 207.4L97.3 201.3L97.7 200.7L98.1 199.9L98.5 197.7L98.9 200.7L99.3 198.3L99.7 200.3L100.1 201.1L100.5 202.3L100.9 202.6L101.3 201.6L101.7 198.5L102.1 200.9L102.6 201.9L103.0 201.4L103.4 201.7L103.8 197.4L104.2 198.1L104.6 195.6L105.0 200.6L105.4 197.2L105.8 199.0L106.2 201.4L106.6 200.9L107.0 203.8L107.4 201.1L107.8 197.2L108.2 198.3L108.7 197.9L109.1 196.5L109.5 201.5L109.9 198.8L110.3 197.2L110.7 200.3L111.1 198.2L111.5 198.3L111.9 198.0L112.3 197.8L112.7 198.2L113.1 202.1L113.5 201.9L113.9 200.6L114.3 196.9L114.8 200.6L115.2 200.9L115.6 200.3L116.0 201.0L116.4 202.0L116.8 202.1L117.2 199.5L117.6 199.8L118.0 198.7L118.4 200.6L118.8 201.6L119.2 202.9L119.6 199.0L120.0 199.9L120.4 198.8L120.9 198.2L121.3 194.8L121.7 196.7L122.1 197.9L122.5 196.3L122.9 198.1L123.3 197.2L123.7 199.9L124.1 198.6L124.5 197.3L124.9 200.3L125.3 201.3L125.7 195.7L126.1 197.8L126.5 196.1L127.0 198.5L127.4 196.4L127.8 193.2L128.2 191.3L128.6 190.8L129.0 189.8L129.4 186.3L129.8 186.2L130.2 189.2L130.6 191.0L131.0 190.4L131.4 193.8L131.8 196.2L132.2 193.7L132.6 191.2L133.1 193.3L133.5 192.9L133.9 198.9L134.3 199.7L134.7 198.0L135.1 198.1L135.5 196.7L135.9 199.3L136.3 192.7L136.7 193.1L137.1 194.3L137.5 191.4L137.9 193.5L138.3 190.4L138.7 187.2L139.2 183.1L139.6 178.7L140.0 181.7L140.4 182.2L140.8 185.4L141.2 188.7L141.6 189.8L142.0 193.3L142.4 197.5L142.8 195.4L143.2 194.4L143.6 193.0L144.0 195.7L144.4 195.2L144.8 193.8L145.3 195.6L145.7 195.6L146.1 196.9L146.5 197.6L146.9 195.3L147.3 194.1L147.7 195.1L148.1 196.3L148.5 196.5L148.9 197.6L149.3 196.6L149.7 196.4L150.1 193.4L150.5 194.9L150.9 195.5L151.4 196.0L151.8 195.5L152.2 195.1L152.6 196.7L153.0 194.7L153.4 193.4L153.8 190.7L154.2 190.4L154.6 190.1L155.0 189.1L155.4 187.2L155.8 186.6L156.2 185.3L156.6 184.1L157.1 186.1L157.5 190.5L157.9 189.4L158.3 188.0L158.7 190.1L159.1 188.7L159.5 188.2L159.9 190.4L160.3 191.6L160.7 191.2L161.1 184.4L161.5 179.6L161.9 175.5L162.3 174.5L162.7 167.8L163.0 164.5L163.6 169.9L164.0 177.0L164.4 179.2L164.8 184.2L165.2 186.3L165.6 186.3L166.0 188.9L166.4 189.4L166.8 189.7L167.2 186.5L167.6 189.0L168.0 188.5L168.4 187.7L168.8 185.6L169.3 188.2L169.7 188.0L170.1 185.7L170.5 182.9L170.9 179.2L171.3 168.5L171.7 156.0L172.1 148.3L172.4 142.7L172.9 149.4L173.3 163.7L173.7 172.9L174.1 176.1L174.5 181.8L174.9 185.1L175.4 185.5L175.8 188.7L176.2 192.4L176.6 193.2L177.0 194.0L177.4 193.8L177.8 192.9L178.2 190.9L178.6 194.5L179.0 192.8L179.4 191.6L179.8 194.1L180.2 193.8L180.6 194.2L181.0 194.0L181.5 192.8L181.9 191.4L182.3 189.3L182.7 189.4L183.1 187.4L183.5 186.5L183.9 189.4L184.3 190.9L184.7 191.1L185.1 194.4L185.5 191.0L185.9 196.0L186.3 194.8L186.7 194.8L187.1 193.9L187.6 194.0L188.0 188.0L188.4 187.8L188.8 186.9L189.2 187.8L189.6 186.7L190.0 189.3L190.4 191.4L190.8 194.8L191.2 196.3L191.6 197.6L192.0 194.9L192.4 196.8L192.8 194.0L193.2 192.4L193.7 193.1L194.1 191.3L194.5 193.3L194.9 194.8L195.3 191.4L195.7 189.9L196.1 191.2L196.5 193.6L196.9 188.6L197.3 186.3L197.7 185.2L198.1 181.3L198.5 176.0L198.9 168.9L199.3 156.1L199.8 155.8L200.2 155.0L200.6 168.5L201.0 174.4L201.4 178.7L201.8 182.2L202.2 182.5L202.6 186.3L203.0 187.2L203.4 190.7L203.8 195.0L204.2 190.0L204.6 189.9L205.0 188.0L205.4 187.0L205.9 187.2L206.3 190.4L206.7 194.7L207.1 194.6L207.5 197.7L207.9 195.6L208.3 195.0L208.7 195.9L209.1 196.3L209.5 194.5L209.9 190.1L210.3 187.2L210.7 182.9L211.1 175.4L211.7 167.0L212.0 169.1L212.4 175.9L212.8 183.0L213.2 188.2L213.6 187.9L214.0 188.7L214.4 189.8L214.8 185.3L215.2 183.1L215.6 179.4L216.0 180.5L216.4 183.1L216.8 182.0L217.2 187.6L217.6 190.0L218.1 190.3L218.5 195.0L218.9 196.6L219.3 197.4L219.7 197.4L220.1 196.2L220.5 193.2L220.9 192.8L221.3 196.5L221.7 198.1L222.1 199.6L222.5 195.6L222.9 190.8L223.3 189.0L223.7 189.9L224.2 182.4L224.6 176.9L225.0 167.6L225.4 159.8L225.7 160.6L226.2 162.5L226.6 175.9L227.0 182.0L227.4 190.3L227.8 193.8L228.2 197.9L228.6 195.2L229.0 196.5L229.4 198.7L229.8 199.2L230.3 199.6L230.7 196.9L231.1 197.5L231.5 197.1L231.9 198.3L232.3 196.5L232.7 203.0L233.1 201.1L233.5 200.2L233.9 201.3L234.3 200.3L234.7 199.9L235.1 199.7L235.5 200.4L235.9 200.4L236.4 201.7L236.8 200.8L237.2 201.1L237.6 201.4L238.0 202.2L238.4 202.8L238.8 202.8L239.2 202.7L239.6 202.3L240.0 204.1L240.4 203.5L240.8 201.5L241.2 202.3L241.6 202.1L242.0 203.3L242.5 204.8L242.9 203.8L243.3 203.7L243.7 202.8L244.1 201.4L244.5 202.4L244.9 203.8L245.3 202.6L245.7 203.1L246.1 203.1L246.5 201.8L246.9 201.9L247.3 204.1L247.7 203.8L248.2 205.6L248.2 211.7"/></defs>
<use href="#s21" fill="#0c820c" stroke="#0c820c" stroke-width="1.1"/>
<use href="#s21" y="2.17" fill="#000"/>
<use href="#s21" y="1.42" fill="#000" clip-path="url(#tailclip)"/>
<rect x="247.4" y="207.6" width="5.6" height="4.2" fill="#000"/>
<defs><path id="s22" d="M22.8 215.7L22.8 202.8L23.2 204.6L23.6 207.9L24.0 202.9L24.4 204.9L24.9 205.0L25.3 206.2L25.7 207.6L26.1 205.2L26.5 208.1L26.9 209.1L27.3 205.9L27.7 206.4L28.1 207.4L28.5 205.3L28.9 202.8L29.3 205.0L29.7 205.4L30.1 204.1L30.5 202.8L31.0 201.8L31.4 201.4L31.8 201.2L32.2 182.0L32.4 151.1L32.7 128.7L33.0 144.2L33.0 149.9L33.4 186.6L33.8 200.8L34.2 202.1L34.6 204.0L35.0 204.4L35.4 203.3L35.8 204.4L36.2 203.9L36.6 204.9L37.1 202.9L37.5 203.2L37.9 207.5L38.3 202.8L38.7 203.4L39.1 205.2L39.5 205.8L39.9 200.7L40.3 202.0L40.7 201.0L41.1 200.2L41.5 202.7L41.9 200.0L42.3 198.9L42.7 204.0L43.2 202.5L43.6 207.1L44.0 206.5L44.4 205.6L44.8 205.3L45.2 204.3L45.6 204.3L46.0 204.4L46.4 205.3L46.8 204.9L47.2 206.3L47.6 202.2L48.0 204.2L48.4 202.8L48.8 204.3L49.3 205.3L49.7 205.7L50.1 207.8L50.5 202.3L50.9 203.5L51.3 204.4L51.7 205.7L52.1 203.0L52.5 204.9L52.9 205.8L53.3 206.2L53.7 202.5L54.1 203.4L54.5 204.5L54.9 205.6L55.4 202.4L55.8 203.0L56.2 204.2L56.6 202.2L57.0 201.2L57.4 203.9L57.8 200.5L58.2 198.9L58.6 199.9L59.0 201.1L59.4 195.4L59.8 193.5L60.2 188.6L60.6 181.2L61.0 171.3L61.6 161.3L61.9 166.8L62.3 174.1L62.7 181.2L63.1 187.1L63.5 191.5L63.9 194.8L64.3 197.3L64.7 198.1L65.1 199.6L65.5 195.3L65.9 197.1L66.3 200.0L66.7 198.6L67.1 197.7L67.6 200.2L68.0 202.6L68.4 205.2L68.8 203.1L69.2 204.2L69.6 205.4L70.0 203.6L70.4 206.5L70.8 204.0L71.2 208.8L71.6 207.4L72.0 208.3L72.4 206.6L72.8 204.1L73.2 207.1L73.7 203.4L74.1 205.8L74.5 206.2L74.9 203.7L75.3 206.0L75.7 202.8L76.1 204.7L76.5 205.2L76.9 206.9L77.3 203.7L77.7 204.8L78.1 206.0L78.5 207.2L78.9 207.1L79.3 206.1L79.8 206.8L80.2 204.4L80.6 205.0L81.0 206.2L81.4 204.7L81.8 202.5L82.2 208.1L82.6 205.5L83.0 203.3L83.4 204.2L83.8 203.3L84.2 207.2L84.6 207.2L85.0 204.0L85.4 204.8L85.9 204.8L86.3 203.6L86.7 203.7L87.1 203.5L87.5 205.0L87.9 205.1L88.3 202.1L88.7 204.1L89.1 206.1L89.5 204.5L89.9 201.3L90.3 198.0L90.7 199.8L91.1 202.1L91.5 201.2L92.0 201.9L92.4 200.9L92.8 201.9L93.2 202.0L93.6 202.5L94.0 203.0L94.4 205.6L94.8 205.2L95.2 201.8L95.6 201.2L96.0 201.6L96.4 202.9L96.8 204.2L97.2 203.8L97.6 204.9L98.1 202.7L98.5 204.4L98.9 205.8L99.3 207.8L99.7 202.9L100.1 205.2L100.5 206.1L100.9 204.1L101.3 200.9L101.7 201.7L102.1 203.7L102.5 202.6L102.9 204.6L103.3 204.1L103.7 203.2L104.2 202.5L104.6 200.6L105.0 199.9L105.4 197.3L105.8 198.3L106.2 201.1L106.6 201.4L107.0 203.8L107.4 204.4L107.8 204.3L108.2 201.8L108.6 204.2L109.0 206.6L109.4 206.5L109.8 206.8L110.3 205.1L110.7 204.7L111.1 206.1L111.5 205.9L111.9 205.2L112.3 203.4L112.7 202.4L113.1 200.7L113.5 203.0L113.9 202.1L114.3 202.8L114.7 205.0L115.1 205.0L115.5 199.7L116.0 202.1L116.4 199.5L116.8 200.0L117.2 198.4L117.6 201.0L118.0 199.5L118.4 200.7L118.8 201.9L119.2 201.7L119.6 198.2L120.0 201.0L120.4 199.1L120.8 201.4L121.2 200.4L121.6 203.3L122.1 200.5L122.5 201.5L122.9 204.1L123.3 204.8L123.7 202.1L124.1 204.0L124.5 200.7L124.9 198.8L125.3 199.3L125.7 194.6L126.1 191.1L126.5 190.1L126.9 189.0L127.3 190.2L127.7 193.9L128.2 193.9L128.6 198.0L129.0 203.5L129.4 201.2L129.8 199.9L130.2 198.8L130.6 202.0L131.0 198.6L131.4 201.4L131.8 199.7L132.2 198.9L132.6 199.4L133.0 197.8L133.4 199.9L133.8 195.8L134.3 196.6L134.7 198.0L135.1 192.1L135.5 193.7L135.9 195.3L136.3 188.0L136.7 182.5L137.1 183.1L137.5 185.4L137.9 185.5L138.3 189.9L138.7 195.0L139.1 196.9L139.5 197.3L139.9 196.2L140.4 195.2L140.8 198.9L141.2 196.7L141.6 201.4L142.0 199.2L142.4 199.9L142.8 199.3L143.2 200.6L143.6 201.6L144.0 200.1L144.4 198.2L144.8 203.4L145.2 201.2L145.6 201.2L146.0 202.4L146.5 203.2L146.9 200.2L147.3 198.9L147.7 198.4L148.1 202.8L148.5 203.4L148.9 201.9L149.3 201.0L149.7 196.5L150.1 198.7L150.5 198.3L150.9 196.5L151.3 194.2L151.7 195.4L152.1 195.2L152.6 191.6L153.0 193.4L153.4 195.4L153.8 193.3L154.2 191.6L154.6 188.8L155.0 190.8L155.4 190.6L155.8 193.0L156.2 194.1L156.6 195.6L157.0 197.0L157.4 194.0L157.8 192.3L158.2 190.3L158.7 189.9L159.1 187.0L159.5 181.0L159.9 174.3L160.3 166.0L160.6 168.8L161.1 171.1L161.5 176.7L161.9 183.7L162.3 187.5L162.7 190.3L163.1 189.3L163.5 187.6L163.9 191.4L164.3 193.8L164.8 192.6L165.2 192.8L165.6 193.9L166.0 192.2L166.4 190.9L166.8 191.7L167.2 188.6L167.6 191.2L168.0 187.6L168.4 180.5L168.8 171.0L169.2 162.6L169.6 147.7L169.9 146.3L170.4 154.2L170.9 165.8L171.3 174.1L171.7 182.6L172.1 185.4L172.5 190.6L172.9 194.7L173.3 193.2L173.7 194.0L174.1 193.3L174.5 198.5L174.9 196.9L175.3 197.9L175.7 197.5L176.1 197.9L176.5 198.0L177.0 198.6L177.4 195.7L177.8 199.5L178.2 200.6L178.6 197.1L179.0 192.3L179.4 195.0L179.8 195.2L180.2 194.7L180.6 193.6L181.0 189.8L181.4 190.6L181.8 191.6L182.2 193.4L182.6 194.7L183.1 196.7L183.5 198.1L183.9 195.5L184.3 191.0L184.7 193.8L185.1 191.0L185.5 192.3L185.9 190.9L186.3 187.8L186.7 191.3L187.1 192.3L187.5 195.7L187.9 192.9L188.3 197.8L188.7 196.5L189.2 197.7L189.6 197.3L190.0 197.0L190.4 195.1L190.8 195.2L191.2 194.8L191.6 195.8L192.0 198.5L192.4 195.0L192.8 193.0L193.2 193.8L193.6 192.9L194.0 193.8L194.4 195.1L194.8 189.8L195.3 188.7L195.7 180.6L196.1 175.2L196.5 168.8L196.9 161.9L197.3 157.1L197.7 162.4L198.1 170.2L198.5 174.5L198.9 182.8L199.3 183.8L199.7 189.1L200.1 190.8L200.5 194.3L200.9 194.5L201.4 194.7L201.8 195.9L202.2 189.8L202.6 190.4L203.0 193.0L203.4 196.7L203.8 196.6L204.2 198.8L204.6 199.6L205.0 198.4L205.4 193.8L205.8 198.9L206.2 196.2L206.6 196.6L207.1 200.1L207.5 197.2L207.9 191.7L208.3 185.9L208.7 181.0L209.2 171.3L209.5 173.3L209.9 180.9L210.3 188.9L210.7 190.1L211.1 192.9L211.5 190.8L211.9 193.3L212.3 188.7L212.7 187.8L213.2 183.4L213.6 181.3L214.0 181.4L214.4 184.4L214.8 190.9L215.2 195.2L215.6 192.5L216.0 193.8L216.4 192.8L216.8 194.4L217.2 196.4L217.6 194.4L218.0 197.6L218.4 198.1L218.8 197.8L219.3 195.2L219.7 196.2L220.1 194.2L220.5 192.9L220.9 188.9L221.3 181.2L221.7 172.7L222.1 163.0L222.5 142.1L222.9 129.2L223.2 123.8L223.7 139.7L224.1 161.5L224.5 175.0L224.9 179.9L225.4 189.6L225.8 186.7L226.2 192.5L226.6 194.9L227.0 194.7L227.4 197.6L227.8 200.2L228.2 201.6L228.6 203.0L229.0 201.1L229.4 202.6L229.8 201.6L230.2 205.1L230.6 204.2L231.0 201.9L231.5 202.8L231.9 203.7L232.3 203.1L232.7 203.9L233.1 203.2L233.5 205.5L233.9 204.7L234.3 206.2L234.7 205.3L235.1 203.5L235.5 203.8L235.9 206.2L236.3 205.9L236.7 205.9L237.1 207.0L237.6 206.6L238.0 207.7L238.4 206.3L238.8 205.9L239.2 206.8L239.6 206.4L240.0 204.7L240.4 206.5L240.8 208.7L241.2 207.5L241.6 207.8L242.0 208.2L242.4 206.9L242.8 206.4L243.2 206.5L243.7 205.7L244.1 207.5L244.5 207.9L244.9 207.3L245.3 210.0L245.7 211.0L245.7 215.7"/></defs>
<use href="#s22" fill="#0c820c" stroke="#0c820c" stroke-width="1.1"/>
<use href="#s22" y="2.20" fill="#000"/>
<use href="#s22" y="1.45" fill="#000" clip-path="url(#tailclip)"/>
<rect x="245.0" y="211.6" width="5.6" height="4.2" fill="#000"/>
<defs><path id="s23" d="M20.4 219.6L20.4 210.4L20.8 209.8L21.2 213.7L21.6 209.9L22.0 210.7L22.4 208.7L22.8 210.0L23.2 208.5L23.6 206.1L24.0 210.4L24.4 208.8L24.8 210.6L25.2 206.9L25.6 208.0L26.0 209.8L26.5 210.0L26.9 207.4L27.3 212.1L27.7 208.2L28.1 209.8L28.5 208.5L28.9 208.7L29.3 204.3L29.7 178.8L30.0 135.1L30.3 103.0L30.5 130.2L30.6 136.7L30.9 187.1L31.3 207.1L31.7 208.2L32.1 209.9L32.6 211.0L33.0 210.0L33.4 210.3L33.8 209.7L34.2 213.1L34.6 210.5L35.0 209.2L35.4 211.5L35.8 206.8L36.2 211.4L36.6 208.8L37.0 208.6L37.4 208.1L37.8 207.0L38.2 203.4L38.7 208.0L39.1 205.5L39.5 205.9L39.9 210.4L40.3 205.2L40.7 208.4L41.1 209.0L41.5 210.5L41.9 211.4L42.3 210.3L42.7 212.3L43.1 212.7L43.5 210.8L43.9 210.4L44.3 213.2L44.8 211.1L45.2 212.7L45.6 210.3L46.0 212.5L46.4 213.5L46.8 212.2L47.2 213.1L47.6 209.7L48.0 207.0L48.4 208.1L48.8 209.3L49.2 209.1L49.6 207.6L50.0 210.0L50.4 210.7L50.9 212.7L51.3 211.1L51.7 210.5L52.1 210.6L52.5 210.0L52.9 210.9L53.3 210.2L53.7 208.4L54.1 206.7L54.5 209.2L54.9 206.6L55.3 208.0L55.7 204.0L56.1 201.6L56.5 199.4L57.0 196.4L57.4 191.8L57.8 184.1L58.2 172.6L58.6 156.6L59.1 143.8L59.4 154.1L59.8 163.3L60.2 176.9L60.6 185.5L61.0 192.9L61.4 199.0L61.8 194.9L62.2 197.3L62.6 200.6L63.1 202.4L63.5 204.6L63.9 203.3L64.3 203.9L64.7 207.1L65.1 204.9L65.5 204.7L65.9 207.5L66.3 209.8L66.7 208.4L67.1 209.3L67.5 209.7L67.9 205.8L68.3 210.9L68.7 210.1L69.2 210.1L69.6 210.6L70.0 209.4L70.4 209.6L70.8 213.9L71.2 216.0L71.6 213.7L72.0 211.5L72.4 209.7L72.8 211.8L73.2 209.7L73.6 209.0L74.0 206.1L74.4 209.1L74.9 211.7L75.3 210.9L75.7 209.3L76.1 212.4L76.5 209.7L76.9 209.6L77.3 214.9L77.7 211.1L78.1 210.3L78.5 214.0L78.9 208.7L79.3 212.9L79.7 210.7L80.1 209.7L80.5 212.2L81.0 213.5L81.4 209.4L81.8 214.0L82.2 216.3L82.6 213.2L83.0 206.9L83.4 213.0L83.8 211.0L84.2 212.1L84.6 212.7L85.0 210.5L85.4 210.7L85.8 210.4L86.2 207.5L86.6 207.7L87.1 209.0L87.5 207.6L87.9 207.6L88.3 207.9L88.7 205.5L89.1 207.4L89.5 210.3L89.9 207.8L90.3 211.2L90.7 211.9L91.1 209.0L91.5 212.6L91.9 208.5L92.3 209.9L92.7 209.0L93.2 209.7L93.6 208.6L94.0 208.6L94.4 212.3L94.8 210.9L95.2 208.5L95.6 205.8L96.0 211.6L96.4 209.9L96.8 205.6L97.2 202.1L97.6 204.8L98.0 210.1L98.4 205.7L98.8 205.5L99.3 207.6L99.7 205.7L100.1 209.5L100.5 210.0L100.9 209.4L101.3 208.0L101.7 203.0L102.1 204.3L102.5 206.2L102.9 207.2L103.3 204.2L103.7 206.2L104.1 205.8L104.5 206.6L104.9 208.5L105.4 209.9L105.8 210.7L106.2 213.4L106.6 210.0L107.0 209.6L107.4 212.7L107.8 207.1L108.2 208.3L108.6 209.0L109.0 209.3L109.4 208.9L109.8 206.2L110.2 206.6L110.6 210.1L111.0 208.9L111.5 209.6L111.9 209.5L112.3 205.7L112.7 207.4L113.1 209.6L113.5 210.8L113.9 210.1L114.3 208.9L114.7 210.0L115.1 209.5L115.5 204.6L115.9 205.7L116.3 206.2L116.7 204.0L117.1 203.6L117.6 203.7L118.0 203.6L118.4 205.6L118.8 204.2L119.2 204.3L119.6 205.0L120.0 207.1L120.4 205.5L120.8 210.2L121.2 207.8L121.6 205.5L122.0 206.4L122.4 204.1L122.8 202.1L123.2 197.9L123.7 198.5L124.1 194.4L124.5 196.1L124.9 195.7L125.3 196.9L125.7 198.3L126.1 200.6L126.5 203.0L126.9 205.2L127.3 206.2L127.7 205.7L128.1 205.4L128.5 203.5L128.9 207.8L129.3 210.2L129.8 207.8L130.2 205.0L130.6 203.9L131.0 203.8L131.4 203.6L131.8 202.9L132.2 199.9L132.6 197.6L133.0 200.3L133.4 193.2L133.8 188.5L134.2 181.5L134.6 175.1L135.0 174.8L135.4 179.0L135.9 188.3L136.3 193.7L136.7 195.9L137.1 201.4L137.5 201.5L137.9 203.1L138.3 202.9L138.7 200.3L139.1 202.9L139.5 199.5L139.9 204.3L140.3 207.4L140.7 204.5L141.1 205.3L141.5 204.9L142.0 204.1L142.4 205.4L142.8 205.2L143.2 208.0L143.6 206.6L144.0 204.1L144.4 206.5L144.8 206.5L145.2 210.1L145.6 205.9L146.0 211.0L146.4 205.5L146.8 205.4L147.2 206.0L147.6 202.5L148.1 205.0L148.5 205.2L148.9 203.2L149.3 203.0L149.7 202.4L150.1 201.0L150.5 197.7L150.9 199.3L151.3 191.7L151.7 193.1L152.1 194.3L152.5 197.0L152.9 198.9L153.3 199.6L153.7 199.8L154.2 198.3L154.6 195.5L155.0 192.8L155.4 195.7L155.8 194.8L156.2 190.0L156.6 184.9L157.0 177.2L157.4 170.4L157.8 159.3L158.1 155.4L158.6 162.8L159.0 171.9L159.4 178.8L159.8 190.2L160.3 195.5L160.7 194.9L161.1 195.7L161.5 200.4L161.9 198.8L162.3 196.8L162.7 197.5L163.1 198.2L163.5 199.3L163.9 196.7L164.3 194.1L164.7 191.9L165.1 190.8L165.5 186.9L166.0 177.3L166.4 164.0L166.8 149.6L167.2 135.5L167.5 125.4L168.0 136.0L168.4 153.8L168.8 171.9L169.2 180.4L169.6 187.1L170.0 187.1L170.4 193.7L170.8 195.0L171.2 194.2L171.6 196.8L172.1 199.3L172.5 201.4L172.9 200.9L173.3 200.7L173.7 199.8L174.1 201.3L174.5 200.6L174.9 204.4L175.3 208.4L175.7 204.5L176.1 203.1L176.5 200.0L176.9 199.7L177.3 195.5L177.7 196.1L178.2 194.4L178.6 199.5L179.0 197.9L179.4 197.0L179.8 201.2L180.2 199.8L180.6 202.5L181.0 204.7L181.4 202.1L181.8 199.9L182.2 196.5L182.6 197.8L183.0 194.9L183.4 194.0L183.8 193.3L184.3 195.7L184.7 198.4L185.1 200.5L185.5 201.1L185.9 202.8L186.3 203.1L186.7 203.0L187.1 203.6L187.5 203.0L187.9 204.8L188.3 202.3L188.7 203.3L189.1 201.3L189.5 199.9L189.9 201.1L190.4 197.8L190.8 201.0L191.2 199.6L191.6 199.4L192.0 197.4L192.4 193.9L192.8 188.8L193.2 183.3L193.6 173.8L194.0 162.4L194.4 150.0L194.8 148.0L195.2 151.2L195.6 165.6L196.0 176.0L196.5 184.9L196.9 190.6L197.3 192.5L197.7 195.7L198.1 196.7L198.5 196.8L198.9 193.3L199.3 196.5L199.7 197.6L200.1 193.5L200.5 199.9L200.9 201.4L201.3 199.8L201.7 202.0L202.1 202.4L202.6 200.2L203.0 199.2L203.4 201.2L203.8 201.0L204.2 199.4L204.6 201.0L205.0 193.3L205.4 193.0L205.8 183.1L206.2 171.2L206.8 168.1L207.0 169.2L207.4 179.0L207.8 186.9L208.2 186.9L208.7 191.3L209.1 197.0L209.5 193.0L209.9 191.5L210.3 189.3L210.7 185.4L211.1 182.4L211.5 181.7L211.9 188.3L212.3 193.0L212.7 196.2L213.1 197.9L213.5 197.6L213.9 201.0L214.3 204.0L214.8 203.2L215.2 203.7L215.6 202.2L216.0 205.5L216.4 205.7L216.8 206.3L217.2 201.9L217.6 203.7L218.0 201.4L218.4 197.4L218.8 195.5L219.2 185.0L219.6 175.1L220.0 158.6L220.4 143.6L220.7 139.4L221.3 150.3L221.7 169.4L222.1 181.1L222.5 190.2L222.9 196.5L223.3 200.6L223.7 200.3L224.1 204.2L224.5 206.4L224.9 207.7L225.3 209.7L225.7 205.4L226.1 207.3L226.5 209.6L227.0 207.7L227.4 210.3L227.8 206.4L228.2 209.6L228.6 209.9L229.0 209.1L229.4 210.9L229.8 209.6L230.2 210.7L230.6 211.2L231.0 212.7L231.4 213.3L231.8 211.7L232.2 211.5L232.6 210.8L233.1 210.5L233.5 212.2L233.9 210.6L234.3 211.7L234.7 211.8L235.1 211.4L235.5 211.2L235.9 212.2L236.3 211.6L236.7 211.0L237.1 212.1L237.5 213.4L237.9 211.2L238.3 211.5L238.7 212.5L239.2 213.2L239.6 211.8L240.0 212.8L240.4 212.6L240.8 213.0L241.2 213.3L241.6 211.4L242.0 212.8L242.4 214.1L242.8 213.3L243.2 213.2L243.2 219.6"/></defs>
<use href="#s23" fill="#0c820c" stroke="#0c820c" stroke-width="1.1"/>
<use href="#s23" y="2.19" fill="#000"/>
<use href="#s23" y="1.44" fill="#000" clip-path="url(#tailclip)"/>
<rect x="242.5" y="215.5" width="5.6" height="4.2" fill="#000"/>
<defs><path id="s24" d="M17.9 223.6L17.9 214.6L18.3 215.6L18.7 216.0L19.1 214.8L19.5 212.4L19.9 216.1L20.3 217.6L20.7 213.5L21.1 216.7L21.5 215.9L22.0 214.6L22.4 211.2L22.8 216.9L23.2 220.3L23.6 216.4L24.0 213.0L24.4 213.4L24.8 215.1L25.2 213.8L25.6 217.1L26.0 212.7L26.4 209.4L26.8 208.6L27.2 189.1L27.5 159.9L27.8 130.0L28.1 152.9L28.1 160.1L28.5 199.8L28.9 214.0L29.3 212.3L29.7 209.5L30.1 214.8L30.5 214.4L30.9 213.1L31.3 214.6L31.7 216.9L32.1 214.3L32.5 212.0L32.9 212.8L33.3 215.2L33.7 214.4L34.2 216.9L34.6 213.9L35.0 209.9L35.4 207.9L35.8 208.3L36.2 207.1L36.6 209.2L37.0 210.0L37.4 212.4L37.8 212.3L38.2 213.8L38.6 213.1L39.0 212.1L39.4 213.1L39.9 215.9L40.3 213.7L40.7 214.2L41.1 214.9L41.5 213.2L41.9 215.2L42.3 212.6L42.7 212.5L43.1 214.7L43.5 215.4L43.9 214.7L44.3 215.8L44.7 212.8L45.1 217.4L45.5 214.8L46.0 214.7L46.4 216.1L46.8 213.4L47.2 214.4L47.6 213.0L48.0 214.1L48.4 214.1L48.8 212.6L49.2 211.2L49.6 210.5L50.0 212.0L50.4 209.7L50.8 212.0L51.2 214.5L51.6 215.9L52.1 215.5L52.5 213.8L52.9 214.4L53.3 210.0L53.7 208.1L54.1 206.1L54.5 202.8L54.9 199.2L55.3 193.3L55.7 184.1L56.1 171.3L56.6 163.4L56.9 163.0L57.3 172.7L57.7 185.8L58.2 190.3L58.6 199.7L59.0 200.9L59.4 206.4L59.8 204.3L60.2 205.7L60.6 202.7L61.0 203.4L61.4 203.0L61.8 204.6L62.2 206.4L62.6 209.2L63.0 207.4L63.4 209.4L63.8 210.1L64.3 208.9L64.7 211.7L65.1 209.1L65.5 209.7L65.9 211.7L66.3 215.2L66.7 211.7L67.1 213.3L67.5 213.2L67.9 213.2L68.3 211.7L68.7 211.8L69.1 216.4L69.5 215.8L69.9 213.8L70.4 213.4L70.8 212.2L71.2 212.2L71.6 210.2L72.0 213.8L72.4 211.4L72.8 212.3L73.2 212.7L73.6 212.2L74.0 213.9L74.4 212.6L74.8 213.8L75.2 212.5L75.6 214.8L76.0 212.1L76.5 216.0L76.9 215.7L77.3 214.6L77.7 213.6L78.1 215.2L78.5 214.9L78.9 213.7L79.3 211.8L79.7 210.6L80.1 213.4L80.5 213.6L80.9 214.1L81.3 216.4L81.7 215.2L82.1 211.8L82.6 215.0L83.0 208.3L83.4 209.3L83.8 208.0L84.2 210.0L84.6 214.8L85.0 210.9L85.4 206.9L85.8 209.3L86.2 207.2L86.6 208.1L87.0 208.8L87.4 209.5L87.8 210.3L88.2 210.7L88.7 209.9L89.1 211.1L89.5 211.2L89.9 211.7L90.3 212.4L90.7 214.4L91.1 216.9L91.5 216.3L91.9 216.6L92.3 217.0L92.7 213.3L93.1 213.8L93.5 211.0L93.9 206.9L94.3 209.5L94.8 212.6L95.2 212.1L95.6 213.0L96.0 212.4L96.4 208.9L96.8 208.3L97.2 208.7L97.6 210.5L98.0 208.2L98.4 208.9L98.8 208.7L99.2 212.0L99.6 211.6L100.0 209.7L100.4 209.6L100.9 210.4L101.3 213.7L101.7 213.1L102.1 212.0L102.5 211.1L102.9 213.5L103.3 212.8L103.7 209.1L104.1 210.8L104.5 215.3L104.9 213.7L105.3 212.8L105.7 210.2L106.1 211.2L106.5 209.4L107.0 210.7L107.4 209.6L107.8 208.9L108.2 208.2L108.6 210.4L109.0 210.3L109.4 204.5L109.8 211.6L110.2 211.4L110.6 210.7L111.0 212.5L111.4 210.2L111.8 211.1L112.2 209.4L112.6 209.6L113.1 211.3L113.5 207.7L113.9 203.7L114.3 203.5L114.7 203.9L115.1 208.0L115.5 206.7L115.9 207.7L116.3 210.0L116.7 213.0L117.1 210.0L117.5 208.1L117.9 207.7L118.3 204.8L118.7 211.0L119.2 208.7L119.6 208.1L120.0 204.5L120.4 204.6L120.8 204.6L121.2 200.5L121.6 195.7L122.0 195.4L122.4 197.5L122.8 199.4L123.2 201.0L123.6 204.7L124.0 205.5L124.4 208.0L124.8 208.8L125.3 208.3L125.7 206.9L126.1 205.2L126.5 207.8L126.9 207.5L127.3 204.7L127.7 205.4L128.1 207.6L128.5 206.6L128.9 209.1L129.3 210.6L129.7 207.7L130.1 205.2L130.5 203.5L131.0 195.8L131.4 191.9L131.8 185.3L132.2 180.9L132.6 182.1L133.0 189.1L133.4 190.1L133.8 200.1L134.2 201.9L134.6 202.3L135.0 204.9L135.4 206.1L135.8 206.2L136.2 206.7L136.6 208.1L137.1 206.3L137.5 206.7L137.9 205.3L138.3 207.3L138.7 211.8L139.1 212.9L139.5 211.2L139.9 208.9L140.3 211.8L140.7 210.9L141.1 207.3L141.5 207.7L141.9 209.6L142.3 209.2L142.7 208.6L143.2 209.3L143.6 209.2L144.0 209.7L144.4 208.2L144.8 205.0L145.2 204.0L145.6 208.3L146.0 203.1L146.4 205.2L146.8 207.7L147.2 208.1L147.6 204.3L148.0 201.5L148.4 200.7L148.8 199.5L149.3 197.8L149.7 197.3L150.1 197.7L150.5 198.9L150.9 205.2L151.3 204.3L151.7 202.4L152.1 201.1L152.5 199.2L152.9 201.6L153.3 195.3L153.7 195.7L154.1 190.4L154.5 184.0L154.9 175.7L155.4 168.5L155.6 163.8L156.2 168.9L156.6 178.0L157.0 188.6L157.4 193.8L157.8 196.4L158.2 197.7L158.6 200.6L159.0 201.5L159.4 196.8L159.8 199.9L160.2 201.5L160.6 205.6L161.0 203.5L161.5 197.7L161.9 195.9L162.3 197.2L162.7 191.6L163.1 187.0L163.5 181.5L163.9 168.4L164.3 155.4L164.7 141.1L165.0 136.2L165.5 146.9L165.9 163.5L166.3 175.6L166.7 184.8L167.1 190.7L167.6 194.3L168.0 198.9L168.4 202.9L168.8 202.7L169.2 200.8L169.6 202.3L170.0 203.3L170.4 205.7L170.8 207.4L171.2 208.3L171.6 208.1L172.0 207.1L172.4 208.8L172.8 206.8L173.2 208.4L173.7 204.7L174.1 204.0L174.5 206.1L174.9 203.5L175.3 199.9L175.7 197.6L176.1 196.8L176.5 199.9L176.9 201.8L177.3 203.3L177.7 202.8L178.1 205.0L178.5 204.6L178.9 203.6L179.3 203.5L179.8 203.8L180.2 198.1L180.6 195.9L181.0 196.6L181.4 192.4L181.8 197.8L182.2 201.7L182.6 203.3L183.0 202.9L183.4 201.5L183.8 201.5L184.2 203.1L184.6 204.6L185.0 204.2L185.4 206.5L185.9 207.1L186.3 204.9L186.7 204.5L187.1 204.0L187.5 205.7L187.9 203.4L188.3 205.0L188.7 200.3L189.1 199.0L189.5 197.9L189.9 194.7L190.3 184.1L190.7 174.5L191.1 170.4L191.5 155.3L192.0 148.3L192.4 136.6L192.8 143.0L193.2 156.6L193.6 172.2L194.0 183.7L194.4 188.4L194.8 193.6L195.2 195.2L195.6 195.7L196.0 198.4L196.4 198.1L196.8 198.0L197.2 197.3L197.6 199.0L198.1 199.7L198.5 200.9L198.9 202.7L199.3 204.6L199.7 207.2L200.1 207.5L200.5 202.7L200.9 201.6L201.3 202.0L201.7 201.2L202.1 200.4L202.5 196.4L202.9 191.2L203.3 186.3L203.7 177.1L204.3 167.6L204.6 173.5L205.0 181.7L205.4 189.3L205.8 195.7L206.2 197.8L206.6 199.5L207.0 198.6L207.4 194.9L207.8 193.4L208.2 186.7L208.6 180.2L209.0 183.5L209.4 192.4L209.8 198.0L210.3 198.7L210.7 202.7L211.1 205.6L211.5 204.5L211.9 207.2L212.3 209.1L212.7 206.8L213.1 207.1L213.5 208.3L213.9 206.5L214.3 204.5L214.7 203.3L215.1 204.0L215.5 202.6L215.9 200.5L216.4 201.0L216.8 191.9L217.2 187.2L217.6 177.5L218.0 167.5L218.3 164.9L218.8 170.5L219.2 182.7L219.6 192.8L220.0 201.4L220.4 202.7L220.8 204.7L221.2 208.1L221.6 208.3L222.1 212.0L222.5 209.3L222.9 212.0L223.3 210.1L223.7 210.4L224.1 214.8L224.5 214.7L224.9 214.0L225.3 211.3L225.7 211.5L226.1 211.7L226.5 211.0L226.9 212.6L227.3 213.6L227.7 215.2L228.2 215.2L228.6 213.9L229.0 214.8L229.4 215.3L229.8 213.9L230.2 216.6L230.6 214.1L231.0 213.4L231.4 216.0L231.8 215.0L232.2 215.1L232.6 214.4L233.0 215.3L233.4 215.4L233.8 214.2L234.3 215.6L234.7 215.2L235.1 214.9L235.5 215.5L235.9 214.8L236.3 215.0L236.7 214.7L237.1 217.0L237.5 217.2L237.9 216.1L238.3 214.9L238.7 214.3L239.1 215.4L239.5 216.4L239.9 217.1L240.4 218.2L240.8 217.3L240.8 223.6"/></defs>
<use href="#s24" fill="#0c820c" stroke="#0c820c" stroke-width="1.1"/>
<use href="#s24" y="2.78" fill="#000"/>
<use href="#s24" y="2.03" fill="#000" clip-path="url(#tailclip)"/>
<rect x="240.0" y="219.5" width="5.6" height="4.2" fill="#000"/>
<defs><path id="s25" d="M15.4 227.5L15.4 217.1L15.8 217.2L16.2 219.6L16.6 217.6L17.1 221.8L17.5 218.1L17.9 221.1L18.3 220.2L18.7 222.8L19.1 216.4L19.5 219.5L19.9 217.9L20.3 219.7L20.7 218.4L21.1 219.0L21.5 217.3L21.9 214.7L22.3 221.5L22.7 220.7L23.2 219.2L23.6 217.3L24.0 214.1L24.4 209.1L24.8 190.1L25.0 156.6L25.3 126.2L25.6 149.2L25.6 154.3L26.0 200.4L26.4 213.7L26.8 214.4L27.2 218.8L27.6 218.1L28.0 218.5L28.4 219.6L28.8 218.4L29.3 220.0L29.7 222.2L30.1 217.4L30.5 218.2L30.9 221.2L31.3 218.6L31.7 219.9L32.1 219.4L32.5 215.6L32.9 214.7L33.3 215.2L33.7 214.7L34.1 216.6L34.5 213.5L34.9 216.8L35.4 215.6L35.8 218.1L36.2 219.5L36.6 218.4L37.0 218.0L37.4 216.8L37.8 217.3L38.2 215.6L38.6 220.4L39.0 220.5L39.4 219.3L39.8 223.9L40.2 223.0L40.6 220.7L41.0 221.5L41.5 220.0L41.9 220.0L42.3 217.7L42.7 219.4L43.1 216.9L43.5 220.2L43.9 218.3L44.3 221.1L44.7 224.2L45.1 225.4L45.5 223.7L45.9 221.2L46.3 216.8L46.7 219.4L47.1 219.4L47.6 219.7L48.0 218.0L48.4 216.9L48.8 217.1L49.2 216.2L49.6 218.4L50.0 217.7L50.4 214.8L50.8 213.0L51.2 213.7L51.6 214.0L52.0 211.6L52.4 208.6L52.8 204.5L53.2 196.0L53.7 185.3L54.2 174.2L54.5 177.9L54.9 185.6L55.3 196.2L55.7 203.6L56.1 204.3L56.5 208.8L56.9 210.1L57.3 210.3L57.7 209.6L58.1 212.4L58.5 214.0L58.9 210.6L59.3 216.7L59.8 216.0L60.2 216.0L60.6 217.1L61.0 218.4L61.4 218.5L61.8 218.5L62.2 219.0L62.6 217.4L63.0 219.7L63.4 222.7L63.8 221.2L64.2 217.6L64.6 220.1L65.0 221.3L65.4 220.3L65.9 217.9L66.3 219.2L66.7 220.0L67.1 221.7L67.5 219.6L67.9 223.6L68.3 222.0L68.7 220.5L69.1 218.2L69.5 221.8L69.9 217.5L70.3 217.8L70.7 218.8L71.1 218.0L71.5 217.2L72.0 217.6L72.4 221.1L72.8 217.8L73.2 215.4L73.6 215.2L74.0 220.0L74.4 221.1L74.8 216.6L75.2 218.1L75.6 214.0L76.0 215.7L76.4 216.1L76.8 218.8L77.2 215.3L77.6 217.1L78.1 220.2L78.5 220.5L78.9 219.4L79.3 219.1L79.7 218.7L80.1 219.0L80.5 222.8L80.9 221.3L81.3 218.0L81.7 218.7L82.1 217.9L82.5 215.0L82.9 215.4L83.3 217.7L83.7 215.7L84.2 215.8L84.6 217.9L85.0 215.2L85.4 214.6L85.8 214.0L86.2 213.9L86.6 212.6L87.0 215.6L87.4 216.2L87.8 219.4L88.2 216.0L88.6 219.4L89.0 219.2L89.4 219.7L89.9 217.8L90.3 217.5L90.7 215.5L91.1 215.5L91.5 218.5L91.9 222.4L92.3 220.8L92.7 217.7L93.1 215.6L93.5 219.5L93.9 218.0L94.3 217.7L94.7 215.6L95.1 217.1L95.5 216.6L96.0 217.8L96.4 219.7L96.8 217.8L97.2 216.5L97.6 218.0L98.0 212.0L98.4 211.4L98.8 210.6L99.2 212.8L99.6 217.4L100.0 217.9L100.4 216.6L100.8 213.6L101.2 215.8L101.6 218.1L102.1 215.8L102.5 217.6L102.9 216.5L103.3 218.1L103.7 218.5L104.1 216.8L104.5 216.1L104.9 216.6L105.3 215.7L105.7 214.8L106.1 217.2L106.5 217.0L106.9 214.7L107.3 217.5L107.7 218.6L108.2 217.6L108.6 220.6L109.0 215.9L109.4 218.1L109.8 215.7L110.2 214.0L110.6 215.6L111.0 214.4L111.4 214.3L111.8 213.2L112.2 213.1L112.6 212.5L113.0 212.1L113.4 210.5L113.8 215.9L114.3 214.7L114.7 217.1L115.1 214.1L115.5 213.3L115.9 212.0L116.3 215.5L116.7 209.1L117.1 212.0L117.5 210.1L117.9 211.6L118.3 207.1L118.7 206.1L119.1 204.3L119.5 203.1L119.9 204.7L120.4 207.0L120.8 207.0L121.2 209.4L121.6 211.8L122.0 214.7L122.4 213.5L122.8 212.8L123.2 213.6L123.6 211.9L124.0 214.2L124.4 210.3L124.8 211.6L125.2 213.1L125.6 215.1L126.0 215.5L126.5 212.3L126.9 211.3L127.3 211.9L127.7 207.3L128.1 207.4L128.5 203.0L128.9 202.4L129.3 200.1L129.7 193.8L130.1 194.8L130.5 198.0L130.9 202.2L131.3 205.3L131.7 209.1L132.1 209.6L132.6 211.7L133.0 212.0L133.4 212.8L133.8 211.2L134.2 216.3L134.6 215.1L135.0 212.8L135.4 215.2L135.8 212.4L136.2 214.4L136.6 212.4L137.0 214.6L137.4 215.7L137.8 213.0L138.2 211.9L138.7 213.6L139.1 214.2L139.5 217.5L139.9 213.9L140.3 216.3L140.7 216.4L141.1 213.5L141.5 213.8L141.9 214.5L142.3 213.1L142.7 211.1L143.1 213.6L143.5 210.8L143.9 213.4L144.3 213.4L144.8 208.7L145.2 208.9L145.6 205.4L146.0 207.3L146.4 206.9L146.8 204.2L147.2 201.1L147.6 206.9L148.0 208.0L148.4 206.3L148.8 206.5L149.2 205.7L149.6 205.9L150.0 206.4L150.4 208.0L150.9 207.9L151.3 202.5L151.7 203.8L152.1 197.2L152.5 186.6L152.9 183.1L153.2 180.4L153.7 183.9L154.1 191.3L154.5 198.1L154.9 202.2L155.3 206.8L155.7 206.4L156.1 207.7L156.5 209.7L157.0 208.7L157.4 209.4L157.8 207.5L158.2 206.8L158.6 209.0L159.0 208.2L159.4 206.3L159.8 206.5L160.2 203.0L160.6 196.5L161.0 189.7L161.4 182.0L161.8 167.8L162.2 153.1L162.5 150.6L163.1 166.0L163.5 174.8L163.9 183.7L164.3 192.9L164.7 197.5L165.1 203.5L165.5 207.5L165.9 206.0L166.3 208.4L166.7 207.9L167.1 207.1L167.5 210.8L167.9 213.0L168.3 211.8L168.7 210.7L169.2 214.1L169.6 212.7L170.0 210.2L170.4 211.4L170.8 210.7L171.2 211.3L171.6 209.7L172.0 209.7L172.4 209.2L172.8 207.0L173.2 203.8L173.6 204.4L174.0 204.6L174.4 205.6L174.8 209.5L175.3 211.4L175.7 211.1L176.1 208.0L176.5 209.8L176.9 207.9L177.3 205.2L177.7 199.4L178.1 202.0L178.5 202.2L178.9 204.1L179.3 208.9L179.7 206.5L180.1 208.0L180.5 212.9L181.0 212.8L181.4 212.5L181.8 213.4L182.2 214.4L182.6 212.4L183.0 211.6L183.4 215.9L183.8 213.8L184.2 213.6L184.6 209.7L185.0 207.3L185.4 206.9L185.8 207.4L186.2 209.1L186.6 208.5L187.1 209.5L187.5 208.6L187.9 200.7L188.3 194.5L188.7 188.3L189.1 177.3L189.5 167.4L189.9 165.0L190.3 171.1L190.7 181.0L191.1 190.9L191.5 197.9L191.9 201.7L192.3 205.9L192.7 207.0L193.2 207.7L193.6 205.7L194.0 204.8L194.4 202.8L194.8 203.1L195.2 205.4L195.6 208.0L196.0 209.6L196.4 209.6L196.8 209.7L197.2 207.4L197.6 209.0L198.0 209.1L198.4 208.7L198.8 210.5L199.3 209.2L199.7 209.4L200.1 206.8L200.5 201.6L200.9 193.2L201.3 190.5L201.8 186.0L202.1 186.4L202.5 188.1L202.9 197.7L203.3 203.3L203.7 203.0L204.1 204.3L204.5 205.1L204.9 203.2L205.4 197.5L205.8 193.2L206.2 190.5L206.6 192.5L207.0 198.7L207.4 201.5L207.8 207.5L208.2 208.4L208.6 211.8L209.0 211.4L209.4 210.0L209.8 212.3L210.2 210.3L210.6 209.4L211.0 209.6L211.5 208.4L211.9 209.5L212.3 214.3L212.7 214.0L213.1 210.0L213.5 205.5L213.9 205.4L214.3 201.0L214.7 192.2L215.1 177.7L215.5 166.3L215.8 163.6L216.3 169.3L216.7 181.8L217.1 194.1L217.6 197.9L218.0 205.8L218.4 209.0L218.8 212.1L219.2 212.6L219.6 211.6L220.0 214.0L220.4 216.4L220.8 215.4L221.2 214.5L221.6 215.0L222.0 216.9L222.4 215.6L222.8 214.4L223.2 215.2L223.7 216.3L224.1 216.6L224.5 215.6L224.9 218.2L225.3 218.6L225.7 218.6L226.1 218.5L226.5 217.4L226.9 220.2L227.3 218.2L227.7 218.8L228.1 218.7L228.5 220.9L228.9 218.0L229.3 219.6L229.8 219.2L230.2 219.9L230.6 217.1L231.0 219.0L231.4 220.8L231.8 221.8L232.2 220.7L232.6 219.3L233.0 219.0L233.4 219.1L233.8 218.3L234.2 219.7L234.6 220.8L235.0 220.3L235.4 220.1L235.9 219.3L236.3 220.3L236.7 219.3L237.1 220.9L237.5 221.0L237.9 221.5L238.3 221.4L238.3 227.5"/></defs>
<use href="#s25" fill="#0c820c" stroke="#0c820c" stroke-width="1.1"/>
<use href="#s25" y="2.74" fill="#000"/>
<use href="#s25" y="1.99" fill="#000" clip-path="url(#tailclip)"/>
<rect x="237.6" y="223.4" width="5.6" height="4.2" fill="#000"/>
<defs><path id="s26" d="M13.0 231.5L13.0 225.1L13.4 221.6L13.8 218.2L14.2 222.7L14.6 220.7L15.0 219.0L15.4 221.9L15.8 224.1L16.2 221.4L16.6 221.8L17.0 221.2L17.4 221.2L17.8 221.1L18.2 220.2L18.7 221.4L19.1 220.9L19.5 221.6L19.9 222.4L20.3 220.3L20.7 221.5L21.1 219.2L21.5 218.7L21.9 214.4L22.3 199.2L22.6 177.0L22.9 153.0L23.1 168.1L23.2 173.5L23.5 206.7L23.9 215.2L24.3 217.1L24.8 221.5L25.2 220.4L25.6 218.4L26.0 219.4L26.4 222.4L26.8 219.7L27.2 219.0L27.6 217.8L28.0 219.1L28.4 219.6L28.8 218.4L29.2 221.4L29.6 217.1L30.0 217.8L30.4 217.9L30.9 216.5L31.3 215.7L31.7 221.3L32.1 218.1L32.5 219.3L32.9 221.2L33.3 218.9L33.7 218.0L34.1 218.8L34.5 221.0L34.9 220.4L35.3 222.2L35.7 216.6L36.1 220.3L36.5 218.9L37.0 216.9L37.4 220.8L37.8 221.6L38.2 224.9L38.6 222.5L39.0 223.6L39.4 221.3L39.8 221.1L40.2 220.6L40.6 220.4L41.0 221.3L41.4 220.5L41.8 220.5L42.2 221.7L42.6 221.3L43.1 221.6L43.5 223.0L43.9 221.2L44.3 223.9L44.7 220.3L45.1 220.0L45.5 219.5L45.9 217.3L46.3 216.9L46.7 219.1L47.1 218.3L47.5 216.1L47.9 217.5L48.3 216.6L48.7 215.6L49.2 217.1L49.6 213.9L50.0 212.1L50.4 208.2L50.8 201.2L51.2 192.8L51.7 189.4L52.0 191.1L52.4 197.9L52.8 206.0L53.2 208.7L53.6 212.1L54.0 215.0L54.4 213.4L54.9 214.7L55.3 217.0L55.7 215.8L56.1 215.6L56.5 215.1L56.9 212.1L57.3 214.6L57.7 214.4L58.1 217.5L58.5 217.6L58.9 217.8L59.3 219.1L59.7 218.9L60.1 220.3L60.5 218.7L61.0 221.1L61.4 217.2L61.8 225.7L62.2 224.6L62.6 221.9L63.0 220.1L63.4 219.9L63.8 223.1L64.2 220.5L64.6 222.0L65.0 220.5L65.4 221.1L65.8 221.1L66.2 223.4L66.6 223.7L67.1 222.5L67.5 223.0L67.9 220.8L68.3 223.0L68.7 220.8L69.1 219.5L69.5 221.4L69.9 222.4L70.3 221.7L70.7 219.3L71.1 217.3L71.5 215.4L71.9 218.4L72.3 218.5L72.7 219.2L73.2 219.9L73.6 222.1L74.0 221.5L74.4 218.5L74.8 217.1L75.2 220.1L75.6 223.0L76.0 217.5L76.4 219.1L76.8 218.7L77.2 219.8L77.6 223.1L78.0 220.3L78.4 221.5L78.8 220.5L79.3 220.6L79.7 219.7L80.1 214.1L80.5 213.6L80.9 219.7L81.3 221.2L81.7 220.2L82.1 220.5L82.5 218.1L82.9 216.0L83.3 219.6L83.7 218.5L84.1 219.6L84.5 223.1L84.9 218.6L85.4 216.2L85.8 219.9L86.2 218.6L86.6 220.2L87.0 220.0L87.4 220.6L87.8 220.2L88.2 219.7L88.6 220.7L89.0 219.4L89.4 221.8L89.8 218.7L90.2 220.9L90.6 223.3L91.0 219.2L91.5 219.8L91.9 220.3L92.3 217.7L92.7 218.5L93.1 214.9L93.5 216.4L93.9 220.1L94.3 219.4L94.7 219.1L95.1 218.1L95.5 213.9L95.9 210.9L96.3 211.8L96.7 214.8L97.1 215.8L97.6 217.1L98.0 222.0L98.4 217.2L98.8 214.4L99.2 218.1L99.6 218.5L100.0 219.9L100.4 219.5L100.8 220.5L101.2 221.4L101.6 217.4L102.0 221.8L102.4 217.9L102.8 220.4L103.2 219.6L103.7 222.6L104.1 218.7L104.5 220.3L104.9 214.5L105.3 218.6L105.7 217.8L106.1 216.7L106.5 219.2L106.9 219.7L107.3 220.1L107.7 217.1L108.1 216.3L108.5 214.2L108.9 217.4L109.3 217.1L109.8 215.0L110.2 215.2L110.6 214.4L111.0 213.1L111.4 214.8L111.8 217.3L112.2 216.8L112.6 217.9L113.0 218.1L113.4 213.4L113.8 213.8L114.2 211.5L114.6 214.1L115.0 214.2L115.4 215.6L115.9 212.1L116.3 208.3L116.7 205.2L117.1 207.0L117.5 206.9L117.9 207.4L118.3 211.6L118.7 211.7L119.1 214.4L119.5 214.8L119.9 216.2L120.3 218.4L120.7 218.1L121.1 216.2L121.5 216.3L122.0 215.8L122.4 216.6L122.8 214.1L123.2 215.0L123.6 214.0L124.0 215.0L124.4 211.7L124.8 212.5L125.2 211.0L125.6 206.0L126.0 205.9L126.4 207.2L126.8 203.4L127.2 199.0L127.6 201.8L128.1 206.0L128.5 207.4L128.9 212.1L129.3 209.9L129.7 210.9L130.1 213.1L130.5 211.3L130.9 214.5L131.3 216.7L131.7 213.8L132.1 214.4L132.5 215.2L132.9 213.1L133.3 214.6L133.7 213.7L134.2 214.2L134.6 212.6L135.0 213.2L135.4 215.3L135.8 212.4L136.2 214.8L136.6 211.8L137.0 216.2L137.4 215.2L137.8 219.1L138.2 215.3L138.6 212.3L139.0 214.4L139.4 213.5L139.8 214.3L140.3 211.4L140.7 212.3L141.1 212.3L141.5 210.8L141.9 214.7L142.3 211.5L142.7 210.8L143.1 207.6L143.5 207.8L143.9 206.1L144.3 206.5L144.7 209.0L145.1 209.9L145.5 210.2L146.0 212.9L146.4 211.6L146.8 211.9L147.2 207.7L147.6 209.6L148.0 209.1L148.4 208.1L148.8 205.4L149.2 206.9L149.6 204.9L150.0 194.9L150.4 193.4L150.7 193.4L151.2 193.1L151.6 197.9L152.1 203.9L152.5 204.6L152.9 209.2L153.3 206.3L153.7 209.3L154.1 209.4L154.5 210.2L154.9 206.9L155.3 211.0L155.7 210.7L156.1 206.3L156.5 211.9L156.9 210.4L157.3 207.5L157.7 206.1L158.2 202.4L158.6 196.8L159.0 194.6L159.4 187.0L159.8 175.8L160.1 171.3L160.6 184.9L161.0 190.0L161.4 195.0L161.8 202.2L162.2 206.6L162.6 209.7L163.0 209.9L163.4 212.2L163.8 210.0L164.3 212.1L164.7 210.9L165.1 214.4L165.5 211.3L165.9 210.8L166.3 210.1L166.7 211.2L167.1 207.8L167.5 209.1L167.9 211.2L168.3 209.0L168.7 211.6L169.1 211.2L169.5 207.9L169.9 210.0L170.4 209.2L170.8 208.0L171.2 208.1L171.6 209.7L172.0 208.6L172.4 206.6L172.8 210.7L173.2 214.2L173.6 213.6L174.0 214.8L174.4 214.8L174.8 213.8L175.2 208.9L175.6 208.0L176.0 206.1L176.5 207.4L176.9 206.7L177.3 210.0L177.7 208.6L178.1 209.4L178.5 211.0L178.9 214.8L179.3 215.7L179.7 213.5L180.1 215.2L180.5 214.1L180.9 213.7L181.3 210.7L181.7 213.3L182.1 212.6L182.6 213.3L183.0 213.7L183.4 211.4L183.8 209.2L184.2 212.3L184.6 207.1L185.0 202.7L185.4 203.3L185.8 200.4L186.2 198.6L186.6 192.2L187.0 184.2L187.4 181.2L187.8 181.6L188.2 191.3L188.7 197.6L189.1 201.0L189.5 204.9L189.9 207.6L190.3 209.0L190.7 208.9L191.1 213.1L191.5 206.1L191.9 206.6L192.3 209.5L192.7 210.6L193.1 212.5L193.5 211.2L193.9 215.5L194.3 209.4L194.8 212.9L195.2 215.6L195.6 210.3L196.0 212.1L196.4 211.6L196.8 212.4L197.2 212.3L197.6 207.2L198.0 211.4L198.4 206.6L198.8 204.2L199.4 200.5L199.6 200.5L200.0 206.7L200.4 206.6L200.9 208.4L201.3 208.8L201.7 211.0L202.1 208.9L202.5 209.4L202.9 205.6L203.3 201.2L203.7 200.0L204.1 205.0L204.5 206.8L204.9 211.1L205.3 208.2L205.7 211.0L206.1 215.0L206.5 217.0L207.0 212.7L207.4 215.4L207.8 213.8L208.2 214.5L208.6 214.2L209.0 214.4L209.4 213.2L209.8 209.4L210.2 211.7L210.6 208.8L211.0 206.1L211.4 204.6L211.8 200.7L212.2 192.6L212.6 178.2L213.1 166.1L213.3 160.9L213.9 171.8L214.3 185.2L214.7 195.5L215.1 201.9L215.5 206.5L215.9 208.3L216.3 212.7L216.7 211.5L217.1 210.7L217.5 213.9L217.9 214.3L218.3 217.9L218.7 217.1L219.2 219.9L219.6 216.7L220.0 217.5L220.4 216.1L220.8 216.7L221.2 218.8L221.6 218.3L222.0 217.7L222.4 216.9L222.8 219.0L223.2 219.3L223.6 220.6L224.0 220.0L224.4 220.0L224.8 219.3L225.3 220.7L225.7 221.0L226.1 220.9L226.5 221.5L226.9 219.8L227.3 223.1L227.7 223.9L228.1 223.1L228.5 221.8L228.9 222.0L229.3 221.7L229.7 223.5L230.1 222.2L230.5 221.8L230.9 220.7L231.4 221.1L231.8 222.6L232.2 223.2L232.6 223.8L233.0 223.5L233.4 223.0L233.8 221.7L234.2 220.9L234.6 222.0L235.0 222.0L235.4 222.7L235.8 223.9L235.8 231.5"/></defs>
<use href="#s26" fill="#0c820c" stroke="#0c820c" stroke-width="1.1"/>
<use href="#s26" y="2.22" fill="#000"/>
<use href="#s26" y="1.47" fill="#000" clip-path="url(#tailclip)"/>
<rect x="235.1" y="227.4" width="5.6" height="4.2" fill="#000"/>
<defs><path id="s27" d="M10.5 235.4L10.5 225.3L10.9 224.9L11.3 226.7L11.7 225.5L12.1 223.3L12.5 224.1L12.9 227.0L13.3 223.8L13.8 224.6L14.2 224.1L14.6 225.5L15.0 226.7L15.4 226.3L15.8 228.6L16.2 227.1L16.6 226.2L17.0 224.3L17.4 229.6L17.8 224.5L18.2 222.6L18.6 222.7L19.0 221.7L19.4 216.4L19.9 194.3L20.1 157.1L20.4 123.9L20.7 148.9L20.7 158.7L21.1 206.4L21.5 221.0L21.9 222.7L22.3 221.4L22.7 223.8L23.1 221.7L23.5 224.2L23.9 225.2L24.3 223.9L24.7 221.5L25.1 224.9L25.5 225.1L26.0 224.9L26.4 225.2L26.8 222.6L27.2 221.5L27.6 221.4L28.0 223.1L28.4 221.5L28.8 225.5L29.2 223.6L29.6 220.6L30.0 225.1L30.4 224.9L30.8 223.3L31.2 228.4L31.6 225.4L32.1 224.8L32.5 224.1L32.9 224.4L33.3 225.0L33.7 230.3L34.1 227.2L34.5 226.0L34.9 225.4L35.3 226.2L35.7 222.4L36.1 224.4L36.5 225.5L36.9 227.2L37.3 225.2L37.7 224.5L38.2 223.9L38.6 225.2L39.0 223.2L39.4 222.6L39.8 224.5L40.2 224.3L40.6 224.7L41.0 225.6L41.4 224.6L41.8 223.0L42.2 223.2L42.6 224.7L43.0 226.6L43.4 225.5L43.8 221.2L44.3 223.6L44.7 226.7L45.1 224.2L45.5 223.3L45.9 220.8L46.3 224.7L46.7 218.4L47.1 218.5L47.5 211.6L47.9 205.5L48.3 203.5L48.7 192.9L49.3 183.9L49.5 187.6L49.9 191.8L50.4 202.4L50.8 209.0L51.2 214.1L51.6 219.9L52.0 217.9L52.4 219.9L52.8 220.3L53.2 218.3L53.6 218.2L54.0 219.5L54.4 219.2L54.8 218.2L55.2 221.4L55.6 222.5L56.0 219.2L56.5 220.1L56.9 223.6L57.3 222.5L57.7 223.9L58.1 226.3L58.5 230.5L58.9 226.2L59.3 222.1L59.7 221.9L60.1 226.9L60.5 225.6L60.9 223.1L61.3 222.4L61.7 222.4L62.1 222.9L62.6 225.3L63.0 223.9L63.4 225.5L63.8 227.7L64.2 225.3L64.6 223.3L65.0 228.4L65.4 227.2L65.8 224.2L66.2 224.4L66.6 228.0L67.0 225.5L67.4 226.5L67.8 223.3L68.2 226.7L68.7 226.9L69.1 226.4L69.5 225.4L69.9 225.7L70.3 225.2L70.7 226.8L71.1 225.2L71.5 227.3L71.9 226.6L72.3 224.0L72.7 225.4L73.1 224.8L73.5 224.7L73.9 221.8L74.3 222.0L74.8 219.4L75.2 224.0L75.6 224.1L76.0 223.0L76.4 221.7L76.8 223.1L77.2 221.6L77.6 223.0L78.0 216.7L78.4 215.0L78.8 220.3L79.2 218.3L79.6 221.9L80.0 219.9L80.4 222.7L80.9 224.2L81.3 223.3L81.7 226.4L82.1 228.8L82.5 221.0L82.9 224.9L83.3 227.0L83.7 224.1L84.1 221.1L84.5 223.1L84.9 221.4L85.3 226.1L85.7 228.4L86.1 226.9L86.5 227.1L87.0 222.3L87.4 224.6L87.8 223.6L88.2 222.2L88.6 226.1L89.0 225.9L89.4 226.0L89.8 224.6L90.2 220.0L90.6 223.3L91.0 225.2L91.4 223.0L91.8 222.5L92.2 220.5L92.6 224.0L93.1 221.2L93.5 220.3L93.9 219.9L94.3 222.2L94.7 226.4L95.1 224.8L95.5 222.7L95.9 220.8L96.3 218.7L96.7 220.2L97.1 220.8L97.5 223.9L97.9 223.2L98.3 224.3L98.7 222.4L99.2 226.1L99.6 224.3L100.0 224.0L100.4 224.3L100.8 220.9L101.2 221.2L101.6 224.3L102.0 224.2L102.4 225.2L102.8 225.0L103.2 224.2L103.6 222.0L104.0 218.6L104.4 222.4L104.9 222.6L105.3 222.3L105.7 219.7L106.1 221.1L106.5 219.9L106.9 220.2L107.3 217.7L107.7 218.9L108.1 217.6L108.5 215.2L108.9 217.5L109.3 220.6L109.7 217.8L110.1 218.0L110.5 220.4L111.0 222.1L111.4 218.6L111.8 217.1L112.2 219.2L112.6 218.9L113.0 217.9L113.4 216.1L113.8 210.6L114.2 209.5L114.6 208.9L115.0 209.4L115.4 215.5L115.8 215.8L116.2 214.7L116.6 215.9L117.1 217.0L117.5 221.8L117.9 222.2L118.3 219.6L118.7 216.7L119.1 220.8L119.5 223.2L119.9 219.0L120.3 218.5L120.7 217.1L121.1 215.7L121.5 218.1L121.9 219.1L122.3 213.5L122.7 214.8L123.2 214.6L123.6 210.7L124.0 207.1L124.4 204.8L124.8 199.8L125.2 201.8L125.6 203.7L126.0 209.8L126.4 213.8L126.8 215.8L127.2 217.0L127.6 217.9L128.0 219.3L128.4 217.6L128.8 221.4L129.3 221.9L129.7 224.9L130.1 221.3L130.5 218.5L130.9 216.8L131.3 219.8L131.7 219.0L132.1 220.5L132.5 218.5L132.9 221.5L133.3 220.2L133.7 219.1L134.1 222.7L134.5 223.3L134.9 219.0L135.4 219.7L135.8 219.8L136.2 217.6L136.6 222.1L137.0 221.5L137.4 221.5L137.8 215.1L138.2 220.0L138.6 219.1L139.0 218.3L139.4 218.4L139.8 216.8L140.2 217.7L140.6 213.9L141.0 211.7L141.5 209.4L141.9 212.0L142.3 210.8L142.7 215.1L143.1 214.6L143.5 209.3L143.9 212.9L144.3 215.1L144.7 213.0L145.1 214.8L145.5 214.2L145.9 209.5L146.3 210.5L146.7 205.7L147.1 203.2L147.6 200.5L148.0 194.4L148.2 191.4L148.8 194.8L149.2 203.1L149.6 209.9L150.0 208.8L150.4 210.3L150.8 214.1L151.2 214.1L151.6 214.2L152.0 213.1L152.4 214.1L152.8 213.4L153.2 213.6L153.7 212.4L154.1 210.0L154.5 211.9L154.9 211.0L155.3 206.9L155.7 203.1L156.1 197.8L156.5 185.6L156.9 177.3L157.3 163.4L157.6 157.1L158.1 171.2L158.5 178.2L158.9 191.0L159.3 198.7L159.8 203.6L160.2 203.3L160.6 211.0L161.0 214.4L161.4 217.1L161.8 215.4L162.2 217.4L162.6 215.3L163.0 217.8L163.4 219.5L163.8 215.0L164.2 217.0L164.6 216.2L165.0 217.3L165.4 215.4L165.9 211.7L166.3 212.2L166.7 212.8L167.1 212.9L167.5 209.6L167.9 210.8L168.3 205.3L168.7 205.1L169.1 207.2L169.5 209.4L169.9 213.3L170.3 213.6L170.7 217.3L171.1 215.7L171.5 213.1L172.0 212.9L172.4 212.1L172.8 210.8L173.2 209.7L173.6 207.4L174.0 210.3L174.4 209.9L174.8 214.0L175.2 215.5L175.6 213.7L176.0 218.8L176.4 213.6L176.8 214.5L177.2 215.9L177.6 216.2L178.1 214.5L178.5 216.8L178.9 216.1L179.3 219.3L179.7 219.7L180.1 218.7L180.5 216.7L180.9 216.4L181.3 214.2L181.7 210.8L182.1 209.4L182.5 209.8L182.9 202.5L183.3 201.2L183.7 189.6L184.2 178.7L184.6 167.7L185.0 161.9L185.4 165.0L185.8 176.9L186.2 186.9L186.6 199.8L187.0 204.0L187.4 208.7L187.8 210.1L188.2 209.0L188.6 211.5L189.0 210.2L189.4 208.2L189.8 209.7L190.3 209.9L190.7 209.3L191.1 211.9L191.5 214.5L191.9 217.2L192.3 217.5L192.7 217.9L193.1 217.3L193.5 219.6L193.9 220.9L194.3 217.4L194.7 215.7L195.1 211.0L195.5 205.8L196.0 201.8L196.4 195.1L196.9 192.3L197.2 193.6L197.6 197.0L198.0 203.6L198.4 207.9L198.8 213.6L199.2 212.5L199.6 210.5L200.0 208.3L200.4 208.1L200.8 202.1L201.2 199.9L201.6 199.2L202.1 199.2L202.5 209.9L202.9 211.7L203.3 214.6L203.7 216.7L204.1 215.9L204.5 215.1L204.9 218.5L205.3 219.1L205.7 218.8L206.1 216.8L206.5 222.3L206.9 218.7L207.3 215.6L207.7 211.7L208.2 212.6L208.6 211.4L209.0 207.4L209.4 201.2L209.8 196.9L210.2 186.1L210.6 172.9L210.9 167.9L211.4 179.2L211.8 191.8L212.2 204.0L212.6 212.4L213.0 210.2L213.4 215.2L213.8 216.0L214.3 217.6L214.7 218.4L215.1 223.7L215.5 220.5L215.9 221.2L216.3 223.2L216.7 223.5L217.1 219.5L217.5 220.9L217.9 223.7L218.3 223.4L218.7 222.7L219.1 223.0L219.5 224.6L219.9 225.0L220.4 225.9L220.8 224.8L221.2 226.0L221.6 224.0L222.0 224.6L222.4 225.1L222.8 223.6L223.2 226.2L223.6 226.7L224.0 227.0L224.4 228.1L224.8 226.0L225.2 228.1L225.6 226.6L226.0 227.2L226.5 226.8L226.9 227.5L227.3 226.9L227.7 228.0L228.1 227.5L228.5 227.2L228.9 226.8L229.3 226.4L229.7 225.2L230.1 225.2L230.5 225.6L230.9 227.0L231.3 228.2L231.7 227.1L232.1 227.2L232.6 227.5L233.0 227.1L233.4 227.2L233.4 235.4"/></defs>
<use href="#s27" fill="#0c820c" stroke="#0c820c" stroke-width="1.1"/>
<use href="#s27" y="2.26" fill="#000"/>
<use href="#s27" y="1.51" fill="#000" clip-path="url(#tailclip)"/>
<rect x="232.6" y="231.3" width="5.6" height="4.2" fill="#000"/>
<defs><path id="s28" d="M8.0 239.4L8.0 228.8L8.4 229.2L8.8 229.2L9.3 228.7L9.7 232.3L10.1 228.6L10.5 232.1L10.9 232.4L11.3 235.1L11.7 231.7L12.1 229.8L12.5 230.6L12.9 232.2L13.3 234.8L13.7 230.5L14.1 232.1L14.5 231.1L14.9 229.5L15.4 229.3L15.8 228.1L16.2 225.0L16.6 224.5L17.0 224.0L17.4 198.9L17.7 156.0L18.0 122.0L18.2 146.8L18.2 156.0L18.6 207.7L19.0 223.2L19.4 223.1L19.8 227.9L20.2 227.4L20.6 224.5L21.0 224.8L21.5 227.2L21.9 230.0L22.3 229.3L22.7 230.5L23.1 230.5L23.5 232.8L23.9 230.9L24.3 233.1L24.7 228.1L25.1 226.9L25.5 227.6L25.9 226.2L26.3 225.3L26.7 226.2L27.1 226.4L27.6 228.0L28.0 227.6L28.4 230.0L28.8 229.4L29.2 226.4L29.6 229.9L30.0 231.1L30.4 228.3L30.8 228.6L31.2 229.0L31.6 229.1L32.0 230.2L32.4 230.8L32.8 229.1L33.2 229.2L33.7 228.2L34.1 228.4L34.5 224.9L34.9 227.8L35.3 226.3L35.7 228.1L36.1 224.7L36.5 226.1L36.9 229.7L37.3 226.7L37.7 229.5L38.1 227.5L38.5 230.0L38.9 228.8L39.3 228.6L39.8 226.2L40.2 231.9L40.6 233.2L41.0 228.1L41.4 226.8L41.8 228.4L42.2 227.6L42.6 230.4L43.0 228.4L43.4 227.6L43.8 223.7L44.2 222.3L44.6 220.9L45.0 215.3L45.4 212.8L45.9 203.4L46.3 194.8L46.8 185.9L47.1 189.7L47.5 196.1L47.9 207.6L48.3 210.0L48.7 215.1L49.1 220.8L49.5 222.4L49.9 219.6L50.3 218.4L50.7 222.5L51.1 221.5L51.5 220.9L52.0 218.7L52.4 221.7L52.8 225.1L53.2 224.6L53.6 226.4L54.0 229.0L54.4 228.6L54.8 228.9L55.2 229.1L55.6 228.7L56.0 228.2L56.4 230.2L56.8 228.3L57.2 231.8L57.6 228.9L58.1 228.2L58.5 228.2L58.9 231.7L59.3 231.1L59.7 229.6L60.1 228.7L60.5 227.7L60.9 231.6L61.3 230.1L61.7 227.8L62.1 231.1L62.5 232.3L62.9 231.3L63.3 230.7L63.8 230.4L64.2 227.6L64.6 228.2L65.0 232.5L65.4 229.0L65.8 229.2L66.2 227.7L66.6 228.9L67.0 226.6L67.4 228.2L67.8 229.9L68.2 231.8L68.6 228.4L69.0 229.3L69.4 232.6L69.9 229.0L70.3 226.6L70.7 232.1L71.1 229.0L71.5 227.9L71.9 225.3L72.3 225.4L72.7 228.9L73.1 227.8L73.5 226.6L73.9 230.1L74.3 225.5L74.7 225.3L75.1 223.9L75.5 226.3L76.0 223.7L76.4 224.9L76.8 226.3L77.2 226.8L77.6 226.6L78.0 230.3L78.4 228.9L78.8 228.0L79.2 231.4L79.6 226.6L80.0 223.1L80.4 225.6L80.8 227.7L81.2 230.4L81.6 231.5L82.1 232.1L82.5 228.2L82.9 230.3L83.3 228.9L83.7 229.7L84.1 227.4L84.5 226.0L84.9 226.0L85.3 226.6L85.7 225.8L86.1 224.6L86.5 228.7L86.9 228.0L87.3 229.3L87.7 228.4L88.2 228.4L88.6 227.6L89.0 225.8L89.4 228.7L89.8 231.8L90.2 227.2L90.6 223.9L91.0 225.7L91.4 223.1L91.8 221.4L92.2 224.9L92.6 227.0L93.0 226.4L93.4 226.0L93.8 230.0L94.3 227.9L94.7 231.8L95.1 231.4L95.5 228.7L95.9 227.8L96.3 230.2L96.7 228.8L97.1 225.8L97.5 230.3L97.9 227.7L98.3 225.6L98.7 229.6L99.1 226.4L99.5 226.4L99.9 227.9L100.4 227.6L100.8 227.7L101.2 227.3L101.6 227.7L102.0 228.6L102.4 225.8L102.8 222.8L103.2 225.1L103.6 222.2L104.0 224.7L104.4 225.7L104.8 222.1L105.2 221.6L105.6 222.1L106.0 225.4L106.5 226.0L106.9 223.7L107.3 222.2L107.7 223.9L108.1 224.4L108.5 230.0L108.9 228.1L109.3 223.3L109.7 220.3L110.1 223.4L110.5 226.6L110.9 220.5L111.3 219.7L111.7 215.5L112.1 213.8L112.6 214.6L113.0 218.7L113.4 218.8L113.8 220.7L114.2 224.9L114.6 227.3L115.0 221.4L115.4 222.6L115.8 223.5L116.2 227.5L116.6 221.6L117.0 225.5L117.4 224.6L117.8 223.8L118.2 225.2L118.7 223.8L119.1 223.9L119.5 226.3L119.9 225.0L120.3 222.0L120.7 218.8L121.1 213.5L121.5 205.5L121.9 202.6L122.3 194.8L122.7 199.3L123.1 204.2L123.5 210.5L123.9 217.7L124.3 218.9L124.8 220.4L125.2 223.0L125.6 221.3L126.0 221.9L126.4 223.6L126.8 225.5L127.2 224.0L127.6 225.8L128.0 226.5L128.4 226.3L128.8 223.4L129.2 224.9L129.6 225.1L130.0 225.6L130.4 223.9L130.9 224.9L131.3 223.1L131.7 224.6L132.1 222.9L132.5 224.7L132.9 225.9L133.3 224.3L133.7 224.6L134.1 225.2L134.5 221.6L134.9 224.0L135.3 225.0L135.7 224.5L136.1 220.5L136.5 224.0L137.0 219.9L137.4 219.3L137.8 219.6L138.2 218.6L138.6 217.4L139.0 218.2L139.4 216.3L139.8 217.5L140.2 219.6L140.6 219.2L141.0 217.5L141.4 220.2L141.8 219.8L142.2 220.4L142.6 218.9L143.1 216.6L143.5 212.7L143.9 210.8L144.3 207.4L144.7 200.5L145.1 194.0L145.5 188.6L145.8 186.7L146.3 191.4L146.7 201.6L147.1 208.6L147.5 211.3L147.9 217.3L148.3 217.4L148.7 218.3L149.2 217.6L149.6 217.1L150.0 215.4L150.4 221.7L150.8 218.6L151.2 217.1L151.6 213.4L152.0 215.2L152.4 212.0L152.8 209.9L153.2 206.9L153.6 198.5L154.0 186.1L154.4 174.3L154.9 160.5L155.2 154.9L155.7 166.8L156.1 182.4L156.5 193.5L156.9 201.7L157.3 207.0L157.7 209.6L158.1 212.9L158.5 218.3L158.9 221.6L159.3 220.6L159.7 217.1L160.1 219.5L160.5 221.3L161.0 221.0L161.4 220.3L161.8 219.1L162.2 223.2L162.6 221.0L163.0 220.8L163.4 219.7L163.8 218.2L164.2 223.4L164.6 218.5L165.0 216.7L165.4 217.0L165.8 215.5L166.2 213.0L166.6 218.5L167.1 216.9L167.5 217.6L167.9 216.0L168.3 220.7L168.7 221.7L169.1 219.1L169.5 219.7L169.9 218.1L170.3 221.7L170.7 212.6L171.1 216.1L171.5 217.6L171.9 215.6L172.3 216.8L172.7 220.3L173.2 224.9L173.6 221.6L174.0 221.6L174.4 223.6L174.8 222.7L175.2 223.5L175.6 224.8L176.0 221.7L176.4 222.2L176.8 221.8L177.2 224.1L177.6 223.4L178.0 222.3L178.4 221.7L178.8 219.4L179.3 217.9L179.7 216.9L180.1 214.4L180.5 210.2L180.9 203.5L181.3 200.0L181.7 187.7L182.1 177.3L182.5 172.1L182.9 179.0L183.3 188.0L183.7 194.1L184.1 206.0L184.5 208.8L184.9 213.0L185.4 212.3L185.8 214.9L186.2 214.8L186.6 216.7L187.0 216.3L187.4 210.9L187.8 215.2L188.2 216.9L188.6 218.7L189.0 221.9L189.4 220.2L189.8 223.0L190.2 221.8L190.6 221.5L191.0 224.9L191.5 221.1L191.9 222.2L192.3 218.3L192.7 219.4L193.1 213.2L193.5 204.0L193.9 195.4L194.5 186.5L194.7 186.3L195.1 195.1L195.5 204.5L195.9 210.4L196.3 211.9L196.7 216.3L197.1 216.7L197.6 213.4L198.0 205.7L198.4 205.0L198.8 200.3L199.2 203.8L199.6 207.1L200.0 212.5L200.4 216.7L200.8 217.9L201.2 220.9L201.6 225.2L202.0 219.8L202.4 222.6L202.8 222.7L203.2 222.2L203.7 224.8L204.1 225.1L204.5 225.4L204.9 223.0L205.3 221.7L205.7 221.3L206.1 222.6L206.5 220.7L206.9 218.6L207.3 213.8L207.7 205.3L208.1 195.8L208.4 192.2L208.9 202.6L209.3 207.3L209.8 213.2L210.2 214.5L210.6 218.0L211.0 224.3L211.4 223.6L211.8 224.0L212.2 224.7L212.6 226.9L213.0 224.3L213.4 225.7L213.8 227.9L214.2 231.0L214.6 229.5L215.0 231.0L215.4 232.0L215.9 228.0L216.3 228.6L216.7 227.8L217.1 227.7L217.5 227.9L217.9 229.4L218.3 230.6L218.7 230.3L219.1 229.9L219.5 230.2L219.9 230.5L220.3 230.4L220.7 231.8L221.1 230.1L221.5 231.6L222.0 231.0L222.4 231.7L222.8 230.1L223.2 231.2L223.6 232.0L224.0 231.7L224.4 230.7L224.8 232.2L225.2 232.8L225.6 232.3L226.0 231.1L226.4 234.1L226.8 231.6L227.2 229.2L227.6 230.9L228.1 230.3L228.5 231.3L228.9 233.2L229.3 232.6L229.7 231.3L230.1 232.6L230.5 232.2L230.9 232.6L230.9 239.4"/></defs>
<use href="#s28" fill="#0c820c" stroke="#0c820c" stroke-width="1.1"/>
<use href="#s28" y="2.30" fill="#000"/>
<use href="#s28" y="1.55" fill="#000" clip-path="url(#tailclip)"/>
<rect x="230.2" y="235.3" width="5.6" height="4.2" fill="#000"/>
<defs><path id="s29" d="M5.6 243.3L5.6 235.5L6.0 234.1L6.4 233.2L6.8 231.7L7.2 235.5L7.6 234.7L8.0 232.2L8.4 231.5L8.8 233.2L9.2 234.5L9.6 237.6L10.0 235.8L10.4 231.0L10.9 234.5L11.3 228.7L11.7 230.8L12.1 231.2L12.5 232.8L12.9 234.2L13.3 236.5L13.7 232.3L14.1 230.4L14.5 226.6L14.9 209.8L15.2 177.4L15.5 151.1L15.7 170.3L15.8 178.2L16.1 219.1L16.5 226.8L17.0 229.4L17.4 229.8L17.8 232.2L18.2 232.1L18.6 234.1L19.0 229.4L19.4 234.4L19.8 233.8L20.2 235.0L20.6 234.1L21.0 232.1L21.4 229.0L21.8 233.9L22.2 233.5L22.6 235.9L23.1 232.5L23.5 229.4L23.9 235.7L24.3 230.6L24.7 233.6L25.1 234.3L25.5 234.0L25.9 234.5L26.3 234.6L26.7 233.2L27.1 236.6L27.5 231.1L27.9 229.9L28.3 233.1L28.8 233.4L29.2 234.7L29.6 236.0L30.0 237.2L30.4 229.9L30.8 229.5L31.2 231.4L31.6 231.9L32.0 230.6L32.4 231.8L32.8 232.6L33.2 234.1L33.6 230.2L34.0 233.0L34.4 230.7L34.9 229.4L35.3 230.8L35.7 229.0L36.1 228.0L36.5 229.8L36.9 233.0L37.3 230.1L37.7 229.3L38.1 229.9L38.5 231.8L38.9 230.8L39.3 235.4L39.7 229.9L40.1 225.3L40.5 226.8L41.0 229.7L41.4 225.1L41.8 224.2L42.2 225.4L42.6 224.6L43.0 219.8L43.4 211.8L43.8 197.0L44.3 190.0L44.6 191.4L45.0 199.8L45.4 209.9L45.8 213.7L46.2 220.8L46.6 221.6L47.1 220.8L47.5 221.2L47.9 223.5L48.3 221.8L48.7 225.2L49.1 223.7L49.5 228.0L49.9 229.3L50.3 233.9L50.7 230.1L51.1 231.5L51.5 230.6L51.9 229.6L52.3 227.8L52.7 228.0L53.2 235.4L53.6 231.1L54.0 230.3L54.4 230.3L54.8 233.1L55.2 233.8L55.6 233.4L56.0 234.3L56.4 229.3L56.8 230.8L57.2 233.6L57.6 233.4L58.0 232.8L58.4 233.6L58.8 233.8L59.3 231.0L59.7 230.6L60.1 234.0L60.5 235.8L60.9 233.2L61.3 231.3L61.7 233.0L62.1 232.0L62.5 230.3L62.9 231.0L63.3 231.1L63.7 233.3L64.1 234.7L64.5 233.4L64.9 232.9L65.4 229.2L65.8 232.1L66.2 234.1L66.6 235.0L67.0 238.4L67.4 234.0L67.8 228.5L68.2 231.4L68.6 233.8L69.0 235.1L69.4 232.1L69.8 232.8L70.2 234.8L70.6 232.9L71.0 233.3L71.5 229.9L71.9 234.4L72.3 234.0L72.7 233.2L73.1 230.2L73.5 229.7L73.9 229.7L74.3 229.6L74.7 230.4L75.1 228.2L75.5 233.1L75.9 232.2L76.3 233.5L76.7 233.3L77.1 233.2L77.6 234.8L78.0 233.6L78.4 233.1L78.8 233.4L79.2 230.4L79.6 232.7L80.0 231.5L80.4 232.0L80.8 232.6L81.2 235.8L81.6 232.0L82.0 232.1L82.4 233.9L82.8 229.1L83.2 231.3L83.7 232.5L84.1 233.3L84.5 233.3L84.9 231.9L85.3 232.5L85.7 232.0L86.1 233.2L86.5 230.8L86.9 229.2L87.3 228.2L87.7 233.3L88.1 230.2L88.5 229.8L88.9 227.9L89.3 231.3L89.8 231.3L90.2 230.7L90.6 231.4L91.0 233.6L91.4 231.6L91.8 229.1L92.2 226.6L92.6 227.5L93.0 228.3L93.4 232.8L93.8 230.7L94.2 231.2L94.6 235.9L95.0 232.4L95.4 229.5L95.9 232.1L96.3 229.8L96.7 229.2L97.1 232.6L97.5 232.3L97.9 231.7L98.3 229.8L98.7 230.8L99.1 229.2L99.5 228.8L99.9 229.8L100.3 228.2L100.7 223.6L101.1 226.3L101.5 226.6L102.0 228.1L102.4 224.8L102.8 227.5L103.2 230.3L103.6 228.5L104.0 228.7L104.4 228.4L104.8 230.0L105.2 232.1L105.6 232.3L106.0 228.3L106.4 226.8L106.8 225.8L107.2 227.6L107.6 228.9L108.1 228.8L108.5 225.5L108.9 221.1L109.3 218.3L109.7 217.0L110.1 216.0L110.5 220.9L110.9 224.3L111.3 225.8L111.7 228.5L112.1 228.3L112.5 228.5L112.9 228.9L113.3 229.0L113.7 226.2L114.2 227.1L114.6 230.5L115.0 224.4L115.4 225.8L115.8 229.0L116.2 226.0L116.6 222.7L117.0 224.9L117.4 225.5L117.8 222.7L118.2 223.5L118.6 219.4L119.0 213.2L119.4 207.5L119.9 205.1L120.3 207.7L120.7 213.1L121.1 218.0L121.5 219.3L121.9 218.3L122.3 220.3L122.7 221.3L123.1 221.0L123.5 223.0L123.9 226.1L124.3 224.0L124.7 227.8L125.1 230.2L125.5 228.5L126.0 229.6L126.4 230.9L126.8 228.1L127.2 228.5L127.6 230.1L128.0 230.4L128.4 226.8L128.8 225.6L129.2 225.9L129.6 229.5L130.0 226.8L130.4 227.7L130.8 227.2L131.2 228.0L131.6 229.2L132.1 227.5L132.5 227.1L132.9 224.9L133.3 226.8L133.7 226.1L134.1 225.5L134.5 227.3L134.9 226.2L135.3 222.2L135.7 221.4L136.1 223.3L136.5 220.7L136.9 219.4L137.3 219.7L137.7 221.0L138.2 222.2L138.6 224.8L139.0 224.2L139.4 222.3L139.8 224.8L140.2 222.9L140.6 221.5L141.0 220.4L141.4 220.6L141.8 218.9L142.2 215.2L142.6 210.2L143.0 203.6L143.3 204.6L143.8 208.5L144.3 213.0L144.7 214.5L145.1 215.0L145.5 223.3L145.9 222.3L146.3 225.8L146.7 226.2L147.1 222.2L147.5 225.4L147.9 228.7L148.3 224.6L148.7 222.6L149.1 224.4L149.5 221.4L149.9 220.9L150.4 212.2L150.8 210.1L151.2 203.4L151.6 194.2L152.0 190.6L152.4 180.4L152.7 173.0L153.2 180.5L153.6 191.4L154.0 200.4L154.4 206.6L154.8 214.0L155.2 217.6L155.6 217.5L156.0 220.8L156.5 219.6L156.9 225.5L157.3 226.3L157.7 226.2L158.1 226.2L158.5 227.4L158.9 225.8L159.3 225.3L159.7 224.9L160.1 229.2L160.5 226.9L160.9 227.7L161.3 224.5L161.7 225.3L162.1 224.0L162.6 218.7L163.0 217.2L163.4 219.5L163.8 221.8L164.2 221.8L164.6 223.8L165.0 222.4L165.4 221.2L165.8 222.2L166.2 223.0L166.6 225.3L167.0 225.0L167.4 226.3L167.8 223.4L168.2 221.9L168.7 222.1L169.1 219.3L169.5 220.2L169.9 222.2L170.3 222.4L170.7 223.2L171.1 224.2L171.5 226.1L171.9 227.4L172.3 226.7L172.7 226.8L173.1 228.0L173.5 226.9L173.9 223.7L174.3 221.9L174.8 226.4L175.2 228.2L175.6 226.3L176.0 221.9L176.4 223.9L176.8 224.8L177.2 223.8L177.6 217.9L178.0 214.0L178.4 211.2L178.8 203.3L179.2 195.5L179.6 187.7L180.1 188.0L180.4 190.2L180.9 192.4L181.3 204.1L181.7 213.3L182.1 218.4L182.5 219.9L182.9 220.0L183.3 222.0L183.7 219.3L184.1 221.5L184.5 221.2L184.9 219.6L185.3 217.2L185.7 218.4L186.1 222.5L186.5 227.8L187.0 226.3L187.4 225.7L187.8 228.1L188.2 229.3L188.6 227.0L189.0 225.1L189.4 222.9L189.8 220.6L190.2 221.8L190.6 213.2L191.0 207.2L191.4 204.6L192.0 197.3L192.2 197.8L192.6 204.2L193.1 210.1L193.5 218.1L193.9 221.2L194.3 221.4L194.7 222.1L195.1 216.4L195.5 213.9L195.9 211.1L196.3 209.0L196.7 207.2L197.1 214.9L197.5 222.0L197.9 221.6L198.3 222.1L198.7 224.7L199.2 225.5L199.6 227.1L200.0 227.3L200.4 230.1L200.8 227.8L201.2 223.2L201.6 222.7L202.0 224.6L202.4 226.6L202.8 222.4L203.2 220.6L203.6 225.8L204.0 216.8L204.4 215.1L204.8 205.7L205.3 195.5L205.7 183.3L206.0 181.7L206.5 189.7L206.9 203.0L207.3 211.2L207.7 217.4L208.1 224.5L208.5 225.2L208.9 227.1L209.3 224.1L209.7 225.5L210.1 231.6L210.5 226.9L211.0 226.7L211.4 226.9L211.8 228.0L212.2 230.9L212.6 232.0L213.0 230.5L213.4 228.6L213.8 230.3L214.2 232.7L214.6 231.3L215.0 229.9L215.4 231.6L215.8 234.1L216.2 233.2L216.6 233.4L217.1 232.7L217.5 234.1L217.9 233.5L218.3 234.0L218.7 233.4L219.1 233.6L219.5 233.9L219.9 233.7L220.3 233.5L220.7 233.3L221.1 235.2L221.5 235.1L221.9 234.8L222.3 235.6L222.7 232.8L223.2 232.4L223.6 235.1L224.0 235.8L224.4 234.1L224.8 234.6L225.2 233.4L225.6 235.6L226.0 235.4L226.4 234.5L226.8 234.6L227.2 235.1L227.6 233.9L228.0 235.0L228.4 234.2L228.4 243.3"/></defs>
<use href="#s29" fill="#0c820c" stroke="#0c820c" stroke-width="1.1"/>
<use href="#s29" y="2.98" fill="#000"/>
<use href="#s29" y="2.23" fill="#000" clip-path="url(#tailclip)"/>
<rect x="227.7" y="239.2" width="5.6" height="4.2" fill="#000"/>
</g>
<rect x="5.0" y="241.25" width="227.75" height="3.4" fill="#000"/>
<rect x="0" y="244.85" width="236.75" height="5" fill="#fff"/>
<line x1="5.0" y1="244.55" x2="232.75" y2="244.55" stroke="#000" stroke-width="1"/>
<line x1="12.35" y1="244.25" x2="12.35" y2="246.65" stroke="#222" stroke-width="0.8"/>
<line x1="30.71" y1="244.25" x2="30.71" y2="246.65" stroke="#222" stroke-width="0.8"/>
<line x1="49.08" y1="244.25" x2="49.08" y2="246.65" stroke="#222" stroke-width="0.8"/>
<line x1="67.45" y1="244.25" x2="67.45" y2="246.65" stroke="#222" stroke-width="0.8"/>
<line x1="85.81" y1="244.25" x2="85.81" y2="247.85" stroke="#222" stroke-width="0.8"/>
<line x1="104.18" y1="244.25" x2="104.18" y2="246.65" stroke="#222" stroke-width="0.8"/>
<line x1="122.55" y1="244.25" x2="122.55" y2="246.65" stroke="#222" stroke-width="0.8"/>
<line x1="140.92" y1="244.25" x2="140.92" y2="246.65" stroke="#222" stroke-width="0.8"/>
<line x1="159.28" y1="244.25" x2="159.28" y2="246.65" stroke="#222" stroke-width="0.8"/>
<line x1="177.65" y1="244.25" x2="177.65" y2="247.85" stroke="#222" stroke-width="0.8"/>
<line x1="196.02" y1="244.25" x2="196.02" y2="246.65" stroke="#222" stroke-width="0.8"/>
<line x1="214.38" y1="244.25" x2="214.38" y2="246.65" stroke="#222" stroke-width="0.8"/>
<line x1="232.75" y1="244.25" x2="232.75" y2="246.65" stroke="#222" stroke-width="0.8"/>
<text x="85.8" y="258.2" font-family='"Liberation Sans", sans-serif' font-size="8.7" font-weight="normal" text-anchor="middle" fill="#1a1a1a" textLength="15.8" lengthAdjust="spacingAndGlyphs">1000</text>
<text x="177.6" y="258.2" font-family='"Liberation Sans", sans-serif' font-size="8.7" font-weight="normal" text-anchor="middle" fill="#1a1a1a" textLength="15.8" lengthAdjust="spacingAndGlyphs">1500</text>
<text x="119" y="268.2" font-family='"Liberation Serif", serif' font-size="7.9" font-weight="bold" text-anchor="middle" >Raman shift (cm<tspan dy="-2.6" font-size="5.3">-1</tspan><tspan dy="2.6">)</tspan></text>
<line x1="232.75" y1="244.25" x2="305.65" y2="127.35" stroke="#555" stroke-width="0.9"/>
<rect x="302.9" y="126.1" width="1.3" height="1.3" fill="#fff" opacity="0.9"/>
<rect x="300.4" y="130.0" width="1.3" height="1.3" fill="#fff" opacity="0.9"/>
<rect x="297.9" y="134.0" width="1.3" height="1.3" fill="#fff" opacity="0.9"/>
<rect x="295.5" y="137.9" width="1.3" height="1.3" fill="#fff" opacity="0.9"/>
<rect x="293.0" y="141.9" width="1.3" height="1.3" fill="#fff" opacity="0.9"/>
<rect x="290.6" y="145.8" width="1.3" height="1.3" fill="#fff" opacity="0.9"/>
<rect x="288.1" y="149.8" width="1.3" height="1.3" fill="#fff" opacity="0.9"/>
<rect x="285.6" y="153.7" width="1.3" height="1.3" fill="#fff" opacity="0.9"/>
<rect x="283.2" y="157.7" width="1.3" height="1.3" fill="#fff" opacity="0.9"/>
<rect x="280.7" y="161.6" width="1.3" height="1.3" fill="#fff" opacity="0.9"/>
<rect x="278.2" y="165.6" width="1.3" height="1.3" fill="#fff" opacity="0.9"/>
<rect x="275.8" y="169.5" width="1.3" height="1.3" fill="#fff" opacity="0.9"/>
<rect x="273.3" y="173.5" width="1.3" height="1.3" fill="#fff" opacity="0.9"/>
<rect x="270.8" y="177.4" width="1.3" height="1.3" fill="#fff" opacity="0.9"/>
<rect x="268.4" y="181.4" width="1.3" height="1.3" fill="#fff" opacity="0.9"/>
<rect x="265.9" y="185.3" width="1.3" height="1.3" fill="#fff" opacity="0.9"/>
<rect x="263.5" y="189.3" width="1.3" height="1.3" fill="#fff" opacity="0.9"/>
<rect x="261.0" y="193.2" width="1.3" height="1.3" fill="#fff" opacity="0.9"/>
<rect x="258.5" y="197.2" width="1.3" height="1.3" fill="#fff" opacity="0.9"/>
<rect x="256.1" y="201.1" width="1.3" height="1.3" fill="#fff" opacity="0.9"/>
<rect x="253.6" y="205.1" width="1.3" height="1.3" fill="#fff" opacity="0.9"/>
<rect x="251.1" y="209.0" width="1.3" height="1.3" fill="#fff" opacity="0.9"/>
<rect x="248.7" y="213.0" width="1.3" height="1.3" fill="#fff" opacity="0.9"/>
<rect x="246.2" y="216.9" width="1.3" height="1.3" fill="#fff" opacity="0.9"/>
<rect x="243.7" y="220.9" width="1.3" height="1.3" fill="#fff" opacity="0.9"/>
<rect x="241.3" y="224.8" width="1.3" height="1.3" fill="#fff" opacity="0.9"/>
<rect x="238.8" y="228.8" width="1.3" height="1.3" fill="#fff" opacity="0.9"/>
<rect x="236.3" y="232.7" width="1.3" height="1.3" fill="#fff" opacity="0.9"/>
<rect x="233.9" y="236.7" width="1.3" height="1.3" fill="#fff" opacity="0.9"/>
<rect x="231.4" y="240.6" width="1.3" height="1.3" fill="#fff" opacity="0.9"/>
<text x="0" y="0" font-family='"Liberation Sans", sans-serif' font-size="8.0" font-weight="normal" text-anchor="middle" fill="#111" transform="translate(314.5,137.0) rotate(-16) skewX(-28)">0</text>
<text x="0" y="0" font-family='"Liberation Sans", sans-serif' font-size="8.0" font-weight="normal" text-anchor="middle" fill="#111" transform="translate(303.3,156.4) rotate(-16) skewX(-28)">5</text>
<text x="0" y="0" font-family='"Liberation Sans", sans-serif' font-size="8.0" font-weight="normal" text-anchor="middle" fill="#111" transform="translate(293.4,175.8) rotate(-16) skewX(-28)">10</text>
<text x="0" y="0" font-family='"Liberation Sans", sans-serif' font-size="8.0" font-weight="normal" text-anchor="middle" fill="#111" transform="translate(280.3,195.20000000000002) rotate(-16) skewX(-28)">15</text>
<text x="0" y="0" font-family='"Liberation Sans", sans-serif' font-size="8.0" font-weight="normal" text-anchor="middle" fill="#111" transform="translate(266.8,214.6) rotate(-16) skewX(-28)">20</text>
<text x="0" y="0" font-family='"Liberation Sans", sans-serif' font-size="8.0" font-weight="normal" text-anchor="middle" fill="#111" transform="translate(254.2,233.9) rotate(-16) skewX(-28)">25</text>
<text x="0" y="0" font-family='"Liberation Serif", serif' font-size="8.5" font-weight="bold" text-anchor="middle" transform="translate(303.4,190.4) rotate(-56) skewX(-12)">Random spot</text>
<line x1="305.85" y1="8.75" x2="305.85" y2="127.35" stroke="#333" stroke-width="1"/>
<line x1="305.85" y1="127.35" x2="309.05" y2="127.35" stroke="#333" stroke-width="0.8"/>
<line x1="305.85" y1="122.37" x2="307.65" y2="122.37" stroke="#333" stroke-width="0.8"/>
<line x1="305.85" y1="117.39" x2="307.65" y2="117.39" stroke="#333" stroke-width="0.8"/>
<line x1="305.85" y1="112.41" x2="307.65" y2="112.41" stroke="#333" stroke-width="0.8"/>
<line x1="305.85" y1="107.43" x2="307.65" y2="107.43" stroke="#333" stroke-width="0.8"/>
<line x1="305.85" y1="102.45" x2="309.05" y2="102.45" stroke="#333" stroke-width="0.8"/>
<line x1="305.85" y1="97.47" x2="307.65" y2="97.47" stroke="#333" stroke-width="0.8"/>
<line x1="305.85" y1="92.49" x2="307.65" y2="92.49" stroke="#333" stroke-width="0.8"/>
<line x1="305.85" y1="87.51" x2="307.65" y2="87.51" stroke="#333" stroke-width="0.8"/>
<line x1="305.85" y1="82.53" x2="307.65" y2="82.53" stroke="#333" stroke-width="0.8"/>
<line x1="305.85" y1="77.55" x2="309.05" y2="77.55" stroke="#333" stroke-width="0.8"/>
<line x1="305.85" y1="72.57" x2="307.65" y2="72.57" stroke="#333" stroke-width="0.8"/>
<line x1="305.85" y1="67.59" x2="307.65" y2="67.59" stroke="#333" stroke-width="0.8"/>
<line x1="305.85" y1="62.61" x2="307.65" y2="62.61" stroke="#333" stroke-width="0.8"/>
<line x1="305.85" y1="57.63" x2="307.65" y2="57.63" stroke="#333" stroke-width="0.8"/>
<line x1="305.85" y1="52.65" x2="309.05" y2="52.65" stroke="#333" stroke-width="0.8"/>
<line x1="305.85" y1="47.67" x2="307.65" y2="47.67" stroke="#333" stroke-width="0.8"/>
<line x1="305.85" y1="42.69" x2="307.65" y2="42.69" stroke="#333" stroke-width="0.8"/>
<line x1="305.85" y1="37.71" x2="307.65" y2="37.71" stroke="#333" stroke-width="0.8"/>
<line x1="305.85" y1="32.73" x2="307.65" y2="32.73" stroke="#333" stroke-width="0.8"/>
<line x1="305.85" y1="27.75" x2="309.05" y2="27.75" stroke="#333" stroke-width="0.8"/>
<line x1="305.85" y1="22.77" x2="307.65" y2="22.77" stroke="#333" stroke-width="0.8"/>
<line x1="305.85" y1="17.79" x2="307.65" y2="17.79" stroke="#333" stroke-width="0.8"/>
<line x1="305.85" y1="12.81" x2="307.65" y2="12.81" stroke="#333" stroke-width="0.8"/>
<text x="309.2" y="130.45" font-family='"Liberation Sans", sans-serif' font-size="8.6" font-weight="normal" text-anchor="start" fill="#1a1a1a" textLength="14.6" lengthAdjust="spacingAndGlyphs">0.00</text>
<text x="309.2" y="105.55" font-family='"Liberation Sans", sans-serif' font-size="8.6" font-weight="normal" text-anchor="start" fill="#1a1a1a" textLength="23.3" lengthAdjust="spacingAndGlyphs">880.00</text>
<text x="309.2" y="80.65" font-family='"Liberation Sans", sans-serif' font-size="8.6" font-weight="normal" text-anchor="start" fill="#1a1a1a" textLength="18.4" lengthAdjust="spacingAndGlyphs">1.76k</text>
<text x="309.2" y="55.75" font-family='"Liberation Sans", sans-serif' font-size="8.6" font-weight="normal" text-anchor="start" fill="#1a1a1a" textLength="18.4" lengthAdjust="spacingAndGlyphs">2.64k</text>
<text x="309.2" y="30.85" font-family='"Liberation Sans", sans-serif' font-size="8.6" font-weight="normal" text-anchor="start" fill="#1a1a1a" textLength="18.4" lengthAdjust="spacingAndGlyphs">3.52k</text>
<text x="0" y="0" font-family='"Liberation Serif", serif' font-size="12.8" font-weight="bold" text-anchor="middle" transform="translate(338.5,92.2) rotate(-90)">Intensity (a.u.)</text>
<text x="125.6" y="34.3" font-family='"Liberation Serif", serif' font-size="25.5" font-weight="bold" text-anchor="start" >(a)</text>
</g>
<g id="panel-b">
<clipPath id="clipb"><rect x="393.6" y="8.8" width="299.0" height="222.2"/></clipPath>
<g clip-path="url(#clipb)" fill="#ff0000" stroke="#6a0000" stroke-width="0.6">
<rect x="394.97" y="104.00" width="7.45" height="129.00"/>
<rect x="404.91" y="50.00" width="7.45" height="183.00"/>
<rect x="414.85" y="101.25" width="7.45" height="131.75"/>
<rect x="424.79" y="30.00" width="7.45" height="203.00"/>
<rect x="434.73" y="96.25" width="7.45" height="136.75"/>
<rect x="444.67" y="107.50" width="7.45" height="125.50"/>
<rect x="454.61" y="58.25" width="7.45" height="174.75"/>
<rect x="464.55" y="123.00" width="7.45" height="110.00"/>
<rect x="474.49" y="102.00" width="7.45" height="131.00"/>
<rect x="484.43" y="85.25" width="7.45" height="147.75"/>
<rect x="494.37" y="99.00" width="7.45" height="134.00"/>
<rect x="504.31" y="63.25" width="7.45" height="169.75"/>
<rect x="514.25" y="83.25" width="7.45" height="149.75"/>
<rect x="524.19" y="83.25" width="7.45" height="149.75"/>
<rect x="534.13" y="50.50" width="7.45" height="182.50"/>
<rect x="544.07" y="76.25" width="7.45" height="156.75"/>
<rect x="554.01" y="88.25" width="7.45" height="144.75"/>
<rect x="563.95" y="52.50" width="7.45" height="180.50"/>
<rect x="573.89" y="68.75" width="7.45" height="164.25"/>
<rect x="583.83" y="87.25" width="7.45" height="145.75"/>
<rect x="593.77" y="108.75" width="7.45" height="124.25"/>
<rect x="603.71" y="95.50" width="7.45" height="137.50"/>
<rect x="613.65" y="90.25" width="7.45" height="142.75"/>
<rect x="623.59" y="44.50" width="7.45" height="188.50"/>
<rect x="633.53" y="87.75" width="7.45" height="145.25"/>
<rect x="643.48" y="69.75" width="7.45" height="163.25"/>
<rect x="653.41" y="108.75" width="7.45" height="124.25"/>
<rect x="663.35" y="53.00" width="7.45" height="180.00"/>
<rect x="673.29" y="43.00" width="7.45" height="190.00"/>
<rect x="683.24" y="85.25" width="7.45" height="147.75"/>
</g>
<path d="M393.6,8.8 H692.6 V231" fill="none" stroke="#0a0a0a" stroke-width="1.25"/>
<line x1="393.6" y1="8.3" x2="393.6" y2="232.1" stroke="#000" stroke-width="2.0"/>
<line x1="392.6" y1="231" x2="693.1" y2="231" stroke="#000" stroke-width="2.2"/>
<line x1="389.0" y1="231.00" x2="393.6" y2="231.00" stroke="#000" stroke-width="1.2"/>
<line x1="390.8" y1="218.90" x2="393.6" y2="218.90" stroke="#000" stroke-width="1.1"/>
<text x="385.8" y="234.6" font-family='"Liberation Sans", sans-serif' font-size="10.3" font-weight="bold" text-anchor="end" fill="#1a1a1a">0</text>
<line x1="389.0" y1="206.80" x2="393.6" y2="206.80" stroke="#000" stroke-width="1.2"/>
<line x1="390.8" y1="194.70" x2="393.6" y2="194.70" stroke="#000" stroke-width="1.1"/>
<text x="385.8" y="210.4" font-family='"Liberation Sans", sans-serif' font-size="10.3" font-weight="bold" text-anchor="end" fill="#1a1a1a">500</text>
<line x1="389.0" y1="182.60" x2="393.6" y2="182.60" stroke="#000" stroke-width="1.2"/>
<line x1="390.8" y1="170.50" x2="393.6" y2="170.50" stroke="#000" stroke-width="1.1"/>
<text x="365.8" y="186.2" font-family='"Liberation Sans", sans-serif' font-size="10.3" font-weight="bold" text-anchor="start" fill="#1a1a1a">1k</text>
<line x1="389.0" y1="158.40" x2="393.6" y2="158.40" stroke="#000" stroke-width="1.2"/>
<line x1="390.8" y1="146.30" x2="393.6" y2="146.30" stroke="#000" stroke-width="1.1"/>
<text x="365.8" y="162.0" font-family='"Liberation Sans", sans-serif' font-size="10.3" font-weight="bold" text-anchor="start" fill="#1a1a1a">1.5k</text>
<line x1="389.0" y1="134.20" x2="393.6" y2="134.20" stroke="#000" stroke-width="1.2"/>
<line x1="390.8" y1="122.10" x2="393.6" y2="122.10" stroke="#000" stroke-width="1.1"/>
<text x="365.8" y="137.8" font-family='"Liberation Sans", sans-serif' font-size="10.3" font-weight="bold" text-anchor="start" fill="#1a1a1a">2k</text>
<line x1="389.0" y1="110.00" x2="393.6" y2="110.00" stroke="#000" stroke-width="1.2"/>
<line x1="390.8" y1="97.90" x2="393.6" y2="97.90" stroke="#000" stroke-width="1.1"/>
<text x="365.8" y="113.6" font-family='"Liberation Sans", sans-serif' font-size="10.3" font-weight="bold" text-anchor="start" fill="#1a1a1a">2.5k</text>
<line x1="389.0" y1="85.80" x2="393.6" y2="85.80" stroke="#000" stroke-width="1.2"/>
<line x1="390.8" y1="73.70" x2="393.6" y2="73.70" stroke="#000" stroke-width="1.1"/>
<text x="365.8" y="89.4" font-family='"Liberation Sans", sans-serif' font-size="10.3" font-weight="bold" text-anchor="start" fill="#1a1a1a">3k</text>
<line x1="389.0" y1="61.60" x2="393.6" y2="61.60" stroke="#000" stroke-width="1.2"/>
<line x1="390.8" y1="49.50" x2="393.6" y2="49.50" stroke="#000" stroke-width="1.1"/>
<text x="365.8" y="65.2" font-family='"Liberation Sans", sans-serif' font-size="10.3" font-weight="bold" text-anchor="start" fill="#1a1a1a">3.5k</text>
<line x1="389.0" y1="37.40" x2="393.6" y2="37.40" stroke="#000" stroke-width="1.2"/>
<line x1="390.8" y1="25.30" x2="393.6" y2="25.30" stroke="#000" stroke-width="1.1"/>
<text x="365.8" y="41.0" font-family='"Liberation Sans", sans-serif' font-size="10.3" font-weight="bold" text-anchor="start" fill="#1a1a1a">4k</text>
<line x1="389.0" y1="13.20" x2="393.6" y2="13.20" stroke="#000" stroke-width="1.2"/>
<text x="365.8" y="16.8" font-family='"Liberation Sans", sans-serif' font-size="10.3" font-weight="bold" text-anchor="start" fill="#1a1a1a">4.5k</text>
<line x1="413.61" y1="231" x2="413.61" y2="234.1" stroke="#000" stroke-width="1.1"/>
<line x1="438.46" y1="231" x2="438.46" y2="235.9" stroke="#000" stroke-width="1.1"/>
<text x="438.46" y="247.1" font-family='"Liberation Sans", sans-serif' font-size="10.3" font-weight="bold" text-anchor="middle" fill="#1a1a1a">5</text>
<line x1="463.31" y1="231" x2="463.31" y2="234.1" stroke="#000" stroke-width="1.1"/>
<line x1="488.16" y1="231" x2="488.16" y2="235.9" stroke="#000" stroke-width="1.1"/>
<text x="488.16" y="247.1" font-family='"Liberation Sans", sans-serif' font-size="10.3" font-weight="bold" text-anchor="middle" fill="#1a1a1a">10</text>
<line x1="513.01" y1="231" x2="513.01" y2="234.1" stroke="#000" stroke-width="1.1"/>
<line x1="537.86" y1="231" x2="537.86" y2="235.9" stroke="#000" stroke-width="1.1"/>
<text x="537.86" y="247.1" font-family='"Liberation Sans", sans-serif' font-size="10.3" font-weight="bold" text-anchor="middle" fill="#1a1a1a">15</text>
<line x1="562.71" y1="231" x2="562.71" y2="234.1" stroke="#000" stroke-width="1.1"/>
<line x1="587.56" y1="231" x2="587.56" y2="235.9" stroke="#000" stroke-width="1.1"/>
<text x="587.56" y="247.1" font-family='"Liberation Sans", sans-serif' font-size="10.3" font-weight="bold" text-anchor="middle" fill="#1a1a1a">20</text>
<line x1="612.41" y1="231" x2="612.41" y2="234.1" stroke="#000" stroke-width="1.1"/>
<line x1="637.26" y1="231" x2="637.26" y2="235.9" stroke="#000" stroke-width="1.1"/>
<text x="637.26" y="247.1" font-family='"Liberation Sans", sans-serif' font-size="10.3" font-weight="bold" text-anchor="middle" fill="#1a1a1a">25</text>
<line x1="662.11" y1="231" x2="662.11" y2="234.1" stroke="#000" stroke-width="1.1"/>
<line x1="686.96" y1="231" x2="686.96" y2="235.9" stroke="#000" stroke-width="1.1"/>
<text x="686.96" y="247.1" font-family='"Liberation Sans", sans-serif' font-size="10.3" font-weight="bold" text-anchor="middle" fill="#1a1a1a">30</text>
<text x="543" y="267.6" font-family='"Liberation Serif", serif' font-size="13" font-weight="bold" text-anchor="middle" >Random spot</text>
<text x="0" y="0" font-family='"Liberation Serif", serif' font-size="13.2" font-weight="bold" text-anchor="middle" transform="translate(354.4,128.1) rotate(-90)">Intensity (a.u.)</text>
<text x="399.5" y="25" font-family='"Liberation Serif", serif' font-size="12.3" font-weight="bold" text-anchor="start" >RSD=15.69%</text>
<text x="486.6" y="33.8" font-family='"Liberation Serif", serif' font-size="25.6" font-weight="bold" text-anchor="start" >(b)</text>
<text x="630.5" y="28.8" font-family='"Liberation Serif", serif' font-size="12" font-weight="bold" text-anchor="start" >610cm<tspan dy="-4.8" font-size="8.8">-1</tspan></text>
</g>
<g id="panel-c">
<clipPath id="clipc"><rect x="50.2" y="279.8" width="282.8" height="212.2"/></clipPath>
<g clip-path="url(#clipc)" fill="#ff0000" stroke="#6a0000" stroke-width="0.6">
<rect x="51.88" y="366.00" width="7.05" height="128.00"/>
<rect x="61.29" y="329.25" width="7.05" height="164.75"/>
<rect x="70.69" y="359.75" width="7.05" height="134.25"/>
<rect x="80.10" y="343.00" width="7.05" height="151.00"/>
<rect x="89.51" y="368.00" width="7.05" height="126.00"/>
<rect x="98.92" y="389.25" width="7.05" height="104.75"/>
<rect x="108.33" y="314.00" width="7.05" height="180.00"/>
<rect x="117.75" y="379.00" width="7.05" height="115.00"/>
<rect x="127.16" y="415.25" width="7.05" height="78.75"/>
<rect x="136.56" y="363.75" width="7.05" height="130.25"/>
<rect x="145.97" y="375.00" width="7.05" height="119.00"/>
<rect x="155.38" y="334.00" width="7.05" height="160.00"/>
<rect x="164.79" y="347.50" width="7.05" height="146.50"/>
<rect x="174.20" y="384.75" width="7.05" height="109.25"/>
<rect x="183.62" y="315.25" width="7.05" height="178.75"/>
<rect x="193.03" y="365.00" width="7.05" height="129.00"/>
<rect x="202.44" y="331.00" width="7.05" height="163.00"/>
<rect x="211.84" y="321.00" width="7.05" height="173.00"/>
<rect x="221.25" y="344.00" width="7.05" height="150.00"/>
<rect x="230.66" y="346.50" width="7.05" height="147.50"/>
<rect x="240.07" y="352.50" width="7.05" height="141.50"/>
<rect x="249.49" y="367.75" width="7.05" height="126.25"/>
<rect x="258.90" y="366.25" width="7.05" height="127.75"/>
<rect x="268.31" y="317.00" width="7.05" height="177.00"/>
<rect x="277.72" y="328.25" width="7.05" height="165.75"/>
<rect x="287.12" y="358.00" width="7.05" height="136.00"/>
<rect x="296.54" y="395.25" width="7.05" height="98.75"/>
<rect x="305.94" y="352.75" width="7.05" height="141.25"/>
<rect x="315.36" y="339.00" width="7.05" height="155.00"/>
<rect x="324.76" y="366.75" width="7.05" height="127.25"/>
</g>
<path d="M50.2,279.8 H333 V492" fill="none" stroke="#0a0a0a" stroke-width="1.25"/>
<line x1="50.2" y1="279.3" x2="50.2" y2="493.0" stroke="#000" stroke-width="1.5"/>
<line x1="49.45" y1="492" x2="333.5" y2="492" stroke="#000" stroke-width="2.0"/>
<line x1="45.6" y1="492.00" x2="50.2" y2="492.00" stroke="#000" stroke-width="1.2"/>
<line x1="47.400000000000006" y1="476.84" x2="50.2" y2="476.84" stroke="#000" stroke-width="1.1"/>
<text x="43.3" y="495.6" font-family='"Liberation Sans", sans-serif' font-size="10.0" font-weight="bold" text-anchor="end" fill="#1a1a1a">0</text>
<line x1="45.6" y1="461.69" x2="50.2" y2="461.69" stroke="#000" stroke-width="1.2"/>
<line x1="47.400000000000006" y1="446.53" x2="50.2" y2="446.53" stroke="#000" stroke-width="1.1"/>
<text x="43.3" y="465.29" font-family='"Liberation Sans", sans-serif' font-size="10.0" font-weight="bold" text-anchor="end" fill="#1a1a1a">500</text>
<line x1="45.6" y1="431.37" x2="50.2" y2="431.37" stroke="#000" stroke-width="1.2"/>
<line x1="47.400000000000006" y1="416.21" x2="50.2" y2="416.21" stroke="#000" stroke-width="1.1"/>
<text x="23.8" y="434.97" font-family='"Liberation Sans", sans-serif' font-size="10.0" font-weight="bold" text-anchor="start" fill="#1a1a1a">1k</text>
<line x1="45.6" y1="401.06" x2="50.2" y2="401.06" stroke="#000" stroke-width="1.2"/>
<line x1="47.400000000000006" y1="385.90" x2="50.2" y2="385.90" stroke="#000" stroke-width="1.1"/>
<text x="23.8" y="404.66" font-family='"Liberation Sans", sans-serif' font-size="10.0" font-weight="bold" text-anchor="start" fill="#1a1a1a">1.5k</text>
<line x1="45.6" y1="370.74" x2="50.2" y2="370.74" stroke="#000" stroke-width="1.2"/>
<line x1="47.400000000000006" y1="355.59" x2="50.2" y2="355.59" stroke="#000" stroke-width="1.1"/>
<text x="23.8" y="374.34" font-family='"Liberation Sans", sans-serif' font-size="10.0" font-weight="bold" text-anchor="start" fill="#1a1a1a">2k</text>
<line x1="45.6" y1="340.43" x2="50.2" y2="340.43" stroke="#000" stroke-width="1.2"/>
<line x1="47.400000000000006" y1="325.27" x2="50.2" y2="325.27" stroke="#000" stroke-width="1.1"/>
<text x="23.8" y="344.03" font-family='"Liberation Sans", sans-serif' font-size="10.0" font-weight="bold" text-anchor="start" fill="#1a1a1a">2.5k</text>
<line x1="45.6" y1="310.11" x2="50.2" y2="310.11" stroke="#000" stroke-width="1.2"/>
<line x1="47.400000000000006" y1="294.96" x2="50.2" y2="294.96" stroke="#000" stroke-width="1.1"/>
<text x="23.8" y="313.71" font-family='"Liberation Sans", sans-serif' font-size="10.0" font-weight="bold" text-anchor="start" fill="#1a1a1a">3k</text>
<line x1="45.6" y1="279.80" x2="50.2" y2="279.80" stroke="#000" stroke-width="1.2"/>
<text x="23.8" y="283.4" font-family='"Liberation Sans", sans-serif' font-size="10.0" font-weight="bold" text-anchor="start" fill="#1a1a1a">3.5k</text>
<line x1="69.52" y1="492" x2="69.52" y2="495.1" stroke="#000" stroke-width="1.1"/>
<line x1="93.04" y1="492" x2="93.04" y2="496.9" stroke="#000" stroke-width="1.1"/>
<text x="93.04" y="506.7" font-family='"Liberation Sans", sans-serif' font-size="10.0" font-weight="bold" text-anchor="middle" fill="#1a1a1a">5</text>
<line x1="116.56" y1="492" x2="116.56" y2="495.1" stroke="#000" stroke-width="1.1"/>
<line x1="140.09" y1="492" x2="140.09" y2="496.9" stroke="#000" stroke-width="1.1"/>
<text x="140.09" y="506.7" font-family='"Liberation Sans", sans-serif' font-size="10.0" font-weight="bold" text-anchor="middle" fill="#1a1a1a">10</text>
<line x1="163.62" y1="492" x2="163.62" y2="495.1" stroke="#000" stroke-width="1.1"/>
<line x1="187.14" y1="492" x2="187.14" y2="496.9" stroke="#000" stroke-width="1.1"/>
<text x="187.14" y="506.7" font-family='"Liberation Sans", sans-serif' font-size="10.0" font-weight="bold" text-anchor="middle" fill="#1a1a1a">15</text>
<line x1="210.67" y1="492" x2="210.67" y2="495.1" stroke="#000" stroke-width="1.1"/>
<line x1="234.19" y1="492" x2="234.19" y2="496.9" stroke="#000" stroke-width="1.1"/>
<text x="234.19" y="506.7" font-family='"Liberation Sans", sans-serif' font-size="10.0" font-weight="bold" text-anchor="middle" fill="#1a1a1a">20</text>
<line x1="257.71" y1="492" x2="257.71" y2="495.1" stroke="#000" stroke-width="1.1"/>
<line x1="281.24" y1="492" x2="281.24" y2="496.9" stroke="#000" stroke-width="1.1"/>
<text x="281.24" y="506.7" font-family='"Liberation Sans", sans-serif' font-size="10.0" font-weight="bold" text-anchor="middle" fill="#1a1a1a">25</text>
<line x1="304.76" y1="492" x2="304.76" y2="495.1" stroke="#000" stroke-width="1.1"/>
<line x1="328.29" y1="492" x2="328.29" y2="496.9" stroke="#000" stroke-width="1.1"/>
<text x="328.29" y="506.7" font-family='"Liberation Sans", sans-serif' font-size="10.0" font-weight="bold" text-anchor="middle" fill="#1a1a1a">30</text>
<text x="192" y="526.8" font-family='"Liberation Serif", serif' font-size="12.4" font-weight="bold" text-anchor="middle" >Random spot</text>
<text x="0" y="0" font-family='"Liberation Serif", serif' font-size="12.7" font-weight="bold" text-anchor="middle" transform="translate(13.4,393.7) rotate(-90)">Intensity (a.u.)</text>
<text x="57.5" y="297.8" font-family='"Liberation Serif", serif' font-size="12" font-weight="normal" text-anchor="start" stroke="#000" stroke-width="0.45">RSD=18.17%</text>
<text x="131.5" y="307.3" font-family='"Liberation Serif", serif' font-size="25.5" font-weight="bold" text-anchor="start" >(c)</text>
<text x="274.5" y="299.8" font-family='"Liberation Serif", serif' font-size="11.8" font-weight="bold" text-anchor="start" >1361cm<tspan dy="-4.8" font-size="8.8">-1</tspan></text>
</g>
<g id="panel-d">
<clipPath id="clipd"><rect x="392.3" y="277.8" width="297.40000000000003" height="217.45"/></clipPath>
<g clip-path="url(#clipd)" fill="#ff0000" stroke="#6a0000" stroke-width="0.6">
<rect x="392.50" y="365.00" width="7.40" height="132.25"/>
<rect x="402.45" y="316.75" width="7.40" height="180.50"/>
<rect x="412.40" y="382.25" width="7.40" height="115.00"/>
<rect x="422.35" y="354.00" width="7.40" height="143.25"/>
<rect x="432.30" y="370.00" width="7.40" height="127.25"/>
<rect x="442.25" y="312.50" width="7.40" height="184.75"/>
<rect x="452.20" y="364.50" width="7.40" height="132.75"/>
<rect x="462.15" y="367.75" width="7.40" height="129.50"/>
<rect x="472.10" y="359.00" width="7.40" height="138.25"/>
<rect x="482.05" y="360.50" width="7.40" height="136.75"/>
<rect x="492.00" y="314.50" width="7.40" height="182.75"/>
<rect x="501.95" y="349.75" width="7.40" height="147.50"/>
<rect x="511.90" y="383.25" width="7.40" height="114.00"/>
<rect x="521.85" y="335.50" width="7.40" height="161.75"/>
<rect x="531.80" y="363.50" width="7.40" height="133.75"/>
<rect x="541.75" y="331.00" width="7.40" height="166.25"/>
<rect x="551.70" y="359.50" width="7.40" height="137.75"/>
<rect x="561.65" y="364.75" width="7.40" height="132.50"/>
<rect x="571.60" y="360.50" width="7.40" height="136.75"/>
<rect x="581.55" y="367.25" width="7.40" height="130.00"/>
<rect x="591.50" y="375.00" width="7.40" height="122.25"/>
<rect x="601.45" y="394.75" width="7.40" height="102.50"/>
<rect x="611.40" y="323.00" width="7.40" height="174.25"/>
<rect x="621.35" y="350.25" width="7.40" height="147.00"/>
<rect x="631.30" y="384.00" width="7.40" height="113.25"/>
<rect x="641.25" y="370.25" width="7.40" height="127.00"/>
<rect x="651.20" y="370.25" width="7.40" height="127.00"/>
<rect x="661.15" y="375.25" width="7.40" height="122.00"/>
<rect x="671.10" y="414.50" width="7.40" height="82.75"/>
<rect x="681.05" y="382.25" width="7.40" height="115.00"/>
</g>
<path d="M392.3,277.8 H689.7 V495.25" fill="none" stroke="#0a0a0a" stroke-width="1.25"/>
<line x1="392.3" y1="277.3" x2="392.3" y2="496.25" stroke="#000" stroke-width="1.5"/>
<line x1="391.55" y1="495.25" x2="690.2" y2="495.25" stroke="#000" stroke-width="2.0"/>
<line x1="387.7" y1="495.25" x2="392.3" y2="495.25" stroke="#000" stroke-width="1.2"/>
<line x1="389.5" y1="479.72" x2="392.3" y2="479.72" stroke="#000" stroke-width="1.1"/>
<text x="384.2" y="498.85" font-family='"Liberation Sans", sans-serif' font-size="10.2" font-weight="bold" text-anchor="end" fill="#1a1a1a">0</text>
<line x1="387.7" y1="464.19" x2="392.3" y2="464.19" stroke="#000" stroke-width="1.2"/>
<line x1="389.5" y1="448.65" x2="392.3" y2="448.65" stroke="#000" stroke-width="1.1"/>
<text x="384.2" y="467.79" font-family='"Liberation Sans", sans-serif' font-size="10.2" font-weight="bold" text-anchor="end" fill="#1a1a1a">500</text>
<line x1="387.7" y1="433.12" x2="392.3" y2="433.12" stroke="#000" stroke-width="1.2"/>
<line x1="389.5" y1="417.59" x2="392.3" y2="417.59" stroke="#000" stroke-width="1.1"/>
<text x="364.2" y="436.72" font-family='"Liberation Sans", sans-serif' font-size="10.2" font-weight="bold" text-anchor="start" fill="#1a1a1a">1k</text>
<line x1="387.7" y1="402.06" x2="392.3" y2="402.06" stroke="#000" stroke-width="1.2"/>
<line x1="389.5" y1="386.53" x2="392.3" y2="386.53" stroke="#000" stroke-width="1.1"/>
<text x="364.2" y="405.66" font-family='"Liberation Sans", sans-serif' font-size="10.2" font-weight="bold" text-anchor="start" fill="#1a1a1a">1.5k</text>
<line x1="387.7" y1="370.99" x2="392.3" y2="370.99" stroke="#000" stroke-width="1.2"/>
<line x1="389.5" y1="355.46" x2="392.3" y2="355.46" stroke="#000" stroke-width="1.1"/>
<text x="364.2" y="374.59" font-family='"Liberation Sans", sans-serif' font-size="10.2" font-weight="bold" text-anchor="start" fill="#1a1a1a">2k</text>
<line x1="387.7" y1="339.93" x2="392.3" y2="339.93" stroke="#000" stroke-width="1.2"/>
<line x1="389.5" y1="324.40" x2="392.3" y2="324.40" stroke="#000" stroke-width="1.1"/>
<text x="364.2" y="343.53" font-family='"Liberation Sans", sans-serif' font-size="10.2" font-weight="bold" text-anchor="start" fill="#1a1a1a">2.5k</text>
<line x1="387.7" y1="308.86" x2="392.3" y2="308.86" stroke="#000" stroke-width="1.2"/>
<line x1="389.5" y1="293.33" x2="392.3" y2="293.33" stroke="#000" stroke-width="1.1"/>
<text x="364.2" y="312.46" font-family='"Liberation Sans", sans-serif' font-size="10.2" font-weight="bold" text-anchor="start" fill="#1a1a1a">3k</text>
<line x1="387.7" y1="277.80" x2="392.3" y2="277.80" stroke="#000" stroke-width="1.2"/>
<text x="364.2" y="281.4" font-family='"Liberation Sans", sans-serif' font-size="10.2" font-weight="bold" text-anchor="start" fill="#1a1a1a">3.5k</text>
<line x1="411.12" y1="495.25" x2="411.12" y2="498.35" stroke="#000" stroke-width="1.1"/>
<line x1="436.00" y1="495.25" x2="436.00" y2="500.15" stroke="#000" stroke-width="1.1"/>
<text x="436.0" y="510.5" font-family='"Liberation Sans", sans-serif' font-size="10.2" font-weight="bold" text-anchor="middle" fill="#1a1a1a">5</text>
<line x1="460.88" y1="495.25" x2="460.88" y2="498.35" stroke="#000" stroke-width="1.1"/>
<line x1="485.75" y1="495.25" x2="485.75" y2="500.15" stroke="#000" stroke-width="1.1"/>
<text x="485.75" y="510.5" font-family='"Liberation Sans", sans-serif' font-size="10.2" font-weight="bold" text-anchor="middle" fill="#1a1a1a">10</text>
<line x1="510.62" y1="495.25" x2="510.62" y2="498.35" stroke="#000" stroke-width="1.1"/>
<line x1="535.50" y1="495.25" x2="535.50" y2="500.15" stroke="#000" stroke-width="1.1"/>
<text x="535.5" y="510.5" font-family='"Liberation Sans", sans-serif' font-size="10.2" font-weight="bold" text-anchor="middle" fill="#1a1a1a">15</text>
<line x1="560.38" y1="495.25" x2="560.38" y2="498.35" stroke="#000" stroke-width="1.1"/>
<line x1="585.25" y1="495.25" x2="585.25" y2="500.15" stroke="#000" stroke-width="1.1"/>
<text x="585.25" y="510.5" font-family='"Liberation Sans", sans-serif' font-size="10.2" font-weight="bold" text-anchor="middle" fill="#1a1a1a">20</text>
<line x1="610.12" y1="495.25" x2="610.12" y2="498.35" stroke="#000" stroke-width="1.1"/>
<line x1="635.00" y1="495.25" x2="635.00" y2="500.15" stroke="#000" stroke-width="1.1"/>
<text x="635.0" y="510.5" font-family='"Liberation Sans", sans-serif' font-size="10.2" font-weight="bold" text-anchor="middle" fill="#1a1a1a">25</text>
<line x1="659.88" y1="495.25" x2="659.88" y2="498.35" stroke="#000" stroke-width="1.1"/>
<line x1="684.75" y1="495.25" x2="684.75" y2="500.15" stroke="#000" stroke-width="1.1"/>
<text x="684.75" y="510.5" font-family='"Liberation Sans", sans-serif' font-size="10.2" font-weight="bold" text-anchor="middle" fill="#1a1a1a">30</text>
<text x="541" y="529.3" font-family='"Liberation Serif", serif' font-size="13" font-weight="bold" text-anchor="middle" >Random spot</text>
<text x="0" y="0" font-family='"Liberation Serif", serif' font-size="12.9" font-weight="bold" text-anchor="middle" transform="translate(354.1,395.2) rotate(-90)">Intensity (a.u.)</text>
<text x="399.3" y="295.3" font-family='"Liberation Serif", serif' font-size="12.3" font-weight="bold" text-anchor="start" >RSD=17.79%</text>
<text x="490.2" y="305.7" font-family='"Liberation Serif", serif' font-size="25.5" font-weight="bold" text-anchor="start" >(d)</text>
<text x="626.5" y="299" font-family='"Liberation Serif", serif' font-size="12.2" font-weight="bold" text-anchor="start" >1651cm<tspan dy="-4.8" font-size="8.8">-1</tspan></text>
</g>
</svg></body></html>
